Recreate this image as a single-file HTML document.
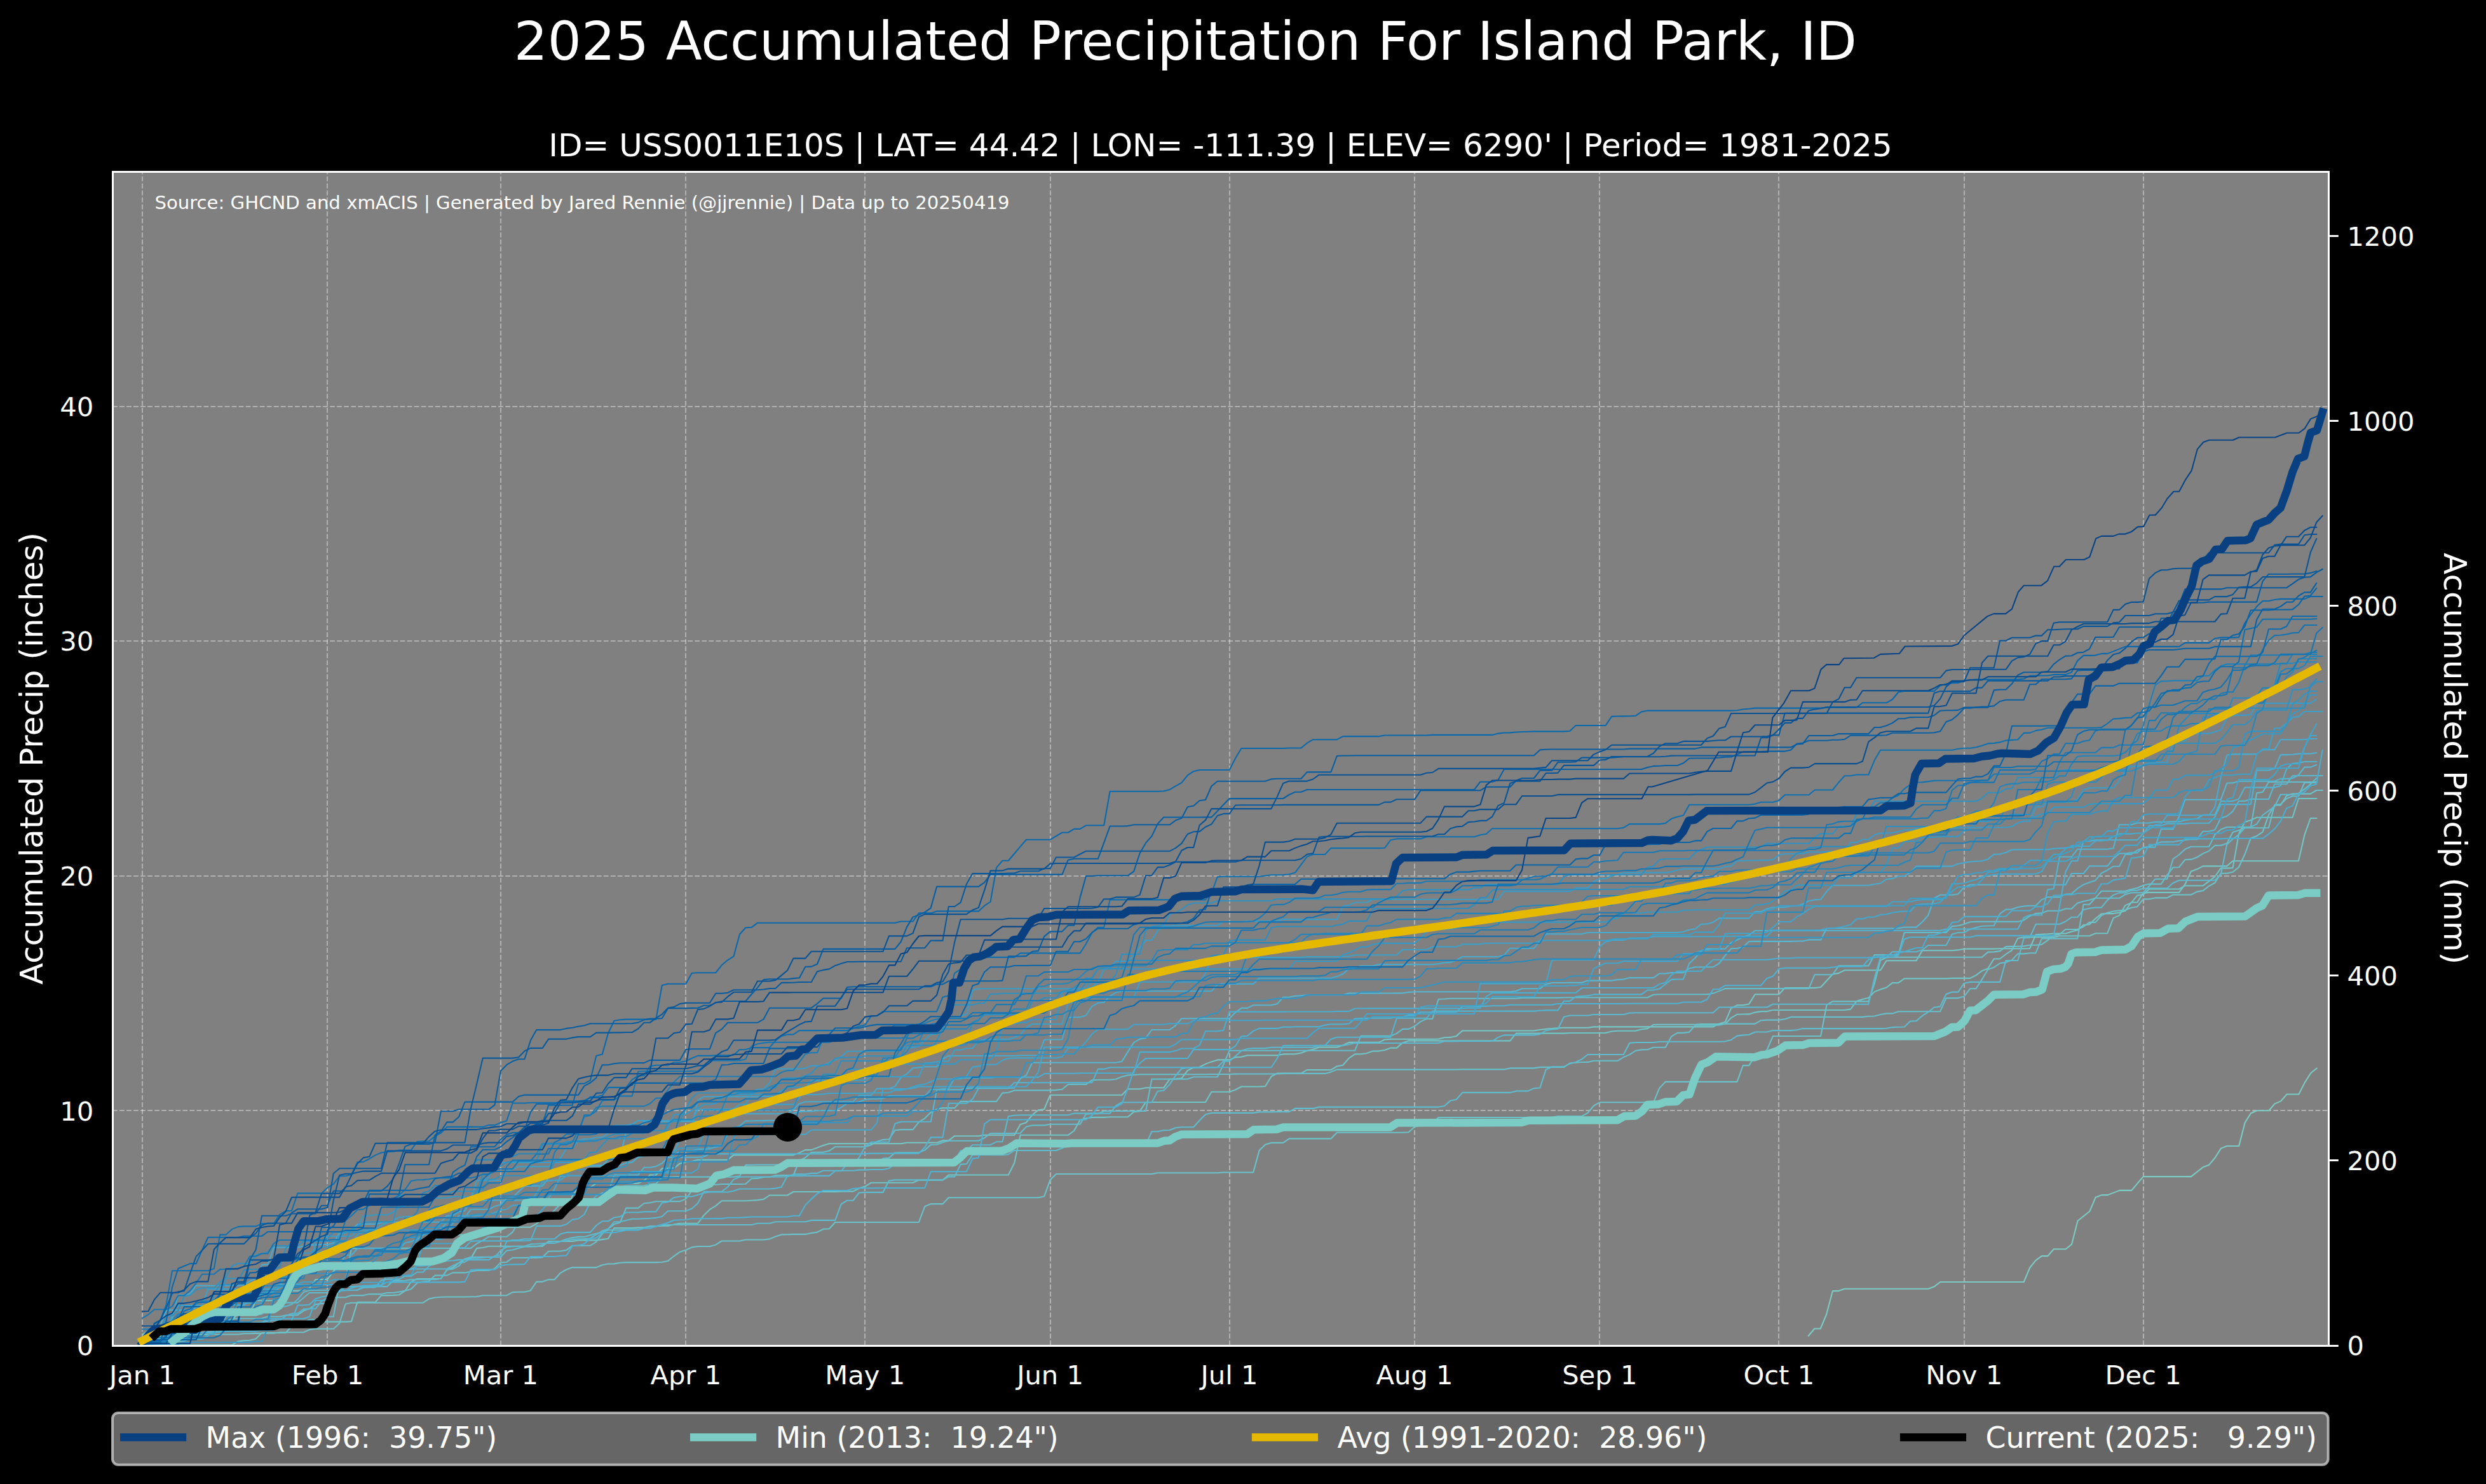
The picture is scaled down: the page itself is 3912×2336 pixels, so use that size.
<!DOCTYPE html>
<html lang="en"><head><meta charset="utf-8"><title>2025 Accumulated Precipitation For Island Park, ID</title>
<style>html,body{margin:0;padding:0;background:#000}body{width:3912px;height:2336px;overflow:hidden}svg{display:block}</style>
</head><body>
<svg width="3912" height="2336" viewBox="0 0 3912 2336" role="img" aria-label="2025 Accumulated Precipitation For Island Park, ID">
<rect x="0" y="0" width="3912" height="2336" fill="#000"/>
<rect x="177.0" y="270.0" width="3487.0" height="1848.0" fill="#808080"/>
<g stroke="#fff" stroke-opacity="0.38" stroke-width="2.08" stroke-dasharray="7.71 3.33" fill="none">
<path d="M224 2118.0V270.0"/>
<path d="M515 2118.0V270.0"/>
<path d="M788 2118.0V270.0"/>
<path d="M1079 2118.0V270.0"/>
<path d="M1361 2118.0V270.0"/>
<path d="M1653 2118.0V270.0"/>
<path d="M1935 2118.0V270.0"/>
<path d="M2226 2118.0V270.0"/>
<path d="M2517 2118.0V270.0"/>
<path d="M2799 2118.0V270.0"/>
<path d="M3091 2118.0V270.0"/>
<path d="M3373 2118.0V270.0"/>
<path d="M177.0 1748H3664.0"/>
<path d="M177.0 1379H3664.0"/>
<path d="M177.0 1009H3664.0"/>
<path d="M177.0 640H3664.0"/>
</g>
<clipPath id="ax"><rect x="177.0" y="270.0" width="3487.0" height="1848.0"/></clipPath>
<g clip-path="url(#ax)" fill="none" stroke-linejoin="round" stroke-linecap="square">
<g stroke-width="2.08">
<path stroke="#73c7c7" d="M224.0 2101.2L233.4 2094.6L242.8 2094.6L252.2 2094.6L261.6 2090.8L271.0 2090.4L280.4 2090.4L289.8 2090.4L299.2 2090.4L308.6 2090.4L318.0 2090.3L327.4 2090.3L336.8 2085.4L346.2 2085.4L355.6 2081.7L365.0 2077.1L374.4 2068.7L383.8 2068.7L393.2 2068.7L402.6 2047.3L412.0 2047.3L421.4 2047.3L430.8 2047.0L440.2 2044.4L449.6 2032.8L459.0 2031.9L468.4 2031.9L477.8 2030.4L487.2 2027.6L496.6 2014.0L506.0 2014.0L515.4 2013.9L524.8 2000.9L534.2 1992.5L543.6 1992.4L553.0 1992.2L562.4 1989.6L571.8 1988.0L581.2 1987.4L590.6 1986.7L600.0 1986.7L609.4 1986.7L618.7 1986.7L628.1 1986.7L637.5 1982.2L646.9 1976.5L656.3 1976.5L665.7 1961.0L675.1 1948.0L684.5 1948.0L693.9 1946.0L703.3 1944.7L712.7 1944.7L722.1 1943.9L731.5 1943.9L740.9 1943.9L750.3 1943.9L759.7 1943.9L769.1 1936.6L778.5 1936.6L787.9 1935.0L797.3 1931.7L806.7 1931.7L816.1 1931.7L825.5 1931.7L834.9 1931.7L844.3 1926.3L853.7 1919.0L863.1 1910.6L872.5 1910.6L881.9 1910.6L891.3 1910.6L900.7 1882.5L910.1 1870.2L919.5 1869.1L928.9 1869.1L938.3 1862.7L947.7 1862.7L957.1 1862.7L966.5 1862.7L975.9 1862.7L985.3 1862.7L994.7 1862.7L1004.1 1862.7L1013.5 1858.4L1022.9 1849.5L1032.3 1849.5L1041.7 1839.4L1051.1 1839.0L1060.5 1839.0L1069.9 1831.6L1079.3 1829.2L1088.7 1828.0L1098.1 1825.7L1107.5 1825.7L1116.9 1825.7L1126.3 1825.7L1135.7 1825.7L1145.1 1825.6L1154.5 1818.1L1163.9 1818.1L1173.3 1818.1L1182.7 1818.1L1192.1 1818.1L1201.5 1818.1L1210.9 1818.1L1220.3 1818.1L1229.7 1818.1L1239.1 1818.1L1248.5 1818.1L1257.9 1814.6L1267.3 1810.1L1276.7 1810.1L1286.1 1806.6L1295.5 1803.0L1304.9 1800.3L1314.3 1800.3L1323.7 1800.3L1333.1 1800.3L1342.5 1800.3L1351.9 1800.3L1361.3 1800.3L1370.7 1800.3L1380.1 1800.3L1389.5 1800.3L1398.9 1800.3L1408.3 1800.3L1417.7 1800.3L1427.1 1798.7L1436.5 1798.7L1445.9 1798.7L1455.3 1798.7L1464.7 1798.7L1474.1 1798.7L1483.5 1795.4L1492.8 1795.4L1502.2 1788.2L1511.6 1788.2L1521.0 1788.2L1530.4 1788.2L1539.8 1788.2L1549.2 1786.8L1558.6 1786.7L1568.0 1786.7L1577.4 1786.7L1586.8 1786.7L1596.2 1786.7L1605.6 1769.9L1615.0 1766.9L1624.4 1755.0L1633.8 1747.4L1643.2 1746.0L1652.6 1723.7L1662.0 1723.7L1671.4 1723.7L1680.8 1723.7L1690.2 1723.7L1699.6 1723.7L1709.0 1723.7L1718.4 1723.7L1727.8 1723.7L1737.2 1723.7L1746.6 1723.7L1756.0 1723.7L1765.4 1723.7L1774.8 1714.2L1784.2 1714.2L1793.6 1714.2L1803.0 1712.3L1812.4 1712.3L1821.8 1712.3L1831.2 1712.3L1840.6 1698.8L1850.0 1698.4L1859.4 1697.4L1868.8 1685.1L1878.2 1680.4L1887.6 1679.7L1897.0 1674.9L1906.4 1671.4L1915.8 1668.4L1925.2 1668.4L1934.6 1668.4L1944.0 1664.2L1953.4 1663.8L1962.8 1661.2L1972.2 1661.2L1981.6 1661.2L1991.0 1661.2L2000.4 1661.2L2009.8 1661.2L2019.2 1659.4L2028.6 1659.3L2038.0 1659.3L2047.4 1657.6L2056.8 1654.0L2066.2 1652.0L2075.6 1648.5L2085.0 1648.5L2094.4 1648.5L2103.8 1648.5L2113.2 1645.5L2122.6 1640.9L2132.0 1640.9L2141.4 1640.9L2150.8 1640.9L2160.2 1640.9L2169.6 1640.9L2179.0 1636.5L2188.4 1635.7L2197.8 1635.7L2207.2 1635.7L2216.6 1635.7L2226.0 1635.7L2235.4 1635.7L2244.8 1635.7L2254.2 1635.7L2263.6 1635.5L2273.0 1633.2L2282.4 1632.9L2291.8 1630.9L2301.2 1622.5L2310.6 1622.5L2320.0 1622.5L2329.4 1622.5L2338.8 1622.5L2348.2 1622.5L2357.5 1622.5L2366.9 1622.5L2376.3 1622.5L2385.7 1622.5L2395.1 1622.5L2404.5 1622.5L2413.9 1622.5L2423.3 1621.0L2432.7 1619.7L2442.1 1619.1L2451.5 1618.2L2460.9 1617.8L2470.3 1617.7L2479.7 1617.7L2489.1 1617.7L2498.5 1617.7L2507.9 1616.4L2517.3 1616.4L2526.7 1616.4L2536.1 1616.4L2545.5 1616.4L2554.9 1616.4L2564.3 1616.4L2573.7 1616.4L2583.1 1616.4L2592.5 1616.4L2601.9 1616.4L2611.3 1616.4L2620.7 1616.4L2630.1 1616.4L2639.5 1616.4L2648.9 1616.4L2658.3 1616.4L2667.7 1616.4L2677.1 1616.4L2686.5 1616.4L2695.9 1616.4L2705.3 1611.4L2714.7 1608.8L2724.1 1587.2L2733.5 1582.3L2742.9 1582.3L2752.3 1580.4L2761.7 1565.3L2771.1 1565.3L2780.5 1565.3L2789.9 1565.3L2799.3 1565.3L2808.7 1555.1L2818.1 1555.1L2827.5 1555.1L2836.9 1555.1L2846.3 1555.1L2855.7 1555.1L2865.1 1554.0L2874.5 1543.8L2883.9 1533.5L2893.3 1531.9L2902.7 1527.3L2912.1 1527.3L2921.5 1527.3L2930.9 1527.3L2940.3 1527.3L2949.7 1527.3L2959.1 1527.3L2968.5 1512.2L2977.9 1512.2L2987.3 1512.2L2996.7 1512.2L3006.1 1512.2L3015.5 1512.2L3024.9 1496.2L3034.3 1496.2L3043.7 1496.2L3053.1 1496.2L3062.5 1496.2L3071.9 1496.2L3081.3 1495.4L3090.7 1493.7L3100.1 1493.6L3109.5 1493.6L3118.9 1493.6L3128.3 1493.6L3137.7 1493.6L3147.1 1493.3L3156.5 1493.3L3165.9 1493.3L3175.3 1493.3L3184.7 1493.3L3194.1 1493.0L3203.5 1471.3L3212.9 1470.8L3222.3 1470.3L3231.6 1469.5L3241.0 1469.5L3250.4 1469.5L3259.8 1466.5L3269.2 1464.2L3278.6 1456.0L3288.0 1455.3L3297.4 1446.0L3306.8 1438.5L3316.2 1438.1L3325.6 1438.1L3335.0 1436.4L3344.4 1433.8L3353.8 1420.5L3363.2 1420.5L3372.6 1405.8L3382.0 1404.9L3391.4 1404.9L3400.8 1404.9L3410.2 1404.9L3419.6 1404.9L3429.0 1404.9L3438.4 1392.2L3447.8 1371.8L3457.2 1368.3L3466.6 1363.4L3476.0 1363.4L3485.4 1363.4L3494.8 1363.4L3504.2 1363.4L3513.6 1355.2L3523.0 1355.2L3532.4 1355.2L3541.8 1355.2L3551.2 1355.2L3560.6 1355.2L3570.0 1355.2L3579.4 1355.2L3588.8 1355.2L3598.2 1355.2L3607.6 1355.2L3617.0 1355.2L3626.4 1314.4L3635.8 1288.0L3645.2 1288.0"/>
<path stroke="#6ec5c8" d="M224.0 2117.4L233.4 2117.4L242.8 2117.4L252.2 2117.4L261.6 2117.4L271.0 2117.4L280.4 2117.4L289.8 2117.4L299.2 2117.4L308.6 2117.4L318.0 2117.4L327.4 2117.4L336.8 2117.4L346.2 2117.4L355.6 2117.4L365.0 2117.2L374.4 2111.6L383.8 2110.2L393.2 2109.8L402.6 2107.4L412.0 2098.0L421.4 2098.0L430.8 2098.0L440.2 2098.0L449.6 2098.0L459.0 2087.7L468.4 2085.2L477.8 2084.4L487.2 2081.7L496.6 2081.1L506.0 2080.6L515.4 2080.6L524.8 2080.6L534.2 2080.6L543.6 2080.6L553.0 2080.1L562.4 2049.9L571.8 2049.9L581.2 2049.9L590.6 2049.9L600.0 2039.3L609.4 2039.1L618.7 2038.9L628.1 2038.2L637.5 2032.0L646.9 2017.8L656.3 2013.0L665.7 2013.0L675.1 2013.0L684.5 2013.0L693.9 2013.0L703.3 1999.1L712.7 1995.4L722.1 1987.9L731.5 1981.9L740.9 1980.9L750.3 1964.9L759.7 1964.0L769.1 1961.8L778.5 1961.8L787.9 1961.8L797.3 1961.8L806.7 1961.8L816.1 1961.8L825.5 1961.8L834.9 1961.8L844.3 1961.8L853.7 1961.8L863.1 1954.0L872.5 1954.0L881.9 1954.0L891.3 1954.0L900.7 1953.9L910.1 1952.5L919.5 1952.4L928.9 1952.4L938.3 1952.4L947.7 1951.1L957.1 1949.7L966.5 1933.1L975.9 1933.1L985.3 1933.1L994.7 1933.1L1004.1 1932.4L1013.5 1932.4L1022.9 1930.2L1032.3 1930.1L1041.7 1929.8L1051.1 1929.8L1060.5 1927.4L1069.9 1925.8L1079.3 1925.8L1088.7 1925.8L1098.1 1925.8L1107.5 1913.2L1116.9 1903.9L1126.3 1898.1L1135.7 1890.2L1145.1 1890.2L1154.5 1890.2L1163.9 1890.2L1173.3 1890.2L1182.7 1889.7L1192.1 1889.1L1201.5 1887.8L1210.9 1881.5L1220.3 1881.5L1229.7 1881.5L1239.1 1881.5L1248.5 1876.0L1257.9 1876.0L1267.3 1876.0L1276.7 1876.0L1286.1 1876.0L1295.5 1876.0L1304.9 1876.0L1314.3 1876.0L1323.7 1875.4L1333.1 1875.4L1342.5 1875.4L1351.9 1870.5L1361.3 1867.6L1370.7 1861.8L1380.1 1861.8L1389.5 1861.8L1398.9 1861.8L1408.3 1861.8L1417.7 1861.8L1427.1 1861.8L1436.5 1861.8L1445.9 1857.6L1455.3 1857.6L1464.7 1857.6L1474.1 1857.6L1483.5 1857.6L1492.8 1849.5L1502.2 1849.5L1511.6 1849.5L1521.0 1849.5L1530.4 1849.5L1539.8 1849.5L1549.2 1849.5L1558.6 1849.5L1568.0 1849.5L1577.4 1849.5L1586.8 1849.5L1596.2 1830.7L1605.6 1786.8L1615.0 1786.8L1624.4 1786.8L1633.8 1786.8L1643.2 1786.8L1652.6 1786.8L1662.0 1786.8L1671.4 1786.8L1680.8 1786.8L1690.2 1780.0L1699.6 1763.0L1709.0 1760.4L1718.4 1758.9L1727.8 1758.9L1737.2 1758.9L1746.6 1758.2L1756.0 1758.2L1765.4 1758.2L1774.8 1758.1L1784.2 1750.3L1793.6 1749.1L1803.0 1735.0L1812.4 1735.0L1821.8 1735.0L1831.2 1735.0L1840.6 1735.0L1850.0 1735.0L1859.4 1735.0L1868.8 1735.0L1878.2 1735.0L1887.6 1735.0L1897.0 1735.0L1906.4 1718.8L1915.8 1718.8L1925.2 1718.8L1934.6 1718.8L1944.0 1715.5L1953.4 1710.5L1962.8 1710.5L1972.2 1710.5L1981.6 1710.5L1991.0 1710.0L2000.4 1694.7L2009.8 1689.6L2019.2 1689.6L2028.6 1689.6L2038.0 1689.6L2047.4 1689.6L2056.8 1684.1L2066.2 1684.1L2075.6 1684.1L2085.0 1684.1L2094.4 1684.1L2103.8 1678.5L2113.2 1676.8L2122.6 1665.9L2132.0 1659.4L2141.4 1659.2L2150.8 1658.0L2160.2 1654.6L2169.6 1654.6L2179.0 1652.9L2188.4 1649.6L2197.8 1649.6L2207.2 1641.4L2216.6 1638.4L2226.0 1638.4L2235.4 1638.4L2244.8 1638.4L2254.2 1638.4L2263.6 1638.4L2273.0 1638.4L2282.4 1638.4L2291.8 1638.4L2301.2 1638.4L2310.6 1638.4L2320.0 1638.4L2329.4 1638.4L2338.8 1638.4L2348.2 1638.4L2357.5 1638.4L2366.9 1638.4L2376.3 1638.4L2385.7 1626.6L2395.1 1626.6L2404.5 1626.6L2413.9 1626.6L2423.3 1626.6L2432.7 1626.6L2442.1 1626.6L2451.5 1626.6L2460.9 1626.6L2470.3 1626.0L2479.7 1626.0L2489.1 1626.0L2498.5 1626.0L2507.9 1626.0L2517.3 1626.0L2526.7 1626.0L2536.1 1623.5L2545.5 1622.8L2554.9 1622.8L2564.3 1622.8L2573.7 1622.8L2583.1 1620.2L2592.5 1619.1L2601.9 1613.0L2611.3 1612.7L2620.7 1612.7L2630.1 1612.7L2639.5 1612.7L2648.9 1612.7L2658.3 1612.7L2667.7 1612.7L2677.1 1612.0L2686.5 1612.0L2695.9 1612.0L2705.3 1612.0L2714.7 1611.9L2724.1 1602.3L2733.5 1596.8L2742.9 1596.5L2752.3 1596.4L2761.7 1593.6L2771.1 1592.1L2780.5 1592.1L2789.9 1590.0L2799.3 1590.0L2808.7 1590.0L2818.1 1590.0L2827.5 1590.0L2836.9 1590.0L2846.3 1590.0L2855.7 1590.0L2865.1 1590.0L2874.5 1590.0L2883.9 1590.0L2893.3 1590.0L2902.7 1590.0L2912.1 1588.6L2921.5 1576.1L2930.9 1573.0L2940.3 1570.8L2949.7 1561.1L2959.1 1557.5L2968.5 1554.5L2977.9 1547.1L2987.3 1547.1L2996.7 1540.4L3006.1 1540.4L3015.5 1540.4L3024.9 1540.4L3034.3 1540.4L3043.7 1540.4L3053.1 1540.4L3062.5 1540.4L3071.9 1539.9L3081.3 1539.9L3090.7 1539.9L3100.1 1539.9L3109.5 1535.2L3118.9 1528.2L3128.3 1524.5L3137.7 1509.4L3147.1 1509.3L3156.5 1502.0L3165.9 1495.8L3175.3 1476.9L3184.7 1475.2L3194.1 1475.2L3203.5 1475.2L3212.9 1475.2L3222.3 1475.2L3231.6 1475.2L3241.0 1473.3L3250.4 1473.3L3259.8 1473.3L3269.2 1473.3L3278.6 1473.3L3288.0 1473.2L3297.4 1469.2L3306.8 1469.2L3316.2 1469.2L3325.6 1445.1L3335.0 1440.9L3344.4 1425.1L3353.8 1421.2L3363.2 1409.6L3372.6 1408.3L3382.0 1399.5L3391.4 1399.5L3400.8 1399.5L3410.2 1399.5L3419.6 1399.5L3429.0 1399.5L3438.4 1394.2L3447.8 1394.2L3457.2 1394.2L3466.6 1394.2L3476.0 1387.4L3485.4 1379.9L3494.8 1366.6L3504.2 1366.6L3513.6 1366.1L3523.0 1312.5L3532.4 1294.0L3541.8 1291.1L3551.2 1286.8L3560.6 1286.8L3570.0 1286.8L3579.4 1286.8L3588.8 1286.8L3598.2 1286.8L3607.6 1286.8L3617.0 1257.0L3626.4 1257.0L3635.8 1257.0L3645.2 1257.0"/>
<path stroke="#6ac3ca" d="M224.0 2116.8L233.4 2116.8L242.8 2116.8L252.2 2116.8L261.6 2116.8L271.0 2116.8L280.4 2108.4L289.8 2108.4L299.2 2101.2L308.6 2101.2L318.0 2101.2L327.4 2100.5L336.8 2100.5L346.2 2100.5L355.6 2100.5L365.0 2100.5L374.4 2100.5L383.8 2099.2L393.2 2099.2L402.6 2098.9L412.0 2098.8L421.4 2098.8L430.8 2098.8L440.2 2097.3L449.6 2097.3L459.0 2097.3L468.4 2097.3L477.8 2097.3L487.2 2093.0L496.6 2091.8L506.0 2091.7L515.4 2091.7L524.8 2091.7L534.2 2083.1L543.6 2052.8L553.0 2050.7L562.4 2050.7L571.8 2050.7L581.2 2050.7L590.6 2050.7L600.0 2050.7L609.4 2050.7L618.7 2050.7L628.1 2050.7L637.5 2050.7L646.9 2050.7L656.3 2050.7L665.7 2050.7L675.1 2044.6L684.5 2042.5L693.9 2041.7L703.3 2041.5L712.7 2041.5L722.1 2041.5L731.5 2041.5L740.9 2041.3L750.3 2041.1L759.7 2039.2L769.1 2039.2L778.5 2039.2L787.9 2039.2L797.3 2039.2L806.7 2034.1L816.1 2033.7L825.5 2033.7L834.9 2031.4L844.3 2017.6L853.7 2017.6L863.1 2014.2L872.5 2014.2L881.9 2003.8L891.3 1998.5L900.7 1995.1L910.1 1995.1L919.5 1995.1L928.9 1995.1L938.3 1995.1L947.7 1991.2L957.1 1989.5L966.5 1989.4L975.9 1987.8L985.3 1987.1L994.7 1987.1L1004.1 1987.1L1013.5 1987.1L1022.9 1987.1L1032.3 1987.1L1041.7 1986.8L1051.1 1984.9L1060.5 1977.3L1069.9 1970.7L1079.3 1967.8L1088.7 1963.4L1098.1 1962.0L1107.5 1962.0L1116.9 1962.0L1126.3 1959.4L1135.7 1953.5L1145.1 1953.5L1154.5 1953.5L1163.9 1953.5L1173.3 1951.5L1182.7 1951.5L1192.1 1951.5L1201.5 1951.5L1210.9 1950.4L1220.3 1946.5L1229.7 1943.4L1239.1 1943.3L1248.5 1942.9L1257.9 1942.9L1267.3 1942.9L1276.7 1941.0L1286.1 1939.6L1295.5 1934.8L1304.9 1934.3L1314.3 1924.0L1323.7 1924.0L1333.1 1924.0L1342.5 1924.0L1351.9 1924.0L1361.3 1924.0L1370.7 1924.0L1380.1 1924.0L1389.5 1924.0L1398.9 1924.0L1408.3 1924.0L1417.7 1924.0L1427.1 1924.0L1436.5 1924.0L1445.9 1924.0L1455.3 1899.0L1464.7 1895.1L1474.1 1895.1L1483.5 1895.1L1492.8 1885.2L1502.2 1885.2L1511.6 1885.2L1521.0 1885.2L1530.4 1885.2L1539.8 1885.2L1549.2 1885.2L1558.6 1885.2L1568.0 1885.2L1577.4 1885.2L1586.8 1885.2L1596.2 1885.2L1605.6 1885.2L1615.0 1885.2L1624.4 1885.2L1633.8 1885.2L1643.2 1883.3L1652.6 1857.2L1662.0 1848.0L1671.4 1848.0L1680.8 1848.0L1690.2 1848.0L1699.6 1848.0L1709.0 1848.0L1718.4 1848.0L1727.8 1848.0L1737.2 1848.0L1746.6 1848.0L1756.0 1848.0L1765.4 1848.0L1774.8 1848.0L1784.2 1848.0L1793.6 1848.0L1803.0 1848.0L1812.4 1848.0L1821.8 1846.2L1831.2 1846.2L1840.6 1846.2L1850.0 1846.2L1859.4 1846.2L1868.8 1846.2L1878.2 1846.2L1887.6 1846.2L1897.0 1846.2L1906.4 1846.2L1915.8 1846.2L1925.2 1845.5L1934.6 1845.5L1944.0 1845.5L1953.4 1845.5L1962.8 1845.5L1972.2 1845.5L1981.6 1811.0L1991.0 1801.8L2000.4 1798.9L2009.8 1798.9L2019.2 1798.9L2028.6 1792.4L2038.0 1792.4L2047.4 1792.4L2056.8 1792.4L2066.2 1792.4L2075.6 1792.4L2085.0 1792.4L2094.4 1792.4L2103.8 1782.8L2113.2 1782.8L2122.6 1782.8L2132.0 1782.8L2141.4 1782.8L2150.8 1782.8L2160.2 1782.8L2169.6 1782.8L2179.0 1782.8L2188.4 1782.8L2197.8 1782.8L2207.2 1782.8L2216.6 1782.3L2226.0 1773.7L2235.4 1771.6L2244.8 1767.4L2254.2 1767.4L2263.6 1759.1L2273.0 1759.0L2282.4 1759.0L2291.8 1759.0L2301.2 1759.0L2310.6 1759.0L2320.0 1759.0L2329.4 1759.0L2338.8 1759.0L2348.2 1759.0L2357.5 1759.0L2366.9 1759.0L2376.3 1759.0L2385.7 1759.0L2395.1 1759.0L2404.5 1759.0L2413.9 1759.0L2423.3 1759.0L2432.7 1759.0L2442.1 1759.0L2451.5 1757.1L2460.9 1757.1L2470.3 1757.1L2479.7 1757.1L2489.1 1757.1L2498.5 1751.9L2507.9 1740.6L2517.3 1735.3L2526.7 1735.3L2536.1 1735.3L2545.5 1735.3L2554.9 1735.3L2564.3 1735.3L2573.7 1735.3L2583.1 1735.3L2592.5 1735.3L2601.9 1735.3L2611.3 1712.9L2620.7 1702.9L2630.1 1702.9L2639.5 1702.9L2648.9 1702.9L2658.3 1702.9L2667.7 1702.9L2677.1 1702.9L2686.5 1702.9L2695.9 1702.9L2705.3 1702.9L2714.7 1702.9L2724.1 1702.9L2733.5 1702.9L2742.9 1677.1L2752.3 1677.1L2761.7 1662.1L2771.1 1659.5L2780.5 1652.9L2789.9 1631.0L2799.3 1631.0L2808.7 1631.0L2818.1 1631.0L2827.5 1631.0L2836.9 1631.0L2846.3 1631.0L2855.7 1631.0L2865.1 1631.0L2874.5 1581.9L2883.9 1576.4L2893.3 1576.4L2902.7 1576.4L2912.1 1576.4L2921.5 1576.4L2930.9 1576.4L2940.3 1576.4L2949.7 1548.2L2959.1 1511.5L2968.5 1507.2L2977.9 1506.7L2987.3 1506.7L2996.7 1506.7L3006.1 1506.7L3015.5 1506.7L3024.9 1506.7L3034.3 1506.7L3043.7 1506.7L3053.1 1506.7L3062.5 1506.7L3071.9 1506.7L3081.3 1506.7L3090.7 1506.7L3100.1 1506.7L3109.5 1506.7L3118.9 1506.7L3128.3 1498.6L3137.7 1498.4L3147.1 1497.1L3156.5 1490.1L3165.9 1489.9L3175.3 1489.8L3184.7 1489.3L3194.1 1487.7L3203.5 1487.7L3212.9 1486.7L3222.3 1480.2L3231.6 1472.2L3241.0 1470.6L3250.4 1463.0L3259.8 1463.0L3269.2 1463.0L3278.6 1458.7L3288.0 1451.9L3297.4 1451.9L3306.8 1441.1L3316.2 1436.8L3325.6 1434.5L3335.0 1433.3L3344.4 1432.5L3353.8 1428.8L3363.2 1427.2L3372.6 1415.4L3382.0 1415.3L3391.4 1413.4L3400.8 1413.4L3410.2 1413.4L3419.6 1408.5L3429.0 1408.5L3438.4 1408.5L3447.8 1408.5L3457.2 1403.6L3466.6 1402.1L3476.0 1394.8L3485.4 1389.5L3494.8 1374.8L3504.2 1374.8L3513.6 1372.7L3523.0 1365.0L3532.4 1344.9L3541.8 1319.5L3551.2 1316.0L3560.6 1309.6L3570.0 1283.0L3579.4 1267.5L3588.8 1267.5L3598.2 1252.7L3607.6 1249.6L3617.0 1249.6L3626.4 1249.6L3635.8 1249.6L3645.2 1244.0L3654.6 1244.0"/>
<path stroke="#66c0cb" d="M224.0 2116.8L233.4 2116.8L242.8 2116.8L252.2 2116.8L261.6 2110.2L271.0 2107.1L280.4 2107.1L289.8 2099.2L299.2 2086.8L308.6 2086.4L318.0 2085.3L327.4 2083.5L336.8 2083.5L346.2 2081.0L355.6 2080.0L365.0 2076.4L374.4 2075.5L383.8 2075.5L393.2 2075.5L402.6 2075.5L412.0 2075.2L421.4 2072.5L430.8 2072.5L440.2 2072.5L449.6 2070.4L459.0 2070.4L468.4 2070.0L477.8 2063.3L487.2 2059.8L496.6 2053.3L506.0 2052.0L515.4 2052.0L524.8 2042.3L534.2 2042.3L543.6 2042.3L553.0 2039.1L562.4 2039.1L571.8 2039.1L581.2 2037.1L590.6 2037.1L600.0 2037.1L609.4 2035.0L618.7 2035.0L628.1 2033.6L637.5 2031.7L646.9 2029.3L656.3 2019.6L665.7 2017.5L675.1 2016.7L684.5 2007.6L693.9 2007.6L703.3 2007.6L712.7 2003.4L722.1 2003.4L731.5 2003.4L740.9 2001.5L750.3 2000.0L759.7 2000.0L769.1 1999.8L778.5 1997.0L787.9 1987.1L797.3 1986.7L806.7 1979.9L816.1 1979.9L825.5 1979.9L834.9 1979.9L844.3 1979.9L853.7 1979.1L863.1 1969.8L872.5 1969.5L881.9 1969.5L891.3 1967.9L900.7 1960.8L910.1 1960.7L919.5 1960.7L928.9 1960.7L938.3 1954.9L947.7 1942.1L957.1 1934.2L966.5 1927.1L975.9 1924.2L985.3 1901.6L994.7 1901.6L1004.1 1901.6L1013.5 1894.3L1022.9 1893.3L1032.3 1891.3L1041.7 1891.2L1051.1 1891.1L1060.5 1891.1L1069.9 1891.1L1079.3 1887.2L1088.7 1874.3L1098.1 1864.7L1107.5 1864.7L1116.9 1864.7L1126.3 1864.7L1135.7 1864.0L1145.1 1864.0L1154.5 1864.0L1163.9 1864.0L1173.3 1863.8L1182.7 1855.3L1192.1 1854.9L1201.5 1852.9L1210.9 1852.7L1220.3 1850.4L1229.7 1850.0L1239.1 1850.0L1248.5 1850.0L1257.9 1826.8L1267.3 1822.3L1276.7 1814.0L1286.1 1813.8L1295.5 1813.8L1304.9 1811.6L1314.3 1805.2L1323.7 1805.2L1333.1 1805.2L1342.5 1805.2L1351.9 1805.2L1361.3 1805.2L1370.7 1802.3L1380.1 1797.0L1389.5 1794.1L1398.9 1793.5L1408.3 1779.3L1417.7 1778.1L1427.1 1778.1L1436.5 1778.1L1445.9 1766.4L1455.3 1760.3L1464.7 1750.9L1474.1 1746.1L1483.5 1744.1L1492.8 1744.1L1502.2 1744.1L1511.6 1733.9L1521.0 1733.9L1530.4 1733.9L1539.8 1733.9L1549.2 1733.9L1558.6 1733.9L1568.0 1733.9L1577.4 1720.6L1586.8 1719.7L1596.2 1716.4L1605.6 1716.4L1615.0 1716.4L1624.4 1716.4L1633.8 1716.4L1643.2 1716.4L1652.6 1716.4L1662.0 1715.9L1671.4 1714.7L1680.8 1707.0L1690.2 1706.9L1699.6 1706.9L1709.0 1706.9L1718.4 1700.4L1727.8 1699.7L1737.2 1699.7L1746.6 1699.7L1756.0 1698.8L1765.4 1694.9L1774.8 1692.5L1784.2 1692.0L1793.6 1691.2L1803.0 1691.2L1812.4 1691.2L1821.8 1691.2L1831.2 1691.2L1840.6 1691.2L1850.0 1691.2L1859.4 1691.2L1868.8 1691.2L1878.2 1691.2L1887.6 1691.2L1897.0 1691.2L1906.4 1691.0L1915.8 1691.0L1925.2 1691.0L1934.6 1691.0L1944.0 1690.6L1953.4 1690.5L1962.8 1690.5L1972.2 1690.5L1981.6 1690.5L1991.0 1690.5L2000.4 1690.5L2009.8 1690.5L2019.2 1689.9L2028.6 1689.9L2038.0 1689.9L2047.4 1689.9L2056.8 1689.9L2066.2 1689.9L2075.6 1689.9L2085.0 1689.9L2094.4 1687.4L2103.8 1683.6L2113.2 1683.6L2122.6 1683.6L2132.0 1683.6L2141.4 1683.6L2150.8 1683.6L2160.2 1683.6L2169.6 1683.6L2179.0 1683.6L2188.4 1683.6L2197.8 1683.6L2207.2 1683.6L2216.6 1683.6L2226.0 1683.6L2235.4 1683.6L2244.8 1683.6L2254.2 1683.6L2263.6 1683.6L2273.0 1683.6L2282.4 1683.6L2291.8 1683.6L2301.2 1683.4L2310.6 1683.4L2320.0 1683.4L2329.4 1683.4L2338.8 1683.4L2348.2 1683.4L2357.5 1683.4L2366.9 1683.4L2376.3 1681.4L2385.7 1681.4L2395.1 1681.4L2404.5 1681.4L2413.9 1681.4L2423.3 1679.9L2432.7 1679.9L2442.1 1679.9L2451.5 1679.9L2460.9 1679.9L2470.3 1673.5L2479.7 1672.8L2489.1 1672.0L2498.5 1671.9L2507.9 1669.8L2517.3 1669.8L2526.7 1669.8L2536.1 1669.8L2545.5 1669.8L2554.9 1664.1L2564.3 1660.1L2573.7 1654.0L2583.1 1652.4L2592.5 1652.2L2601.9 1648.8L2611.3 1648.8L2620.7 1648.8L2630.1 1631.7L2639.5 1625.9L2648.9 1625.9L2658.3 1624.6L2667.7 1613.8L2677.1 1613.8L2686.5 1613.8L2695.9 1613.8L2705.3 1613.8L2714.7 1611.6L2724.1 1611.6L2733.5 1611.6L2742.9 1611.6L2752.3 1611.6L2761.7 1611.6L2771.1 1606.2L2780.5 1605.6L2789.9 1605.6L2799.3 1605.6L2808.7 1604.2L2818.1 1600.9L2827.5 1600.9L2836.9 1600.9L2846.3 1600.9L2855.7 1600.9L2865.1 1600.9L2874.5 1600.9L2883.9 1600.9L2893.3 1600.9L2902.7 1600.9L2912.1 1600.9L2921.5 1600.9L2930.9 1600.9L2940.3 1599.7L2949.7 1599.5L2959.1 1597.0L2968.5 1595.4L2977.9 1595.4L2987.3 1592.2L2996.7 1592.2L3006.1 1592.2L3015.5 1592.2L3024.9 1592.2L3034.3 1592.2L3043.7 1592.2L3053.1 1592.2L3062.5 1571.1L3071.9 1571.1L3081.3 1571.1L3090.7 1568.6L3100.1 1556.3L3109.5 1556.3L3118.9 1541.6L3128.3 1526.0L3137.7 1522.7L3147.1 1516.3L3156.5 1514.9L3165.9 1511.4L3175.3 1501.4L3184.7 1501.4L3194.1 1500.2L3203.5 1500.2L3212.9 1477.4L3222.3 1477.4L3231.6 1477.4L3241.0 1477.4L3250.4 1477.4L3259.8 1477.4L3269.2 1477.4L3278.6 1423.8L3288.0 1423.8L3297.4 1413.4L3306.8 1402.8L3316.2 1402.8L3325.6 1402.8L3335.0 1402.8L3344.4 1402.8L3353.8 1400.1L3363.2 1397.8L3372.6 1393.8L3382.0 1391.6L3391.4 1391.6L3400.8 1391.6L3410.2 1377.3L3419.6 1365.5L3429.0 1365.2L3438.4 1353.3L3447.8 1352.9L3457.2 1349.5L3466.6 1343.6L3476.0 1339.6L3485.4 1330.9L3494.8 1330.8L3504.2 1327.8L3513.6 1309.9L3523.0 1307.0L3532.4 1303.2L3541.8 1303.2L3551.2 1303.2L3560.6 1303.2L3570.0 1303.0L3579.4 1266.7L3588.8 1266.1L3598.2 1257.1L3607.6 1253.2L3617.0 1253.2L3626.4 1232.0L3635.8 1232.0L3645.2 1232.0"/>
<path stroke="#62becc" d="M224.0 2111.7L233.4 2111.7L242.8 2111.7L252.2 2106.1L261.6 2105.4L271.0 2104.1L280.4 2104.0L289.8 2099.9L299.2 2099.5L308.6 2099.1L318.0 2097.8L327.4 2096.5L336.8 2095.3L346.2 2095.3L355.6 2095.3L365.0 2095.3L374.4 2095.3L383.8 2095.1L393.2 2092.9L402.6 2092.4L412.0 2086.2L421.4 2086.2L430.8 2086.2L440.2 2086.2L449.6 2086.2L459.0 2086.2L468.4 2083.3L477.8 2081.9L487.2 2077.2L496.6 2077.2L506.0 2073.3L515.4 2072.5L524.8 2072.5L534.2 2019.4L543.6 2018.5L553.0 1964.9L562.4 1964.9L571.8 1964.9L581.2 1964.9L590.6 1964.9L600.0 1964.9L609.4 1964.9L618.7 1964.9L628.1 1964.9L637.5 1964.9L646.9 1964.9L656.3 1964.9L665.7 1964.9L675.1 1964.9L684.5 1964.9L693.9 1964.9L703.3 1964.9L712.7 1964.9L722.1 1964.9L731.5 1964.9L740.9 1964.9L750.3 1957.7L759.7 1952.7L769.1 1946.7L778.5 1946.7L787.9 1946.7L797.3 1946.7L806.7 1939.4L816.1 1922.9L825.5 1921.5L834.9 1920.7L844.3 1918.3L853.7 1917.9L863.1 1913.5L872.5 1905.3L881.9 1895.0L891.3 1892.3L900.7 1892.3L910.1 1892.3L919.5 1888.5L928.9 1888.5L938.3 1888.5L947.7 1888.5L957.1 1886.6L966.5 1876.4L975.9 1868.1L985.3 1866.5L994.7 1866.5L1004.1 1866.5L1013.5 1866.5L1022.9 1864.0L1032.3 1863.2L1041.7 1853.2L1051.1 1853.2L1060.5 1852.6L1069.9 1852.6L1079.3 1852.6L1088.7 1852.6L1098.1 1852.6L1107.5 1852.6L1116.9 1852.6L1126.3 1852.6L1135.7 1852.6L1145.1 1852.6L1154.5 1852.6L1163.9 1851.4L1173.3 1833.9L1182.7 1833.8L1192.1 1833.5L1201.5 1833.5L1210.9 1833.5L1220.3 1833.5L1229.7 1833.5L1239.1 1833.5L1248.5 1833.5L1257.9 1833.5L1267.3 1833.5L1276.7 1833.5L1286.1 1831.8L1295.5 1831.8L1304.9 1831.8L1314.3 1831.8L1323.7 1830.8L1333.1 1830.8L1342.5 1830.8L1351.9 1830.8L1361.3 1830.4L1370.7 1829.1L1380.1 1829.1L1389.5 1823.6L1398.9 1822.9L1408.3 1814.6L1417.7 1814.2L1427.1 1814.2L1436.5 1814.2L1445.9 1814.2L1455.3 1810.4L1464.7 1802.0L1474.1 1801.8L1483.5 1798.2L1492.8 1795.7L1502.2 1795.7L1511.6 1795.7L1521.0 1795.7L1530.4 1795.7L1539.8 1795.7L1549.2 1791.2L1558.6 1784.0L1568.0 1784.0L1577.4 1784.0L1586.8 1784.0L1596.2 1784.0L1605.6 1783.7L1615.0 1773.6L1624.4 1771.4L1633.8 1771.4L1643.2 1771.4L1652.6 1769.8L1662.0 1769.8L1671.4 1769.8L1680.8 1769.8L1690.2 1769.8L1699.6 1769.8L1709.0 1753.7L1718.4 1753.1L1727.8 1753.1L1737.2 1749.0L1746.6 1749.0L1756.0 1749.0L1765.4 1749.0L1774.8 1749.0L1784.2 1749.0L1793.6 1749.0L1803.0 1749.0L1812.4 1698.6L1821.8 1698.6L1831.2 1698.6L1840.6 1698.6L1850.0 1698.6L1859.4 1698.6L1868.8 1698.6L1878.2 1695.2L1887.6 1695.2L1897.0 1695.2L1906.4 1695.2L1915.8 1695.2L1925.2 1675.8L1934.6 1653.8L1944.0 1653.8L1953.4 1653.8L1962.8 1653.8L1972.2 1653.8L1981.6 1653.8L1991.0 1653.8L2000.4 1653.8L2009.8 1653.8L2019.2 1653.8L2028.6 1653.8L2038.0 1653.8L2047.4 1653.8L2056.8 1653.8L2066.2 1653.8L2075.6 1653.8L2085.0 1653.8L2094.4 1653.8L2103.8 1653.8L2113.2 1653.8L2122.6 1653.8L2132.0 1653.8L2141.4 1630.8L2150.8 1630.8L2160.2 1630.8L2169.6 1630.8L2179.0 1630.8L2188.4 1630.8L2197.8 1626.9L2207.2 1619.9L2216.6 1619.9L2226.0 1615.5L2235.4 1608.1L2244.8 1603.8L2254.2 1603.8L2263.6 1572.7L2273.0 1572.5L2282.4 1571.7L2291.8 1571.7L2301.2 1571.7L2310.6 1571.7L2320.0 1571.7L2329.4 1571.7L2338.8 1571.7L2348.2 1571.7L2357.5 1571.7L2366.9 1571.7L2376.3 1571.7L2385.7 1571.7L2395.1 1570.6L2404.5 1570.6L2413.9 1570.6L2423.3 1570.6L2432.7 1570.6L2442.1 1570.6L2451.5 1570.6L2460.9 1570.3L2470.3 1570.3L2479.7 1570.3L2489.1 1570.3L2498.5 1570.3L2507.9 1570.3L2517.3 1570.3L2526.7 1570.3L2536.1 1570.3L2545.5 1570.3L2554.9 1570.3L2564.3 1570.3L2573.7 1570.3L2583.1 1570.3L2592.5 1570.3L2601.9 1565.7L2611.3 1565.3L2620.7 1565.3L2630.1 1565.3L2639.5 1565.3L2648.9 1565.3L2658.3 1565.3L2667.7 1565.3L2677.1 1565.3L2686.5 1565.3L2695.9 1563.6L2705.3 1560.1L2714.7 1556.1L2724.1 1556.1L2733.5 1556.1L2742.9 1556.1L2752.3 1556.1L2761.7 1556.1L2771.1 1556.1L2780.5 1556.1L2789.9 1556.1L2799.3 1556.1L2808.7 1556.1L2818.1 1556.1L2827.5 1556.1L2836.9 1556.1L2846.3 1556.1L2855.7 1534.2L2865.1 1534.2L2874.5 1534.2L2883.9 1534.2L2893.3 1520.4L2902.7 1520.4L2912.1 1520.4L2921.5 1520.4L2930.9 1520.4L2940.3 1520.4L2949.7 1503.1L2959.1 1503.1L2968.5 1503.1L2977.9 1503.1L2987.3 1503.1L2996.7 1468.0L3006.1 1468.0L3015.5 1468.0L3024.9 1468.0L3034.3 1468.0L3043.7 1468.0L3053.1 1468.0L3062.5 1468.0L3071.9 1458.1L3081.3 1457.2L3090.7 1454.7L3100.1 1451.2L3109.5 1450.9L3118.9 1450.9L3128.3 1450.9L3137.7 1450.9L3147.1 1450.9L3156.5 1450.9L3165.9 1450.9L3175.3 1450.9L3184.7 1448.5L3194.1 1442.1L3203.5 1438.0L3212.9 1437.4L3222.3 1433.8L3231.6 1433.8L3241.0 1433.8L3250.4 1430.5L3259.8 1430.5L3269.2 1421.5L3278.6 1418.7L3288.0 1416.8L3297.4 1413.8L3306.8 1413.8L3316.2 1413.8L3325.6 1413.8L3335.0 1413.8L3344.4 1408.0L3353.8 1405.3L3363.2 1405.3L3372.6 1405.3L3382.0 1394.8L3391.4 1383.7L3400.8 1383.7L3410.2 1383.7L3419.6 1352.0L3429.0 1345.5L3438.4 1336.8L3447.8 1332.7L3457.2 1332.7L3466.6 1332.7L3476.0 1332.7L3485.4 1313.9L3494.8 1305.7L3504.2 1302.0L3513.6 1302.0L3523.0 1302.0L3532.4 1302.0L3541.8 1302.0L3551.2 1248.4L3560.6 1246.8L3570.0 1231.0L3579.4 1231.0L3588.8 1231.0L3598.2 1231.0L3607.6 1231.0L3617.0 1231.0L3626.4 1231.0L3635.8 1231.0L3645.2 1231.0"/>
<path stroke="#5ebcce" d="M224.0 2117.0L233.4 2116.8L242.8 2116.4L252.2 2114.5L261.6 2114.4L271.0 2114.4L280.4 2112.4L289.8 2110.8L299.2 2108.3L308.6 2108.3L318.0 2107.9L327.4 2102.4L336.8 2097.2L346.2 2096.6L355.6 2071.5L365.0 2071.5L374.4 2069.7L383.8 2069.7L393.2 2069.7L402.6 2069.7L412.0 2063.5L421.4 2062.2L430.8 2054.8L440.2 2051.2L449.6 2050.6L459.0 2050.6L468.4 2050.6L477.8 2042.7L487.2 2035.0L496.6 2035.0L506.0 2035.0L515.4 2035.0L524.8 2034.9L534.2 2031.0L543.6 2031.0L553.0 2031.0L562.4 2031.0L571.8 2025.1L581.2 2025.1L590.6 2025.1L600.0 2025.1L609.4 2025.1L618.7 2016.1L628.1 2016.1L637.5 2015.8L646.9 2014.2L656.3 2014.2L665.7 2014.2L675.1 2014.2L684.5 2014.2L693.9 2012.7L703.3 1998.4L712.7 1997.7L722.1 1992.7L731.5 1981.7L740.9 1978.7L750.3 1978.7L759.7 1978.7L769.1 1978.7L778.5 1978.7L787.9 1978.7L797.3 1968.6L806.7 1967.5L816.1 1964.8L825.5 1962.5L834.9 1962.5L844.3 1962.2L853.7 1959.8L863.1 1955.0L872.5 1954.0L881.9 1954.0L891.3 1950.6L900.7 1948.3L910.1 1946.9L919.5 1946.9L928.9 1944.3L938.3 1941.7L947.7 1939.7L957.1 1936.3L966.5 1936.3L975.9 1936.3L985.3 1935.6L994.7 1935.6L1004.1 1935.6L1013.5 1932.9L1022.9 1930.5L1032.3 1930.5L1041.7 1928.0L1051.1 1928.0L1060.5 1928.0L1069.9 1928.0L1079.3 1928.0L1088.7 1928.0L1098.1 1928.0L1107.5 1928.0L1116.9 1928.0L1126.3 1928.0L1135.7 1928.0L1145.1 1928.0L1154.5 1928.0L1163.9 1928.0L1173.3 1928.0L1182.7 1928.0L1192.1 1925.8L1201.5 1925.8L1210.9 1925.8L1220.3 1923.3L1229.7 1923.3L1239.1 1923.3L1248.5 1923.3L1257.9 1923.3L1267.3 1923.3L1276.7 1920.9L1286.1 1920.9L1295.5 1920.9L1304.9 1920.9L1314.3 1920.9L1323.7 1895.5L1333.1 1889.7L1342.5 1889.7L1351.9 1877.5L1361.3 1876.9L1370.7 1876.9L1380.1 1876.9L1389.5 1876.9L1398.9 1858.6L1408.3 1857.4L1417.7 1857.4L1427.1 1857.4L1436.5 1857.4L1445.9 1857.4L1455.3 1857.4L1464.7 1857.4L1474.1 1857.4L1483.5 1857.4L1492.8 1852.4L1502.2 1852.4L1511.6 1832.9L1521.0 1832.1L1530.4 1818.0L1539.8 1818.0L1549.2 1818.0L1558.6 1818.0L1568.0 1818.0L1577.4 1818.0L1586.8 1817.1L1596.2 1811.0L1605.6 1811.0L1615.0 1811.0L1624.4 1811.0L1633.8 1811.0L1643.2 1811.0L1652.6 1811.0L1662.0 1811.0L1671.4 1807.2L1680.8 1803.2L1690.2 1803.2L1699.6 1803.2L1709.0 1803.2L1718.4 1803.2L1727.8 1803.2L1737.2 1803.2L1746.6 1803.2L1756.0 1803.2L1765.4 1803.2L1774.8 1803.2L1784.2 1803.2L1793.6 1803.2L1803.0 1802.1L1812.4 1781.2L1821.8 1781.2L1831.2 1779.2L1840.6 1779.0L1850.0 1775.2L1859.4 1774.2L1868.8 1774.2L1878.2 1774.2L1887.6 1763.7L1897.0 1754.2L1906.4 1751.9L1915.8 1751.9L1925.2 1751.9L1934.6 1751.9L1944.0 1751.9L1953.4 1751.9L1962.8 1751.9L1972.2 1751.9L1981.6 1750.4L1991.0 1750.4L2000.4 1750.4L2009.8 1750.1L2019.2 1750.1L2028.6 1750.1L2038.0 1744.9L2047.4 1744.9L2056.8 1744.9L2066.2 1744.9L2075.6 1742.6L2085.0 1742.6L2094.4 1742.6L2103.8 1742.6L2113.2 1742.6L2122.6 1742.6L2132.0 1742.6L2141.4 1742.6L2150.8 1742.6L2160.2 1742.6L2169.6 1742.6L2179.0 1742.6L2188.4 1742.6L2197.8 1742.6L2207.2 1742.6L2216.6 1742.6L2226.0 1742.6L2235.4 1742.6L2244.8 1742.6L2254.2 1742.6L2263.6 1742.6L2273.0 1740.9L2282.4 1732.6L2291.8 1730.8L2301.2 1719.9L2310.6 1719.9L2320.0 1719.9L2329.4 1719.9L2338.8 1719.9L2348.2 1719.9L2357.5 1719.9L2366.9 1719.9L2376.3 1719.9L2385.7 1717.4L2395.1 1717.4L2404.5 1717.4L2413.9 1713.1L2423.3 1712.5L2432.7 1683.6L2442.1 1679.2L2451.5 1679.2L2460.9 1679.2L2470.3 1674.3L2479.7 1671.9L2489.1 1667.4L2498.5 1660.0L2507.9 1660.0L2517.3 1660.0L2526.7 1660.0L2536.1 1660.0L2545.5 1660.0L2554.9 1660.0L2564.3 1641.9L2573.7 1641.0L2583.1 1641.0L2592.5 1641.0L2601.9 1641.0L2611.3 1639.7L2620.7 1639.7L2630.1 1639.7L2639.5 1639.7L2648.9 1639.7L2658.3 1639.7L2667.7 1639.7L2677.1 1639.7L2686.5 1639.7L2695.9 1639.7L2705.3 1639.7L2714.7 1639.3L2724.1 1636.9L2733.5 1630.6L2742.9 1629.4L2752.3 1628.8L2761.7 1624.5L2771.1 1624.5L2780.5 1624.5L2789.9 1622.1L2799.3 1622.1L2808.7 1622.1L2818.1 1622.1L2827.5 1621.3L2836.9 1619.1L2846.3 1619.1L2855.7 1619.1L2865.1 1619.1L2874.5 1619.1L2883.9 1619.1L2893.3 1619.1L2902.7 1619.1L2912.1 1619.1L2921.5 1619.1L2930.9 1619.1L2940.3 1619.1L2949.7 1619.1L2959.1 1619.1L2968.5 1618.8L2977.9 1617.1L2987.3 1616.7L2996.7 1616.5L3006.1 1607.5L3015.5 1607.1L3024.9 1599.0L3034.3 1593.1L3043.7 1585.8L3053.1 1584.4L3062.5 1565.0L3071.9 1561.6L3081.3 1561.6L3090.7 1547.7L3100.1 1545.9L3109.5 1545.9L3118.9 1545.9L3128.3 1545.9L3137.7 1545.9L3147.1 1545.9L3156.5 1512.0L3165.9 1512.0L3175.3 1512.0L3184.7 1476.4L3194.1 1475.9L3203.5 1454.8L3212.9 1454.8L3222.3 1454.8L3231.6 1454.8L3241.0 1454.8L3250.4 1450.5L3259.8 1443.8L3269.2 1443.8L3278.6 1432.0L3288.0 1429.7L3297.4 1428.6L3306.8 1428.6L3316.2 1417.1L3325.6 1408.9L3335.0 1405.4L3344.4 1405.4L3353.8 1401.6L3363.2 1401.6L3372.6 1398.3L3382.0 1398.3L3391.4 1398.3L3400.8 1398.3L3410.2 1398.3L3419.6 1390.0L3429.0 1385.7L3438.4 1385.7L3447.8 1385.7L3457.2 1385.7L3466.6 1385.7L3476.0 1385.7L3485.4 1385.5L3494.8 1376.4L3504.2 1329.5L3513.6 1320.5L3523.0 1313.8L3532.4 1303.0L3541.8 1301.9L3551.2 1297.2L3560.6 1283.0L3570.0 1276.3L3579.4 1269.6L3588.8 1250.8L3598.2 1250.8L3607.6 1250.8L3617.0 1248.9L3626.4 1242.2L3635.8 1234.4L3645.2 1225.0"/>
<path stroke="#5ab9cf" d="M224.0 2116.8L233.4 2116.8L242.8 2115.8L252.2 2115.8L261.6 2103.0L271.0 2102.5L280.4 2097.7L289.8 2093.0L299.2 2093.0L308.6 2089.2L318.0 2080.5L327.4 2080.3L336.8 2080.2L346.2 2080.2L355.6 2069.7L365.0 2069.7L374.4 2069.7L383.8 2069.7L393.2 2069.7L402.6 2069.7L412.0 2068.7L421.4 2061.7L430.8 2057.6L440.2 2057.6L449.6 2056.4L459.0 2053.3L468.4 2045.5L477.8 2034.0L487.2 2031.0L496.6 2031.0L506.0 2031.0L515.4 2031.0L524.8 2031.0L534.2 2031.0L543.6 2019.1L553.0 2019.1L562.4 2017.7L571.8 2011.3L581.2 2009.9L590.6 2009.9L600.0 2009.9L609.4 2009.9L618.7 2009.2L628.1 2005.5L637.5 1997.7L646.9 1997.5L656.3 1997.5L665.7 1997.5L675.1 1997.5L684.5 1997.5L693.9 1997.5L703.3 1997.5L712.7 1992.1L722.1 1987.8L731.5 1986.7L740.9 1980.4L750.3 1980.4L759.7 1979.7L769.1 1978.8L778.5 1978.6L787.9 1968.6L797.3 1963.0L806.7 1962.1L816.1 1961.7L825.5 1961.7L834.9 1958.4L844.3 1958.0L853.7 1957.3L863.1 1956.9L872.5 1956.9L881.9 1954.3L891.3 1952.7L900.7 1950.9L910.1 1950.4L919.5 1950.4L928.9 1949.2L938.3 1943.3L947.7 1937.6L957.1 1934.4L966.5 1923.3L975.9 1923.3L985.3 1920.9L994.7 1918.7L1004.1 1918.7L1013.5 1918.3L1022.9 1917.8L1032.3 1916.9L1041.7 1915.0L1051.1 1906.3L1060.5 1906.3L1069.9 1906.3L1079.3 1906.3L1088.7 1902.5L1098.1 1894.1L1107.5 1875.9L1116.9 1875.9L1126.3 1875.9L1135.7 1875.9L1145.1 1868.5L1154.5 1856.6L1163.9 1852.7L1173.3 1852.5L1182.7 1852.5L1192.1 1852.5L1201.5 1852.5L1210.9 1852.5L1220.3 1852.5L1229.7 1852.5L1239.1 1852.3L1248.5 1848.4L1257.9 1848.4L1267.3 1848.4L1276.7 1846.9L1286.1 1846.9L1295.5 1842.8L1304.9 1842.8L1314.3 1842.8L1323.7 1842.8L1333.1 1842.8L1342.5 1842.8L1351.9 1841.6L1361.3 1841.6L1370.7 1841.0L1380.1 1841.0L1389.5 1841.0L1398.9 1839.3L1408.3 1831.6L1417.7 1831.6L1427.1 1831.6L1436.5 1831.6L1445.9 1831.6L1455.3 1831.6L1464.7 1827.3L1474.1 1827.3L1483.5 1827.3L1492.8 1827.3L1502.2 1827.3L1511.6 1811.4L1521.0 1811.3L1530.4 1802.2L1539.8 1802.2L1549.2 1802.2L1558.6 1802.2L1568.0 1797.3L1577.4 1797.3L1586.8 1757.3L1596.2 1755.7L1605.6 1755.2L1615.0 1755.2L1624.4 1755.2L1633.8 1755.2L1643.2 1755.2L1652.6 1755.2L1662.0 1755.2L1671.4 1755.2L1680.8 1755.2L1690.2 1752.6L1699.6 1752.6L1709.0 1752.6L1718.4 1752.6L1727.8 1752.6L1737.2 1752.6L1746.6 1752.6L1756.0 1740.5L1765.4 1735.2L1774.8 1735.2L1784.2 1735.2L1793.6 1735.2L1803.0 1735.2L1812.4 1735.2L1821.8 1717.8L1831.2 1716.4L1840.6 1706.9L1850.0 1693.2L1859.4 1682.3L1868.8 1680.7L1878.2 1680.7L1887.6 1680.7L1897.0 1680.7L1906.4 1680.1L1915.8 1680.1L1925.2 1670.6L1934.6 1670.5L1944.0 1662.5L1953.4 1654.1L1962.8 1651.0L1972.2 1650.1L1981.6 1650.1L1991.0 1650.1L2000.4 1648.8L2009.8 1648.8L2019.2 1648.8L2028.6 1648.8L2038.0 1648.8L2047.4 1648.8L2056.8 1648.8L2066.2 1648.7L2075.6 1645.8L2085.0 1645.8L2094.4 1645.8L2103.8 1645.8L2113.2 1645.8L2122.6 1644.0L2132.0 1642.0L2141.4 1642.0L2150.8 1642.0L2160.2 1642.0L2169.6 1642.0L2179.0 1642.0L2188.4 1642.0L2197.8 1642.0L2207.2 1642.0L2216.6 1642.0L2226.0 1642.0L2235.4 1642.0L2244.8 1642.0L2254.2 1642.0L2263.6 1642.0L2273.0 1639.1L2282.4 1639.1L2291.8 1639.1L2301.2 1639.0L2310.6 1639.0L2320.0 1639.0L2329.4 1639.0L2338.8 1639.0L2348.2 1638.8L2357.5 1632.9L2366.9 1629.4L2376.3 1629.4L2385.7 1629.4L2395.1 1629.4L2404.5 1629.4L2413.9 1629.4L2423.3 1627.9L2432.7 1622.2L2442.1 1620.5L2451.5 1619.8L2460.9 1600.7L2470.3 1598.5L2479.7 1598.5L2489.1 1598.5L2498.5 1598.5L2507.9 1597.0L2517.3 1597.0L2526.7 1597.0L2536.1 1597.0L2545.5 1597.0L2554.9 1597.0L2564.3 1594.6L2573.7 1594.3L2583.1 1594.3L2592.5 1594.3L2601.9 1594.3L2611.3 1594.3L2620.7 1594.3L2630.1 1594.3L2639.5 1594.3L2648.9 1594.3L2658.3 1594.3L2667.7 1594.3L2677.1 1594.3L2686.5 1594.3L2695.9 1594.1L2705.3 1585.5L2714.7 1585.5L2724.1 1585.5L2733.5 1585.5L2742.9 1585.5L2752.3 1585.5L2761.7 1585.5L2771.1 1585.5L2780.5 1585.5L2789.9 1580.7L2799.3 1580.7L2808.7 1580.7L2818.1 1580.7L2827.5 1580.7L2836.9 1580.7L2846.3 1580.7L2855.7 1580.7L2865.1 1580.7L2874.5 1580.7L2883.9 1580.7L2893.3 1580.7L2902.7 1580.7L2912.1 1580.7L2921.5 1580.7L2930.9 1580.7L2940.3 1580.7L2949.7 1539.6L2959.1 1507.3L2968.5 1507.3L2977.9 1498.3L2987.3 1498.3L2996.7 1498.3L3006.1 1498.3L3015.5 1498.3L3024.9 1495.3L3034.3 1488.0L3043.7 1488.0L3053.1 1488.0L3062.5 1488.0L3071.9 1470.6L3081.3 1468.0L3090.7 1468.0L3100.1 1462.7L3109.5 1459.9L3118.9 1457.8L3128.3 1457.5L3137.7 1457.0L3147.1 1438.4L3156.5 1431.6L3165.9 1431.3L3175.3 1428.1L3184.7 1426.4L3194.1 1425.7L3203.5 1425.7L3212.9 1416.1L3222.3 1412.1L3231.6 1412.1L3241.0 1412.1L3250.4 1407.6L3259.8 1407.0L3269.2 1398.6L3278.6 1392.4L3288.0 1389.0L3297.4 1385.9L3306.8 1374.5L3316.2 1369.7L3325.6 1363.8L3335.0 1363.8L3344.4 1344.9L3353.8 1344.9L3363.2 1338.3L3372.6 1335.1L3382.0 1332.6L3391.4 1328.9L3400.8 1325.4L3410.2 1325.4L3419.6 1325.2L3429.0 1323.5L3438.4 1322.3L3447.8 1321.3L3457.2 1321.3L3466.6 1308.7L3476.0 1308.7L3485.4 1306.2L3494.8 1287.7L3504.2 1284.8L3513.6 1277.1L3523.0 1261.0L3532.4 1260.9L3541.8 1258.0L3551.2 1258.0L3560.6 1258.0L3570.0 1258.0L3579.4 1234.3L3588.8 1234.3L3598.2 1234.3L3607.6 1221.2L3617.0 1221.0L3626.4 1221.0L3635.8 1221.0L3645.2 1221.0L3654.6 1221.0"/>
<path stroke="#55b7d1" d="M224.0 2115.4L233.4 2110.8L242.8 2110.3L252.2 2109.6L261.6 2109.6L271.0 2109.6L280.4 2104.8L289.8 2100.1L299.2 2098.9L308.6 2095.4L318.0 2092.7L327.4 2092.7L336.8 2092.7L346.2 2092.7L355.6 2083.2L365.0 2083.2L374.4 2083.2L383.8 2083.2L393.2 2083.1L402.6 2081.8L412.0 2081.8L421.4 2079.6L430.8 2078.3L440.2 2078.3L449.6 2071.4L459.0 2067.6L468.4 2067.5L477.8 2060.6L487.2 2060.2L496.6 2060.2L506.0 2048.0L515.4 2043.0L524.8 2032.3L534.2 2031.2L543.6 2031.2L553.0 2031.0L562.4 2030.5L571.8 2027.0L581.2 2026.5L590.6 2026.5L600.0 2015.2L609.4 2013.6L618.7 2013.6L628.1 2013.6L637.5 2008.9L646.9 2008.8L656.3 2002.5L665.7 2002.5L675.1 1993.1L684.5 1988.0L693.9 1987.1L703.3 1984.8L712.7 1984.3L722.1 1983.1L731.5 1983.1L740.9 1983.1L750.3 1983.1L759.7 1983.1L769.1 1983.1L778.5 1977.0L787.9 1975.3L797.3 1954.1L806.7 1952.1L816.1 1952.1L825.5 1950.2L834.9 1950.2L844.3 1950.2L853.7 1950.2L863.1 1950.2L872.5 1950.2L881.9 1942.6L891.3 1939.9L900.7 1939.9L910.1 1939.9L919.5 1939.9L928.9 1939.9L938.3 1929.0L947.7 1922.3L957.1 1922.3L966.5 1916.5L975.9 1915.3L985.3 1908.5L994.7 1908.5L1004.1 1908.5L1013.5 1907.4L1022.9 1907.4L1032.3 1907.4L1041.7 1893.6L1051.1 1891.9L1060.5 1885.2L1069.9 1883.5L1079.3 1883.5L1088.7 1883.5L1098.1 1880.9L1107.5 1877.6L1116.9 1876.5L1126.3 1876.5L1135.7 1876.5L1145.1 1876.5L1154.5 1874.7L1163.9 1871.5L1173.3 1871.5L1182.7 1871.5L1192.1 1871.5L1201.5 1871.5L1210.9 1871.5L1220.3 1870.6L1229.7 1868.4L1239.1 1850.9L1248.5 1850.9L1257.9 1850.9L1267.3 1850.9L1276.7 1850.9L1286.1 1850.9L1295.5 1850.9L1304.9 1850.9L1314.3 1843.3L1323.7 1843.3L1333.1 1832.1L1342.5 1832.1L1351.9 1822.3L1361.3 1804.7L1370.7 1797.8L1380.1 1797.8L1389.5 1797.8L1398.9 1797.8L1408.3 1769.1L1417.7 1765.8L1427.1 1765.8L1436.5 1765.8L1445.9 1765.8L1455.3 1765.8L1464.7 1765.8L1474.1 1715.3L1483.5 1715.3L1492.8 1715.3L1502.2 1715.3L1511.6 1715.3L1521.0 1713.0L1530.4 1712.8L1539.8 1712.8L1549.2 1712.8L1558.6 1712.8L1568.0 1712.8L1577.4 1712.8L1586.8 1712.8L1596.2 1712.8L1605.6 1697.9L1615.0 1692.4L1624.4 1672.7L1633.8 1672.7L1643.2 1672.7L1652.6 1672.7L1662.0 1672.7L1671.4 1672.7L1680.8 1672.7L1690.2 1672.7L1699.6 1672.7L1709.0 1672.7L1718.4 1672.7L1727.8 1672.7L1737.2 1672.7L1746.6 1672.7L1756.0 1672.7L1765.4 1670.9L1774.8 1655.6L1784.2 1641.1L1793.6 1635.6L1803.0 1633.9L1812.4 1621.0L1821.8 1621.0L1831.2 1621.0L1840.6 1621.0L1850.0 1614.1L1859.4 1603.2L1868.8 1603.2L1878.2 1603.2L1887.6 1603.2L1897.0 1603.2L1906.4 1603.2L1915.8 1603.2L1925.2 1603.2L1934.6 1603.2L1944.0 1593.8L1953.4 1586.9L1962.8 1586.9L1972.2 1582.2L1981.6 1582.2L1991.0 1582.2L2000.4 1582.2L2009.8 1580.2L2019.2 1569.7L2028.6 1569.7L2038.0 1567.7L2047.4 1567.3L2056.8 1566.3L2066.2 1566.3L2075.6 1566.3L2085.0 1566.3L2094.4 1566.3L2103.8 1566.3L2113.2 1566.3L2122.6 1563.5L2132.0 1563.5L2141.4 1563.5L2150.8 1563.5L2160.2 1563.5L2169.6 1563.5L2179.0 1563.5L2188.4 1563.5L2197.8 1563.4L2207.2 1563.2L2216.6 1561.9L2226.0 1561.3L2235.4 1561.3L2244.8 1561.3L2254.2 1561.3L2263.6 1561.3L2273.0 1561.3L2282.4 1561.3L2291.8 1561.3L2301.2 1561.3L2310.6 1561.3L2320.0 1561.3L2329.4 1561.3L2338.8 1561.3L2348.2 1561.3L2357.5 1561.3L2366.9 1561.3L2376.3 1561.3L2385.7 1560.0L2395.1 1556.2L2404.5 1556.2L2413.9 1556.2L2423.3 1556.2L2432.7 1549.4L2442.1 1547.0L2451.5 1547.0L2460.9 1547.0L2470.3 1546.9L2479.7 1546.9L2489.1 1546.9L2498.5 1543.6L2507.9 1543.6L2517.3 1543.6L2526.7 1543.6L2536.1 1543.6L2545.5 1542.1L2554.9 1541.6L2564.3 1539.1L2573.7 1539.1L2583.1 1539.1L2592.5 1539.1L2601.9 1539.1L2611.3 1532.5L2620.7 1532.5L2630.1 1531.1L2639.5 1531.1L2648.9 1531.1L2658.3 1524.5L2667.7 1522.2L2677.1 1522.2L2686.5 1522.2L2695.9 1522.2L2705.3 1516.5L2714.7 1504.1L2724.1 1493.3L2733.5 1492.8L2742.9 1490.9L2752.3 1482.0L2761.7 1481.9L2771.1 1481.9L2780.5 1481.9L2789.9 1481.9L2799.3 1481.9L2808.7 1481.9L2818.1 1481.9L2827.5 1481.5L2836.9 1481.5L2846.3 1479.4L2855.7 1479.4L2865.1 1479.4L2874.5 1461.2L2883.9 1461.2L2893.3 1461.2L2902.7 1461.2L2912.1 1461.2L2921.5 1461.2L2930.9 1461.2L2940.3 1461.2L2949.7 1461.2L2959.1 1461.2L2968.5 1461.2L2977.9 1461.2L2987.3 1461.2L2996.7 1459.6L3006.1 1459.6L3015.5 1459.6L3024.9 1451.2L3034.3 1440.7L3043.7 1413.9L3053.1 1408.8L3062.5 1408.8L3071.9 1408.8L3081.3 1407.3L3090.7 1396.9L3100.1 1392.7L3109.5 1392.7L3118.9 1392.7L3128.3 1392.7L3137.7 1392.7L3147.1 1392.7L3156.5 1392.7L3165.9 1392.7L3175.3 1392.7L3184.7 1392.7L3194.1 1392.7L3203.5 1392.7L3212.9 1392.7L3222.3 1392.7L3231.6 1392.7L3241.0 1392.7L3250.4 1392.7L3259.8 1375.0L3269.2 1375.0L3278.6 1375.0L3288.0 1363.3L3297.4 1363.3L3306.8 1363.3L3316.2 1363.3L3325.6 1351.4L3335.0 1343.5L3344.4 1343.5L3353.8 1342.4L3363.2 1342.4L3372.6 1333.6L3382.0 1333.6L3391.4 1333.6L3400.8 1305.3L3410.2 1305.3L3419.6 1305.3L3429.0 1285.5L3438.4 1258.7L3447.8 1258.7L3457.2 1258.7L3466.6 1258.7L3476.0 1258.7L3485.4 1258.7L3494.8 1258.7L3504.2 1232.8L3513.6 1232.4L3523.0 1229.8L3532.4 1229.8L3541.8 1229.8L3551.2 1229.8L3560.6 1229.8L3570.0 1229.8L3579.4 1229.8L3588.8 1225.9L3598.2 1225.9L3607.6 1225.0L3617.0 1220.0L3626.4 1207.6L3635.8 1207.6L3645.2 1204.0"/>
<path stroke="#51b5d2" d="M224.0 2117.0L233.4 2117.0L242.8 2116.1L252.2 2101.9L261.6 2101.9L271.0 2101.9L280.4 2101.9L289.8 2101.9L299.2 2101.5L308.6 2098.7L318.0 2098.2L327.4 2098.2L336.8 2097.3L346.2 2096.5L355.6 2095.9L365.0 2095.6L374.4 2095.6L383.8 2095.6L393.2 2095.6L402.6 2095.6L412.0 2093.9L421.4 2093.9L430.8 2093.9L440.2 2086.0L449.6 2086.0L459.0 2078.4L468.4 2054.5L477.8 2054.5L487.2 2053.6L496.6 2044.2L506.0 2041.4L515.4 2040.0L524.8 2033.8L534.2 2033.8L543.6 2025.3L553.0 2025.3L562.4 2024.9L571.8 2024.9L581.2 2024.9L590.6 2024.9L600.0 2024.9L609.4 2004.8L618.7 2004.8L628.1 2002.4L637.5 1997.9L646.9 1997.9L656.3 1992.8L665.7 1992.8L675.1 1991.2L684.5 1982.4L693.9 1980.1L703.3 1969.7L712.7 1965.3L722.1 1964.6L731.5 1963.7L740.9 1953.9L750.3 1953.4L759.7 1953.4L769.1 1953.4L778.5 1953.4L787.9 1953.4L797.3 1953.4L806.7 1953.3L816.1 1953.3L825.5 1953.3L834.9 1952.8L844.3 1929.9L853.7 1929.9L863.1 1929.9L872.5 1929.9L881.9 1929.9L891.3 1927.2L900.7 1919.8L910.1 1918.5L919.5 1911.5L928.9 1892.8L938.3 1882.4L947.7 1877.9L957.1 1877.7L966.5 1849.5L975.9 1849.5L985.3 1849.5L994.7 1849.5L1004.1 1849.5L1013.5 1837.8L1022.9 1837.8L1032.3 1836.1L1041.7 1831.3L1051.1 1821.8L1060.5 1821.8L1069.9 1821.8L1079.3 1821.8L1088.7 1821.8L1098.1 1821.8L1107.5 1820.8L1116.9 1816.4L1126.3 1816.4L1135.7 1816.4L1145.1 1816.4L1154.5 1816.4L1163.9 1816.4L1173.3 1816.4L1182.7 1816.4L1192.1 1816.4L1201.5 1816.4L1210.9 1816.4L1220.3 1816.4L1229.7 1816.4L1239.1 1816.4L1248.5 1816.4L1257.9 1816.4L1267.3 1816.4L1276.7 1816.4L1286.1 1816.4L1295.5 1816.4L1304.9 1816.4L1314.3 1816.4L1323.7 1816.4L1333.1 1816.4L1342.5 1816.4L1351.9 1816.4L1361.3 1816.4L1370.7 1815.6L1380.1 1815.6L1389.5 1815.6L1398.9 1815.6L1408.3 1815.6L1417.7 1815.6L1427.1 1815.6L1436.5 1815.6L1445.9 1815.6L1455.3 1806.1L1464.7 1790.4L1474.1 1790.4L1483.5 1790.4L1492.8 1736.8L1502.2 1736.8L1511.6 1736.8L1521.0 1736.8L1530.4 1730.2L1539.8 1713.3L1549.2 1713.3L1558.6 1713.3L1568.0 1713.3L1577.4 1713.3L1586.8 1713.3L1596.2 1704.3L1605.6 1704.3L1615.0 1704.3L1624.4 1704.3L1633.8 1704.3L1643.2 1704.3L1652.6 1704.3L1662.0 1704.3L1671.4 1704.3L1680.8 1704.3L1690.2 1704.3L1699.6 1704.3L1709.0 1704.3L1718.4 1704.3L1727.8 1682.9L1737.2 1682.9L1746.6 1680.3L1756.0 1680.3L1765.4 1680.3L1774.8 1680.3L1784.2 1680.3L1793.6 1680.3L1803.0 1680.3L1812.4 1680.3L1821.8 1680.3L1831.2 1680.3L1840.6 1680.3L1850.0 1680.3L1859.4 1680.3L1868.8 1680.3L1878.2 1680.3L1887.6 1680.3L1897.0 1680.3L1906.4 1680.3L1915.8 1680.3L1925.2 1680.3L1934.6 1680.3L1944.0 1680.3L1953.4 1680.3L1962.8 1680.3L1972.2 1680.3L1981.6 1680.3L1991.0 1680.3L2000.4 1680.3L2009.8 1666.0L2019.2 1646.0L2028.6 1645.9L2038.0 1645.8L2047.4 1645.8L2056.8 1645.8L2066.2 1645.8L2075.6 1645.8L2085.0 1645.8L2094.4 1635.8L2103.8 1632.7L2113.2 1632.7L2122.6 1632.7L2132.0 1632.7L2141.4 1632.7L2150.8 1632.7L2160.2 1632.7L2169.6 1632.7L2179.0 1632.7L2188.4 1632.6L2197.8 1602.7L2207.2 1602.7L2216.6 1602.7L2226.0 1602.7L2235.4 1602.7L2244.8 1602.7L2254.2 1591.6L2263.6 1591.6L2273.0 1591.6L2282.4 1591.6L2291.8 1591.6L2301.2 1591.6L2310.6 1591.6L2320.0 1591.6L2329.4 1591.6L2338.8 1591.6L2348.2 1591.6L2357.5 1591.6L2366.9 1591.6L2376.3 1591.6L2385.7 1591.6L2395.1 1591.6L2404.5 1591.6L2413.9 1591.6L2423.3 1590.8L2432.7 1590.4L2442.1 1590.4L2451.5 1590.4L2460.9 1575.9L2470.3 1575.9L2479.7 1568.8L2489.1 1568.1L2498.5 1567.4L2507.9 1565.4L2517.3 1565.4L2526.7 1565.4L2536.1 1565.4L2545.5 1565.4L2554.9 1565.4L2564.3 1565.4L2573.7 1565.4L2583.1 1565.4L2592.5 1558.5L2601.9 1558.5L2611.3 1556.6L2620.7 1549.3L2630.1 1541.9L2639.5 1541.5L2648.9 1541.5L2658.3 1516.4L2667.7 1507.7L2677.1 1496.7L2686.5 1493.6L2695.9 1493.6L2705.3 1493.6L2714.7 1493.6L2724.1 1483.9L2733.5 1479.6L2742.9 1475.0L2752.3 1471.8L2761.7 1465.0L2771.1 1465.0L2780.5 1465.0L2789.9 1465.0L2799.3 1465.0L2808.7 1465.0L2818.1 1465.0L2827.5 1465.0L2836.9 1465.0L2846.3 1465.0L2855.7 1465.0L2865.1 1465.0L2874.5 1465.0L2883.9 1465.0L2893.3 1465.0L2902.7 1464.8L2912.1 1464.8L2921.5 1464.8L2930.9 1464.8L2940.3 1464.8L2949.7 1464.8L2959.1 1464.8L2968.5 1464.8L2977.9 1464.8L2987.3 1464.8L2996.7 1464.8L3006.1 1464.8L3015.5 1464.8L3024.9 1464.8L3034.3 1464.8L3043.7 1464.8L3053.1 1464.8L3062.5 1462.5L3071.9 1462.5L3081.3 1462.5L3090.7 1462.5L3100.1 1462.5L3109.5 1462.5L3118.9 1462.5L3128.3 1462.5L3137.7 1462.5L3147.1 1462.5L3156.5 1462.5L3165.9 1462.5L3175.3 1462.5L3184.7 1444.5L3194.1 1440.5L3203.5 1440.5L3212.9 1440.5L3222.3 1400.3L3231.6 1399.1L3241.0 1348.8L3250.4 1348.8L3259.8 1348.8L3269.2 1336.7L3278.6 1336.7L3288.0 1336.7L3297.4 1336.7L3306.8 1336.7L3316.2 1336.7L3325.6 1335.2L3335.0 1298.2L3344.4 1298.2L3353.8 1298.2L3363.2 1295.5L3372.6 1295.5L3382.0 1295.5L3391.4 1293.9L3400.8 1293.9L3410.2 1293.8L3419.6 1293.4L3429.0 1293.4L3438.4 1291.0L3447.8 1289.8L3457.2 1288.6L3466.6 1282.8L3476.0 1282.8L3485.4 1282.8L3494.8 1261.1L3504.2 1261.1L3513.6 1261.1L3523.0 1257.7L3532.4 1239.6L3541.8 1239.6L3551.2 1239.6L3560.6 1239.6L3570.0 1239.6L3579.4 1239.6L3588.8 1236.9L3598.2 1210.4L3607.6 1201.7L3617.0 1201.0L3626.4 1199.0L3635.8 1199.0L3645.2 1199.0"/>
<path stroke="#4db2d3" d="M224.0 2107.2L233.4 2105.1L242.8 2105.1L252.2 2105.1L261.6 2094.1L271.0 2088.8L280.4 2088.8L289.8 2087.2L299.2 2087.2L308.6 2087.2L318.0 2087.2L327.4 2087.2L336.8 2087.2L346.2 2084.6L355.6 2084.6L365.0 2084.6L374.4 2084.6L383.8 2084.6L393.2 2083.8L402.6 2083.7L412.0 2081.9L421.4 2075.8L430.8 2075.8L440.2 2075.8L449.6 2075.8L459.0 2075.8L468.4 2075.8L477.8 2075.8L487.2 2072.4L496.6 2047.0L506.0 2047.0L515.4 2047.0L524.8 2038.4L534.2 2032.0L543.6 2031.3L553.0 2027.6L562.4 2025.2L571.8 2023.8L581.2 2023.8L590.6 2022.9L600.0 2022.9L609.4 2018.4L618.7 2018.4L628.1 2018.4L637.5 2018.4L646.9 2018.4L656.3 2018.4L665.7 2018.4L675.1 2018.4L684.5 2018.4L693.9 2018.4L703.3 2018.4L712.7 2018.4L722.1 2018.4L731.5 2017.6L740.9 1999.0L750.3 1998.4L759.7 1998.4L769.1 1998.4L778.5 1998.4L787.9 1992.1L797.3 1990.8L806.7 1990.4L816.1 1990.4L825.5 1989.9L834.9 1978.0L844.3 1978.0L853.7 1978.0L863.1 1978.0L872.5 1978.0L881.9 1976.8L891.3 1976.4L900.7 1961.3L910.1 1960.2L919.5 1957.9L928.9 1949.9L938.3 1948.7L947.7 1940.2L957.1 1940.2L966.5 1940.2L975.9 1938.5L985.3 1936.4L994.7 1936.4L1004.1 1936.4L1013.5 1933.5L1022.9 1933.5L1032.3 1930.3L1041.7 1927.4L1051.1 1924.8L1060.5 1920.7L1069.9 1920.2L1079.3 1920.0L1088.7 1918.3L1098.1 1918.3L1107.5 1918.3L1116.9 1918.3L1126.3 1918.1L1135.7 1918.1L1145.1 1916.8L1154.5 1916.8L1163.9 1916.7L1173.3 1916.1L1182.7 1915.5L1192.1 1915.5L1201.5 1915.5L1210.9 1915.5L1220.3 1915.5L1229.7 1915.5L1239.1 1915.5L1248.5 1913.7L1257.9 1913.7L1267.3 1897.0L1276.7 1887.4L1286.1 1879.1L1295.5 1874.0L1304.9 1874.0L1314.3 1874.0L1323.7 1874.0L1333.1 1874.0L1342.5 1871.0L1351.9 1870.2L1361.3 1870.2L1370.7 1870.2L1380.1 1870.2L1389.5 1870.0L1398.9 1870.0L1408.3 1870.0L1417.7 1870.0L1427.1 1870.0L1436.5 1870.0L1445.9 1870.0L1455.3 1870.0L1464.7 1844.3L1474.1 1844.3L1483.5 1844.3L1492.8 1844.3L1502.2 1844.3L1511.6 1844.3L1521.0 1844.3L1530.4 1823.6L1539.8 1822.7L1549.2 1769.1L1558.6 1762.5L1568.0 1762.5L1577.4 1762.5L1586.8 1762.5L1596.2 1762.5L1605.6 1762.5L1615.0 1762.5L1624.4 1762.5L1633.8 1762.5L1643.2 1762.5L1652.6 1762.5L1662.0 1762.5L1671.4 1762.5L1680.8 1762.5L1690.2 1762.5L1699.6 1762.5L1709.0 1762.5L1718.4 1755.9L1727.8 1742.7L1737.2 1742.7L1746.6 1742.7L1756.0 1742.7L1765.4 1737.3L1774.8 1712.8L1784.2 1684.9L1793.6 1673.8L1803.0 1666.1L1812.4 1666.0L1821.8 1666.0L1831.2 1666.0L1840.6 1666.0L1850.0 1666.0L1859.4 1666.0L1868.8 1666.0L1878.2 1652.1L1887.6 1652.1L1897.0 1652.1L1906.4 1652.1L1915.8 1652.1L1925.2 1652.1L1934.6 1652.1L1944.0 1646.8L1953.4 1631.2L1962.8 1630.7L1972.2 1622.9L1981.6 1618.9L1991.0 1618.9L2000.4 1618.9L2009.8 1618.9L2019.2 1616.6L2028.6 1616.6L2038.0 1616.3L2047.4 1616.3L2056.8 1616.3L2066.2 1616.3L2075.6 1616.3L2085.0 1613.6L2094.4 1612.3L2103.8 1612.3L2113.2 1612.3L2122.6 1611.5L2132.0 1603.6L2141.4 1603.1L2150.8 1602.9L2160.2 1602.8L2169.6 1602.8L2179.0 1602.8L2188.4 1602.8L2197.8 1600.8L2207.2 1600.8L2216.6 1597.9L2226.0 1597.9L2235.4 1593.2L2244.8 1593.2L2254.2 1593.2L2263.6 1593.2L2273.0 1593.2L2282.4 1593.2L2291.8 1593.2L2301.2 1584.0L2310.6 1583.9L2320.0 1583.9L2329.4 1583.9L2338.8 1583.9L2348.2 1583.2L2357.5 1583.2L2366.9 1583.2L2376.3 1581.7L2385.7 1581.7L2395.1 1581.7L2404.5 1581.7L2413.9 1581.7L2423.3 1581.7L2432.7 1581.7L2442.1 1581.6L2451.5 1580.0L2460.9 1580.0L2470.3 1580.0L2479.7 1580.0L2489.1 1580.0L2498.5 1580.0L2507.9 1580.0L2517.3 1580.0L2526.7 1580.0L2536.1 1580.0L2545.5 1580.0L2554.9 1580.0L2564.3 1579.7L2573.7 1579.7L2583.1 1579.7L2592.5 1579.7L2601.9 1579.7L2611.3 1579.7L2620.7 1579.7L2630.1 1579.7L2639.5 1579.7L2648.9 1577.5L2658.3 1577.5L2667.7 1577.5L2677.1 1577.5L2686.5 1573.0L2695.9 1557.3L2705.3 1557.2L2714.7 1551.2L2724.1 1551.2L2733.5 1551.2L2742.9 1551.2L2752.3 1551.2L2761.7 1551.2L2771.1 1551.2L2780.5 1540.0L2789.9 1536.7L2799.3 1525.2L2808.7 1523.7L2818.1 1523.7L2827.5 1523.7L2836.9 1523.7L2846.3 1523.7L2855.7 1523.7L2865.1 1523.7L2874.5 1523.7L2883.9 1522.5L2893.3 1521.5L2902.7 1521.5L2912.1 1521.5L2921.5 1521.5L2930.9 1521.5L2940.3 1510.5L2949.7 1507.2L2959.1 1506.5L2968.5 1506.5L2977.9 1506.5L2987.3 1504.0L2996.7 1478.2L3006.1 1475.3L3015.5 1475.3L3024.9 1475.3L3034.3 1475.3L3043.7 1475.3L3053.1 1475.3L3062.5 1475.3L3071.9 1475.3L3081.3 1475.3L3090.7 1475.3L3100.1 1475.3L3109.5 1472.9L3118.9 1472.9L3128.3 1472.9L3137.7 1472.9L3147.1 1472.9L3156.5 1472.9L3165.9 1472.9L3175.3 1472.9L3184.7 1472.9L3194.1 1472.9L3203.5 1472.9L3212.9 1472.9L3222.3 1472.9L3231.6 1472.9L3241.0 1426.1L3250.4 1372.5L3259.8 1355.2L3269.2 1355.2L3278.6 1324.3L3288.0 1324.3L3297.4 1322.3L3306.8 1322.3L3316.2 1322.3L3325.6 1322.3L3335.0 1322.3L3344.4 1322.3L3353.8 1322.3L3363.2 1322.3L3372.6 1312.3L3382.0 1299.8L3391.4 1299.8L3400.8 1299.8L3410.2 1296.6L3419.6 1296.6L3429.0 1296.6L3438.4 1296.6L3447.8 1295.7L3457.2 1295.7L3466.6 1295.7L3476.0 1295.7L3485.4 1285.9L3494.8 1266.1L3504.2 1266.1L3513.6 1266.1L3523.0 1266.1L3532.4 1266.1L3541.8 1266.1L3551.2 1212.5L3560.6 1212.5L3570.0 1212.5L3579.4 1209.7L3588.8 1188.1L3598.2 1188.1L3607.6 1187.8L3617.0 1186.5L3626.4 1186.5L3635.8 1186.5L3645.2 1185.0"/>
<path stroke="#4aaed1" d="M224.0 2116.1L233.4 2115.9L242.8 2099.5L252.2 2086.7L261.6 2062.3L271.0 2062.3L280.4 2062.3L289.8 2062.3L299.2 2062.3L308.6 2058.3L318.0 2056.8L327.4 2056.8L336.8 2056.1L346.2 2055.1L355.6 2054.4L365.0 2054.4L374.4 2054.4L383.8 2054.4L393.2 2047.1L402.6 2047.1L412.0 2037.7L421.4 2037.7L430.8 2032.5L440.2 2026.6L449.6 1998.9L459.0 1998.9L468.4 1996.2L477.8 1995.0L487.2 1995.0L496.6 1995.0L506.0 1995.0L515.4 1995.0L524.8 1992.8L534.2 1992.8L543.6 1975.8L553.0 1975.8L562.4 1965.3L571.8 1965.3L581.2 1965.3L590.6 1965.3L600.0 1965.3L609.4 1965.3L618.7 1965.3L628.1 1965.2L637.5 1956.6L646.9 1954.4L656.3 1951.0L665.7 1943.8L675.1 1941.6L684.5 1941.6L693.9 1934.4L703.3 1924.6L712.7 1920.8L722.1 1917.1L731.5 1916.1L740.9 1903.7L750.3 1903.7L759.7 1903.7L769.1 1903.7L778.5 1898.9L787.9 1896.2L797.3 1885.9L806.7 1885.1L816.1 1875.7L825.5 1866.9L834.9 1866.9L844.3 1866.9L853.7 1866.9L863.1 1854.4L872.5 1848.8L881.9 1841.2L891.3 1841.2L900.7 1841.2L910.1 1839.4L919.5 1834.6L928.9 1834.6L938.3 1834.6L947.7 1834.6L957.1 1834.6L966.5 1834.6L975.9 1834.4L985.3 1830.6L994.7 1829.6L1004.1 1821.8L1013.5 1819.3L1022.9 1819.0L1032.3 1818.4L1041.7 1817.2L1051.1 1817.2L1060.5 1817.2L1069.9 1812.7L1079.3 1810.9L1088.7 1810.9L1098.1 1808.9L1107.5 1808.9L1116.9 1808.1L1126.3 1805.6L1135.7 1803.9L1145.1 1781.4L1154.5 1776.2L1163.9 1772.5L1173.3 1764.5L1182.7 1764.5L1192.1 1764.1L1201.5 1764.1L1210.9 1763.7L1220.3 1763.7L1229.7 1763.3L1239.1 1757.4L1248.5 1752.2L1257.9 1749.9L1267.3 1749.4L1276.7 1749.4L1286.1 1748.2L1295.5 1748.2L1304.9 1748.2L1314.3 1748.2L1323.7 1743.2L1333.1 1737.0L1342.5 1736.3L1351.9 1734.5L1361.3 1731.0L1370.7 1729.7L1380.1 1729.7L1389.5 1728.6L1398.9 1725.1L1408.3 1725.1L1417.7 1725.1L1427.1 1725.1L1436.5 1725.1L1445.9 1725.1L1455.3 1725.1L1464.7 1715.1L1474.1 1715.0L1483.5 1714.0L1492.8 1713.6L1502.2 1696.8L1511.6 1696.8L1521.0 1696.8L1530.4 1696.8L1539.8 1696.8L1549.2 1696.8L1558.6 1696.8L1568.0 1695.6L1577.4 1695.6L1586.8 1695.6L1596.2 1695.6L1605.6 1695.6L1615.0 1695.6L1624.4 1695.6L1633.8 1695.6L1643.2 1690.3L1652.6 1689.7L1662.0 1689.7L1671.4 1689.7L1680.8 1689.7L1690.2 1689.7L1699.6 1689.2L1709.0 1689.2L1718.4 1689.2L1727.8 1689.2L1737.2 1689.2L1746.6 1689.2L1756.0 1689.2L1765.4 1689.2L1774.8 1689.2L1784.2 1689.2L1793.6 1656.1L1803.0 1656.1L1812.4 1656.1L1821.8 1656.1L1831.2 1656.1L1840.6 1656.1L1850.0 1654.1L1859.4 1650.5L1868.8 1650.5L1878.2 1650.5L1887.6 1645.3L1897.0 1623.2L1906.4 1623.2L1915.8 1623.2L1925.2 1621.9L1934.6 1592.6L1944.0 1592.6L1953.4 1592.6L1962.8 1592.6L1972.2 1592.6L1981.6 1592.6L1991.0 1592.6L2000.4 1592.6L2009.8 1592.6L2019.2 1592.6L2028.6 1592.5L2038.0 1592.5L2047.4 1592.5L2056.8 1592.5L2066.2 1592.5L2075.6 1592.5L2085.0 1592.5L2094.4 1592.5L2103.8 1592.0L2113.2 1592.0L2122.6 1592.0L2132.0 1587.5L2141.4 1587.5L2150.8 1587.4L2160.2 1587.4L2169.6 1587.4L2179.0 1587.4L2188.4 1587.4L2197.8 1587.4L2207.2 1587.4L2216.6 1587.4L2226.0 1587.4L2235.4 1587.4L2244.8 1587.4L2254.2 1587.4L2263.6 1587.4L2273.0 1587.4L2282.4 1587.4L2291.8 1587.4L2301.2 1587.4L2310.6 1586.6L2320.0 1586.6L2329.4 1586.6L2338.8 1568.6L2348.2 1562.9L2357.5 1562.9L2366.9 1562.9L2376.3 1562.9L2385.7 1562.9L2395.1 1562.9L2404.5 1562.9L2413.9 1562.9L2423.3 1562.9L2432.7 1562.9L2442.1 1562.9L2451.5 1562.9L2460.9 1562.9L2470.3 1562.9L2479.7 1562.9L2489.1 1555.0L2498.5 1555.0L2507.9 1555.0L2517.3 1555.0L2526.7 1555.0L2536.1 1555.0L2545.5 1555.0L2554.9 1555.0L2564.3 1555.0L2573.7 1555.0L2583.1 1555.0L2592.5 1555.0L2601.9 1555.0L2611.3 1549.2L2620.7 1546.6L2630.1 1534.8L2639.5 1528.7L2648.9 1528.7L2658.3 1528.7L2667.7 1528.7L2677.1 1528.7L2686.5 1519.2L2695.9 1510.8L2705.3 1510.8L2714.7 1510.8L2724.1 1510.8L2733.5 1510.8L2742.9 1510.8L2752.3 1510.8L2761.7 1510.8L2771.1 1510.8L2780.5 1510.8L2789.9 1509.6L2799.3 1508.2L2808.7 1508.2L2818.1 1508.2L2827.5 1507.5L2836.9 1507.5L2846.3 1507.5L2855.7 1507.5L2865.1 1507.5L2874.5 1507.5L2883.9 1507.5L2893.3 1507.5L2902.7 1507.5L2912.1 1507.5L2921.5 1507.5L2930.9 1507.5L2940.3 1507.5L2949.7 1506.3L2959.1 1505.9L2968.5 1503.4L2977.9 1503.4L2987.3 1500.2L2996.7 1498.3L3006.1 1495.1L3015.5 1492.0L3024.9 1492.0L3034.3 1472.0L3043.7 1472.0L3053.1 1469.1L3062.5 1465.3L3071.9 1452.1L3081.3 1451.0L3090.7 1442.9L3100.1 1442.9L3109.5 1442.9L3118.9 1442.9L3128.3 1442.9L3137.7 1442.9L3147.1 1442.9L3156.5 1442.5L3165.9 1433.5L3175.3 1433.5L3184.7 1433.5L3194.1 1433.5L3203.5 1427.2L3212.9 1427.2L3222.3 1422.3L3231.6 1409.5L3241.0 1409.5L3250.4 1408.4L3259.8 1408.4L3269.2 1406.2L3278.6 1406.2L3288.0 1406.2L3297.4 1406.2L3306.8 1391.3L3316.2 1391.3L3325.6 1385.4L3335.0 1384.0L3344.4 1382.4L3353.8 1350.8L3363.2 1349.8L3372.6 1347.8L3382.0 1329.6L3391.4 1329.6L3400.8 1329.6L3410.2 1329.6L3419.6 1329.6L3429.0 1329.6L3438.4 1320.4L3447.8 1320.4L3457.2 1320.4L3466.6 1320.4L3476.0 1320.4L3485.4 1320.4L3494.8 1320.4L3504.2 1319.7L3513.6 1319.7L3523.0 1319.7L3532.4 1319.7L3541.8 1319.7L3551.2 1319.7L3560.6 1319.7L3570.0 1312.9L3579.4 1304.6L3588.8 1292.6L3598.2 1272.2L3607.6 1268.4L3617.0 1250.1L3626.4 1246.6L3635.8 1237.1L3645.2 1234.6L3654.6 1181.0"/>
<path stroke="#47abcf" d="M224.0 2115.3L233.4 2115.3L242.8 2115.3L252.2 2115.3L261.6 2115.3L271.0 2074.4L280.4 2038.5L289.8 2038.5L299.2 2036.4L308.6 2023.7L318.0 2023.7L327.4 2023.7L336.8 2023.7L346.2 2023.7L355.6 2023.7L365.0 2023.7L374.4 2023.7L383.8 2022.4L393.2 2016.7L402.6 2012.6L412.0 1991.1L421.4 1990.4L430.8 1963.8L440.2 1963.8L449.6 1963.8L459.0 1963.8L468.4 1963.8L477.8 1961.6L487.2 1959.6L496.6 1959.6L506.0 1959.0L515.4 1959.0L524.8 1956.7L534.2 1940.6L543.6 1940.5L553.0 1935.8L562.4 1927.2L571.8 1926.9L581.2 1926.9L590.6 1926.9L600.0 1924.8L609.4 1923.8L618.7 1923.8L628.1 1923.8L637.5 1923.8L646.9 1923.8L656.3 1923.8L665.7 1923.8L675.1 1923.8L684.5 1923.8L693.9 1923.6L703.3 1914.1L712.7 1913.1L722.1 1907.5L731.5 1905.9L740.9 1890.4L750.3 1889.8L759.7 1889.8L769.1 1889.7L778.5 1889.5L787.9 1889.5L797.3 1889.5L806.7 1889.5L816.1 1889.5L825.5 1889.5L834.9 1889.3L844.3 1889.3L853.7 1888.7L863.1 1886.6L872.5 1872.1L881.9 1851.7L891.3 1851.1L900.7 1836.8L910.1 1835.7L919.5 1835.7L928.9 1835.7L938.3 1835.7L947.7 1835.7L957.1 1825.0L966.5 1822.8L975.9 1822.4L985.3 1780.2L994.7 1780.2L1004.1 1779.8L1013.5 1765.2L1022.9 1765.2L1032.3 1765.2L1041.7 1765.2L1051.1 1765.2L1060.5 1765.2L1069.9 1765.2L1079.3 1765.2L1088.7 1765.2L1098.1 1765.2L1107.5 1765.2L1116.9 1759.5L1126.3 1759.5L1135.7 1759.5L1145.1 1759.5L1154.5 1759.5L1163.9 1753.3L1173.3 1753.3L1182.7 1753.3L1192.1 1753.3L1201.5 1753.3L1210.9 1753.3L1220.3 1753.3L1229.7 1753.3L1239.1 1753.3L1248.5 1746.6L1257.9 1737.3L1267.3 1734.2L1276.7 1734.2L1286.1 1734.2L1295.5 1734.2L1304.9 1734.2L1314.3 1734.2L1323.7 1734.2L1333.1 1734.2L1342.5 1734.2L1351.9 1724.1L1361.3 1724.1L1370.7 1724.1L1380.1 1713.6L1389.5 1713.6L1398.9 1713.6L1408.3 1710.1L1417.7 1696.0L1427.1 1690.4L1436.5 1681.3L1445.9 1680.4L1455.3 1679.3L1464.7 1679.3L1474.1 1679.3L1483.5 1666.7L1492.8 1662.1L1502.2 1662.0L1511.6 1662.0L1521.0 1662.0L1530.4 1662.0L1539.8 1662.0L1549.2 1662.0L1558.6 1662.0L1568.0 1662.0L1577.4 1662.0L1586.8 1662.0L1596.2 1662.0L1605.6 1661.3L1615.0 1661.3L1624.4 1661.3L1633.8 1661.3L1643.2 1637.0L1652.6 1636.3L1662.0 1636.3L1671.4 1636.3L1680.8 1601.6L1690.2 1601.3L1699.6 1601.3L1709.0 1598.3L1718.4 1584.1L1727.8 1578.8L1737.2 1577.7L1746.6 1568.1L1756.0 1562.3L1765.4 1560.2L1774.8 1560.2L1784.2 1560.2L1793.6 1560.2L1803.0 1560.2L1812.4 1560.2L1821.8 1560.2L1831.2 1560.2L1840.6 1560.2L1850.0 1560.2L1859.4 1560.2L1868.8 1560.2L1878.2 1560.2L1887.6 1560.2L1897.0 1560.2L1906.4 1560.2L1915.8 1549.9L1925.2 1548.9L1934.6 1548.9L1944.0 1548.9L1953.4 1548.9L1962.8 1548.9L1972.2 1548.9L1981.6 1539.8L1991.0 1539.8L2000.4 1539.8L2009.8 1539.8L2019.2 1539.8L2028.6 1539.8L2038.0 1539.8L2047.4 1539.8L2056.8 1539.8L2066.2 1539.8L2075.6 1539.8L2085.0 1539.8L2094.4 1539.8L2103.8 1537.1L2113.2 1533.3L2122.6 1524.6L2132.0 1523.3L2141.4 1520.7L2150.8 1520.6L2160.2 1520.5L2169.6 1518.1L2179.0 1518.1L2188.4 1518.1L2197.8 1518.1L2207.2 1518.1L2216.6 1518.1L2226.0 1518.1L2235.4 1518.1L2244.8 1518.1L2254.2 1518.1L2263.6 1517.1L2273.0 1515.5L2282.4 1514.9L2291.8 1511.6L2301.2 1506.0L2310.6 1506.0L2320.0 1506.0L2329.4 1506.0L2338.8 1506.0L2348.2 1506.0L2357.5 1506.0L2366.9 1503.5L2376.3 1492.8L2385.7 1492.8L2395.1 1492.8L2404.5 1492.8L2413.9 1492.8L2423.3 1481.0L2432.7 1470.3L2442.1 1470.3L2451.5 1470.3L2460.9 1470.3L2470.3 1470.3L2479.7 1470.3L2489.1 1470.3L2498.5 1468.0L2507.9 1468.0L2517.3 1468.0L2526.7 1468.0L2536.1 1468.0L2545.5 1468.0L2554.9 1468.0L2564.3 1468.0L2573.7 1468.0L2583.1 1468.0L2592.5 1468.0L2601.9 1468.0L2611.3 1468.0L2620.7 1468.0L2630.1 1468.0L2639.5 1468.0L2648.9 1466.7L2658.3 1463.5L2667.7 1462.2L2677.1 1454.8L2686.5 1454.4L2695.9 1451.7L2705.3 1445.4L2714.7 1445.4L2724.1 1445.4L2733.5 1445.4L2742.9 1445.4L2752.3 1445.4L2761.7 1435.0L2771.1 1435.0L2780.5 1430.5L2789.9 1428.2L2799.3 1428.2L2808.7 1428.2L2818.1 1426.1L2827.5 1425.9L2836.9 1423.2L2846.3 1418.2L2855.7 1416.4L2865.1 1415.8L2874.5 1403.3L2883.9 1393.8L2893.3 1393.8L2902.7 1393.8L2912.1 1393.8L2921.5 1393.8L2930.9 1393.8L2940.3 1393.8L2949.7 1391.8L2959.1 1390.5L2968.5 1384.0L2977.9 1383.1L2987.3 1379.1L2996.7 1379.1L3006.1 1373.4L3015.5 1363.6L3024.9 1363.6L3034.3 1363.6L3043.7 1363.6L3053.1 1363.6L3062.5 1363.6L3071.9 1363.6L3081.3 1359.7L3090.7 1358.1L3100.1 1356.5L3109.5 1355.8L3118.9 1355.3L3128.3 1352.4L3137.7 1344.9L3147.1 1344.5L3156.5 1342.0L3165.9 1337.5L3175.3 1337.4L3184.7 1337.2L3194.1 1337.2L3203.5 1337.2L3212.9 1337.2L3222.3 1337.2L3231.6 1335.9L3241.0 1335.4L3250.4 1334.7L3259.8 1333.4L3269.2 1332.0L3278.6 1332.0L3288.0 1332.0L3297.4 1323.7L3306.8 1323.4L3316.2 1322.5L3325.6 1316.6L3335.0 1312.6L3344.4 1312.6L3353.8 1312.6L3363.2 1311.5L3372.6 1311.3L3382.0 1305.3L3391.4 1298.3L3400.8 1297.0L3410.2 1283.3L3419.6 1283.3L3429.0 1283.3L3438.4 1283.3L3447.8 1283.3L3457.2 1283.3L3466.6 1283.3L3476.0 1283.3L3485.4 1270.3L3494.8 1222.8L3504.2 1188.6L3513.6 1187.1L3523.0 1187.1L3532.4 1187.1L3541.8 1187.1L3551.2 1187.1L3560.6 1180.1L3570.0 1180.1L3579.4 1180.1L3588.8 1164.3L3598.2 1164.3L3607.6 1164.3L3617.0 1164.3L3626.4 1164.0L3635.8 1163.0L3645.2 1163.0"/>
<path stroke="#43a7cd" d="M224.0 2117.0L233.4 2117.0L242.8 2116.4L252.2 2116.4L261.6 2116.4L271.0 2107.7L280.4 2107.7L289.8 2107.7L299.2 2107.7L308.6 2107.7L318.0 2107.7L327.4 2101.7L336.8 2099.5L346.2 2072.8L355.6 2069.5L365.0 2068.5L374.4 2060.0L383.8 2048.5L393.2 2045.6L402.6 2045.5L412.0 2036.1L421.4 2033.2L430.8 2024.1L440.2 2022.7L449.6 2022.7L459.0 2022.7L468.4 2022.7L477.8 2022.7L487.2 2022.7L496.6 2022.7L506.0 2022.0L515.4 2022.0L524.8 2022.0L534.2 2022.0L543.6 2021.9L553.0 2018.7L562.4 2018.7L571.8 2018.7L581.2 2018.7L590.6 2018.7L600.0 2018.7L609.4 2018.7L618.7 2014.7L628.1 2007.8L637.5 2007.8L646.9 2006.8L656.3 1991.2L665.7 1957.5L675.1 1957.5L684.5 1957.5L693.9 1957.5L703.3 1957.5L712.7 1957.5L722.1 1957.5L731.5 1952.9L740.9 1947.8L750.3 1944.7L759.7 1932.6L769.1 1932.6L778.5 1925.0L787.9 1925.0L797.3 1925.0L806.7 1925.0L816.1 1915.5L825.5 1914.7L834.9 1914.7L844.3 1914.6L853.7 1903.7L863.1 1893.9L872.5 1893.9L881.9 1893.9L891.3 1893.9L900.7 1892.3L910.1 1889.9L919.5 1889.9L928.9 1889.9L938.3 1889.9L947.7 1885.6L957.1 1882.9L966.5 1878.4L975.9 1878.4L985.3 1878.4L994.7 1878.4L1004.1 1878.4L1013.5 1878.4L1022.9 1858.0L1032.3 1846.4L1041.7 1846.4L1051.1 1846.4L1060.5 1846.4L1069.9 1846.4L1079.3 1846.4L1088.7 1846.4L1098.1 1840.3L1107.5 1815.4L1116.9 1804.0L1126.3 1802.7L1135.7 1802.5L1145.1 1785.8L1154.5 1785.8L1163.9 1785.8L1173.3 1785.8L1182.7 1785.8L1192.1 1785.8L1201.5 1785.8L1210.9 1785.8L1220.3 1785.8L1229.7 1785.8L1239.1 1785.8L1248.5 1785.8L1257.9 1785.8L1267.3 1785.8L1276.7 1778.8L1286.1 1778.8L1295.5 1778.8L1304.9 1778.8L1314.3 1778.8L1323.7 1778.8L1333.1 1778.8L1342.5 1778.8L1351.9 1778.8L1361.3 1778.8L1370.7 1778.8L1380.1 1767.6L1389.5 1714.0L1398.9 1714.0L1408.3 1714.0L1417.7 1714.0L1427.1 1714.0L1436.5 1713.0L1445.9 1710.5L1455.3 1710.5L1464.7 1710.5L1474.1 1710.5L1483.5 1710.5L1492.8 1710.5L1502.2 1710.5L1511.6 1710.5L1521.0 1710.5L1530.4 1710.5L1539.8 1710.5L1549.2 1710.5L1558.6 1710.5L1568.0 1710.5L1577.4 1710.5L1586.8 1710.5L1596.2 1710.5L1605.6 1710.5L1615.0 1710.5L1624.4 1700.4L1633.8 1687.8L1643.2 1648.4L1652.6 1648.4L1662.0 1648.4L1671.4 1648.4L1680.8 1648.4L1690.2 1648.4L1699.6 1648.4L1709.0 1648.4L1718.4 1648.4L1727.8 1648.4L1737.2 1648.4L1746.6 1648.4L1756.0 1648.4L1765.4 1648.4L1774.8 1648.4L1784.2 1648.4L1793.6 1648.4L1803.0 1648.4L1812.4 1648.4L1821.8 1648.4L1831.2 1648.4L1840.6 1648.4L1850.0 1643.6L1859.4 1636.4L1868.8 1636.4L1878.2 1636.4L1887.6 1636.4L1897.0 1636.4L1906.4 1636.4L1915.8 1636.4L1925.2 1636.4L1934.6 1636.4L1944.0 1636.4L1953.4 1634.5L1962.8 1634.5L1972.2 1634.5L1981.6 1634.5L1991.0 1634.5L2000.4 1634.5L2009.8 1634.5L2019.2 1634.5L2028.6 1634.5L2038.0 1634.5L2047.4 1634.5L2056.8 1634.5L2066.2 1625.4L2075.6 1618.7L2085.0 1618.7L2094.4 1618.7L2103.8 1618.7L2113.2 1618.7L2122.6 1618.7L2132.0 1618.7L2141.4 1608.9L2150.8 1596.0L2160.2 1596.0L2169.6 1596.0L2179.0 1596.0L2188.4 1596.0L2197.8 1596.0L2207.2 1596.0L2216.6 1596.0L2226.0 1596.0L2235.4 1596.0L2244.8 1596.0L2254.2 1596.0L2263.6 1596.0L2273.0 1596.0L2282.4 1596.0L2291.8 1596.0L2301.2 1596.0L2310.6 1596.0L2320.0 1596.0L2329.4 1548.4L2338.8 1548.4L2348.2 1548.4L2357.5 1548.4L2366.9 1548.4L2376.3 1548.4L2385.7 1548.4L2395.1 1548.4L2404.5 1548.4L2413.9 1548.4L2423.3 1548.4L2432.7 1548.4L2442.1 1511.5L2451.5 1510.9L2460.9 1510.9L2470.3 1510.9L2479.7 1510.9L2489.1 1510.9L2498.5 1510.9L2507.9 1510.9L2517.3 1490.0L2526.7 1482.5L2536.1 1480.2L2545.5 1479.9L2554.9 1479.9L2564.3 1476.7L2573.7 1476.5L2583.1 1476.5L2592.5 1476.5L2601.9 1474.3L2611.3 1474.3L2620.7 1474.3L2630.1 1474.3L2639.5 1474.3L2648.9 1474.3L2658.3 1474.3L2667.7 1474.3L2677.1 1474.3L2686.5 1474.3L2695.9 1474.3L2705.3 1474.3L2714.7 1473.9L2724.1 1473.8L2733.5 1473.8L2742.9 1473.8L2752.3 1473.8L2761.7 1473.8L2771.1 1473.8L2780.5 1473.8L2789.9 1464.3L2799.3 1464.3L2808.7 1464.3L2818.1 1464.3L2827.5 1464.3L2836.9 1464.3L2846.3 1464.3L2855.7 1464.3L2865.1 1463.7L2874.5 1461.8L2883.9 1461.2L2893.3 1460.0L2902.7 1458.1L2912.1 1455.7L2921.5 1446.4L2930.9 1446.4L2940.3 1443.6L2949.7 1443.5L2959.1 1439.9L2968.5 1439.2L2977.9 1436.5L2987.3 1435.1L2996.7 1434.5L3006.1 1434.5L3015.5 1424.2L3024.9 1423.2L3034.3 1422.8L3043.7 1422.5L3053.1 1420.0L3062.5 1410.6L3071.9 1391.3L3081.3 1391.3L3090.7 1390.2L3100.1 1387.1L3109.5 1384.7L3118.9 1380.2L3128.3 1378.3L3137.7 1376.9L3147.1 1375.9L3156.5 1375.9L3165.9 1375.9L3175.3 1375.9L3184.7 1375.9L3194.1 1375.9L3203.5 1375.5L3212.9 1372.0L3222.3 1355.7L3231.6 1355.7L3241.0 1355.7L3250.4 1355.7L3259.8 1351.3L3269.2 1348.2L3278.6 1348.2L3288.0 1348.2L3297.4 1348.2L3306.8 1348.2L3316.2 1348.2L3325.6 1347.8L3335.0 1340.0L3344.4 1330.7L3353.8 1330.6L3363.2 1330.6L3372.6 1318.4L3382.0 1318.4L3391.4 1318.4L3400.8 1318.4L3410.2 1318.4L3419.6 1318.4L3429.0 1318.4L3438.4 1318.4L3447.8 1318.4L3457.2 1318.4L3466.6 1315.6L3476.0 1311.8L3485.4 1311.8L3494.8 1311.8L3504.2 1306.9L3513.6 1306.4L3523.0 1299.4L3532.4 1295.4L3541.8 1241.9L3551.2 1209.2L3560.6 1209.2L3570.0 1209.2L3579.4 1209.2L3588.8 1209.2L3598.2 1209.2L3607.6 1209.2L3617.0 1209.2L3626.4 1176.7L3635.8 1158.0L3645.2 1158.0"/>
<path stroke="#40a4cb" d="M224.0 2116.7L233.4 2115.1L242.8 2099.1L252.2 2099.1L261.6 2087.8L271.0 2083.6L280.4 2082.5L289.8 2075.6L299.2 2068.7L308.6 2066.1L318.0 2063.1L327.4 2063.1L336.8 2063.1L346.2 2063.1L355.6 2063.1L365.0 2063.1L374.4 2062.6L383.8 2051.5L393.2 2051.2L402.6 2051.2L412.0 2051.2L421.4 2028.4L430.8 2028.4L440.2 2024.7L449.6 2022.0L459.0 2022.0L468.4 2021.3L477.8 2018.0L487.2 2018.0L496.6 2018.0L506.0 2018.0L515.4 2018.0L524.8 2014.5L534.2 2014.5L543.6 2014.5L553.0 2014.5L562.4 2010.8L571.8 2010.5L581.2 2005.3L590.6 2004.3L600.0 1996.7L609.4 1996.7L618.7 1996.7L628.1 1996.7L637.5 1996.7L646.9 1980.8L656.3 1950.6L665.7 1950.6L675.1 1950.6L684.5 1950.6L693.9 1950.6L703.3 1946.1L712.7 1925.6L722.1 1913.6L731.5 1913.6L740.9 1913.6L750.3 1913.6L759.7 1912.1L769.1 1911.7L778.5 1908.9L787.9 1904.6L797.3 1903.7L806.7 1897.4L816.1 1897.4L825.5 1897.3L834.9 1889.4L844.3 1878.3L853.7 1860.7L863.1 1858.9L872.5 1857.7L881.9 1857.7L891.3 1850.6L900.7 1850.6L910.1 1850.6L919.5 1850.6L928.9 1850.6L938.3 1850.6L947.7 1850.6L957.1 1850.6L966.5 1850.6L975.9 1850.6L985.3 1850.6L994.7 1844.1L1004.1 1844.1L1013.5 1844.1L1022.9 1844.1L1032.3 1844.1L1041.7 1844.1L1051.1 1844.1L1060.5 1813.3L1069.9 1793.9L1079.3 1788.5L1088.7 1773.2L1098.1 1731.8L1107.5 1726.2L1116.9 1726.2L1126.3 1726.2L1135.7 1726.2L1145.1 1726.2L1154.5 1726.2L1163.9 1726.2L1173.3 1726.2L1182.7 1726.2L1192.1 1726.2L1201.5 1726.0L1210.9 1726.0L1220.3 1726.0L1229.7 1723.0L1239.1 1723.0L1248.5 1723.0L1257.9 1723.0L1267.3 1723.0L1276.7 1723.0L1286.1 1723.0L1295.5 1722.2L1304.9 1721.0L1314.3 1721.0L1323.7 1721.0L1333.1 1721.0L1342.5 1721.0L1351.9 1721.0L1361.3 1721.0L1370.7 1720.2L1380.1 1720.2L1389.5 1720.2L1398.9 1720.2L1408.3 1716.1L1417.7 1716.1L1427.1 1714.2L1436.5 1710.7L1445.9 1708.1L1455.3 1706.7L1464.7 1702.9L1474.1 1698.5L1483.5 1698.5L1492.8 1698.5L1502.2 1698.5L1511.6 1698.5L1521.0 1693.9L1530.4 1679.6L1539.8 1678.4L1549.2 1675.7L1558.6 1675.7L1568.0 1675.7L1577.4 1669.0L1586.8 1666.0L1596.2 1665.4L1605.6 1665.4L1615.0 1665.4L1624.4 1665.4L1633.8 1665.4L1643.2 1665.4L1652.6 1665.4L1662.0 1665.4L1671.4 1663.6L1680.8 1650.0L1690.2 1650.0L1699.6 1650.0L1709.0 1639.9L1718.4 1627.9L1727.8 1620.3L1737.2 1620.3L1746.6 1620.3L1756.0 1620.3L1765.4 1620.3L1774.8 1619.9L1784.2 1612.8L1793.6 1612.8L1803.0 1612.8L1812.4 1612.8L1821.8 1612.8L1831.2 1612.8L1840.6 1611.3L1850.0 1611.3L1859.4 1611.3L1868.8 1611.3L1878.2 1606.3L1887.6 1606.3L1897.0 1606.3L1906.4 1606.3L1915.8 1606.3L1925.2 1606.3L1934.6 1606.3L1944.0 1606.3L1953.4 1606.3L1962.8 1606.3L1972.2 1606.3L1981.6 1606.3L1991.0 1605.7L2000.4 1605.7L2009.8 1605.7L2019.2 1605.7L2028.6 1605.7L2038.0 1605.7L2047.4 1605.7L2056.8 1605.7L2066.2 1605.7L2075.6 1605.7L2085.0 1605.7L2094.4 1605.7L2103.8 1605.7L2113.2 1605.7L2122.6 1605.7L2132.0 1605.7L2141.4 1605.7L2150.8 1605.7L2160.2 1600.5L2169.6 1600.5L2179.0 1600.5L2188.4 1600.5L2197.8 1600.5L2207.2 1600.5L2216.6 1600.5L2226.0 1600.5L2235.4 1585.6L2244.8 1583.4L2254.2 1583.4L2263.6 1583.4L2273.0 1583.4L2282.4 1583.4L2291.8 1583.4L2301.2 1583.4L2310.6 1583.4L2320.0 1583.1L2329.4 1582.5L2338.8 1579.2L2348.2 1568.9L2357.5 1568.9L2366.9 1568.9L2376.3 1568.9L2385.7 1568.9L2395.1 1568.9L2404.5 1568.9L2413.9 1568.9L2423.3 1552.0L2432.7 1552.0L2442.1 1552.0L2451.5 1552.0L2460.9 1552.0L2470.3 1551.3L2479.7 1551.3L2489.1 1549.4L2498.5 1549.4L2507.9 1524.6L2517.3 1520.0L2526.7 1516.2L2536.1 1516.2L2545.5 1516.2L2554.9 1513.1L2564.3 1513.1L2573.7 1513.1L2583.1 1513.1L2592.5 1513.1L2601.9 1513.1L2611.3 1513.1L2620.7 1513.1L2630.1 1513.1L2639.5 1513.1L2648.9 1501.2L2658.3 1501.2L2667.7 1500.8L2677.1 1496.3L2686.5 1496.3L2695.9 1494.6L2705.3 1494.6L2714.7 1470.0L2724.1 1469.3L2733.5 1469.3L2742.9 1469.3L2752.3 1469.3L2761.7 1469.3L2771.1 1469.3L2780.5 1467.4L2789.9 1460.2L2799.3 1451.0L2808.7 1451.0L2818.1 1451.0L2827.5 1443.2L2836.9 1438.2L2846.3 1431.4L2855.7 1426.7L2865.1 1426.7L2874.5 1426.7L2883.9 1426.7L2893.3 1426.7L2902.7 1426.7L2912.1 1426.7L2921.5 1426.7L2930.9 1426.7L2940.3 1426.7L2949.7 1426.7L2959.1 1426.7L2968.5 1426.7L2977.9 1419.5L2987.3 1419.5L2996.7 1419.5L3006.1 1419.5L3015.5 1417.2L3024.9 1416.3L3034.3 1416.3L3043.7 1416.3L3053.1 1416.3L3062.5 1410.9L3071.9 1403.2L3081.3 1396.1L3090.7 1396.1L3100.1 1396.1L3109.5 1393.6L3118.9 1385.2L3128.3 1372.8L3137.7 1372.8L3147.1 1369.2L3156.5 1368.4L3165.9 1368.4L3175.3 1368.4L3184.7 1362.0L3194.1 1354.4L3203.5 1354.4L3212.9 1354.4L3222.3 1354.3L3231.6 1344.9L3241.0 1344.6L3250.4 1336.5L3259.8 1331.1L3269.2 1331.1L3278.6 1325.4L3288.0 1317.3L3297.4 1317.3L3306.8 1317.3L3316.2 1308.1L3325.6 1308.1L3335.0 1303.0L3344.4 1303.0L3353.8 1303.0L3363.2 1303.0L3372.6 1303.0L3382.0 1303.0L3391.4 1303.0L3400.8 1303.0L3410.2 1303.0L3419.6 1302.9L3429.0 1289.2L3438.4 1289.2L3447.8 1289.2L3457.2 1289.2L3466.6 1289.2L3476.0 1289.2L3485.4 1289.2L3494.8 1289.2L3504.2 1257.9L3513.6 1255.7L3523.0 1227.1L3532.4 1227.1L3541.8 1227.1L3551.2 1227.1L3560.6 1227.1L3570.0 1227.1L3579.4 1219.2L3588.8 1205.8L3598.2 1202.7L3607.6 1202.7L3617.0 1202.7L3626.4 1175.8L3635.8 1156.2L3645.2 1140.0"/>
<path stroke="#3da0c9" d="M224.0 2115.7L233.4 2111.3L242.8 2111.3L252.2 2111.3L261.6 2102.8L271.0 2067.1L280.4 2055.0L289.8 2055.0L299.2 2055.0L308.6 2055.0L318.0 2055.0L327.4 2029.1L336.8 2029.1L346.2 2029.1L355.6 2029.1L365.0 2029.1L374.4 2029.1L383.8 2029.1L393.2 2029.1L402.6 2029.1L412.0 2029.1L421.4 2029.1L430.8 2029.1L440.2 2026.5L449.6 2023.5L459.0 2013.8L468.4 2011.9L477.8 2000.9L487.2 1979.1L496.6 1972.9L506.0 1970.0L515.4 1970.0L524.8 1970.0L534.2 1957.4L543.6 1957.4L553.0 1956.9L562.4 1943.4L571.8 1939.7L581.2 1935.5L590.6 1934.6L600.0 1929.0L609.4 1924.8L618.7 1921.7L628.1 1916.0L637.5 1915.3L646.9 1914.9L656.3 1914.9L665.7 1914.9L675.1 1911.7L684.5 1909.3L693.9 1900.1L703.3 1899.1L712.7 1899.1L722.1 1894.9L731.5 1886.6L740.9 1886.6L750.3 1858.3L759.7 1858.3L769.1 1858.3L778.5 1858.3L787.9 1857.5L797.3 1843.3L806.7 1840.2L816.1 1836.4L825.5 1836.4L834.9 1836.4L844.3 1836.4L853.7 1836.4L863.1 1836.4L872.5 1828.1L881.9 1823.3L891.3 1807.9L900.7 1806.6L910.1 1795.4L919.5 1793.0L928.9 1792.8L938.3 1790.2L947.7 1790.2L957.1 1783.5L966.5 1771.5L975.9 1771.5L985.3 1771.5L994.7 1769.7L1004.1 1764.0L1013.5 1764.0L1022.9 1764.0L1032.3 1764.0L1041.7 1764.0L1051.1 1764.0L1060.5 1764.0L1069.9 1764.0L1079.3 1764.0L1088.7 1764.0L1098.1 1746.5L1107.5 1746.2L1116.9 1746.0L1126.3 1746.0L1135.7 1746.0L1145.1 1746.0L1154.5 1745.4L1163.9 1738.6L1173.3 1738.6L1182.7 1738.6L1192.1 1738.6L1201.5 1738.6L1210.9 1738.6L1220.3 1738.6L1229.7 1738.6L1239.1 1738.6L1248.5 1738.6L1257.9 1728.1L1267.3 1712.6L1276.7 1701.1L1286.1 1701.1L1295.5 1701.1L1304.9 1700.5L1314.3 1700.5L1323.7 1700.5L1333.1 1700.5L1342.5 1700.5L1351.9 1700.5L1361.3 1700.5L1370.7 1694.9L1380.1 1694.9L1389.5 1694.9L1398.9 1694.9L1408.3 1694.9L1417.7 1694.9L1427.1 1694.9L1436.5 1694.9L1445.9 1694.9L1455.3 1673.2L1464.7 1673.2L1474.1 1671.2L1483.5 1670.4L1492.8 1670.1L1502.2 1652.9L1511.6 1652.9L1521.0 1650.2L1530.4 1650.2L1539.8 1638.3L1549.2 1636.4L1558.6 1636.0L1568.0 1636.0L1577.4 1636.0L1586.8 1635.7L1596.2 1633.2L1605.6 1629.0L1615.0 1617.6L1624.4 1612.0L1633.8 1612.0L1643.2 1612.0L1652.6 1612.0L1662.0 1612.0L1671.4 1612.0L1680.8 1579.3L1690.2 1577.3L1699.6 1570.2L1709.0 1570.2L1718.4 1570.2L1727.8 1570.2L1737.2 1570.2L1746.6 1570.2L1756.0 1570.2L1765.4 1570.2L1774.8 1570.2L1784.2 1570.2L1793.6 1545.7L1803.0 1545.7L1812.4 1545.7L1821.8 1545.7L1831.2 1545.7L1840.6 1545.7L1850.0 1545.7L1859.4 1545.7L1868.8 1545.7L1878.2 1545.6L1887.6 1545.6L1897.0 1532.2L1906.4 1507.1L1915.8 1507.1L1925.2 1507.1L1934.6 1507.1L1944.0 1507.1L1953.4 1507.1L1962.8 1507.1L1972.2 1507.1L1981.6 1507.1L1991.0 1507.1L2000.4 1507.1L2009.8 1507.1L2019.2 1507.1L2028.6 1507.1L2038.0 1507.1L2047.4 1507.1L2056.8 1506.1L2066.2 1506.1L2075.6 1506.1L2085.0 1506.1L2094.4 1506.1L2103.8 1506.1L2113.2 1505.7L2122.6 1505.4L2132.0 1503.3L2141.4 1503.3L2150.8 1503.3L2160.2 1503.3L2169.6 1503.3L2179.0 1503.3L2188.4 1503.3L2197.8 1503.3L2207.2 1494.9L2216.6 1494.9L2226.0 1494.9L2235.4 1494.9L2244.8 1494.8L2254.2 1490.4L2263.6 1490.4L2273.0 1490.4L2282.4 1490.4L2291.8 1490.4L2301.2 1486.4L2310.6 1486.4L2320.0 1486.4L2329.4 1486.1L2338.8 1484.8L2348.2 1484.8L2357.5 1484.8L2366.9 1484.8L2376.3 1484.8L2385.7 1484.8L2395.1 1484.8L2404.5 1484.8L2413.9 1484.8L2423.3 1480.8L2432.7 1480.5L2442.1 1480.5L2451.5 1480.5L2460.9 1480.5L2470.3 1480.5L2479.7 1480.5L2489.1 1480.5L2498.5 1480.5L2507.9 1480.5L2517.3 1480.5L2526.7 1480.5L2536.1 1478.7L2545.5 1477.7L2554.9 1477.7L2564.3 1477.7L2573.7 1477.7L2583.1 1477.7L2592.5 1477.7L2601.9 1471.4L2611.3 1471.4L2620.7 1471.4L2630.1 1471.4L2639.5 1471.4L2648.9 1471.4L2658.3 1471.4L2667.7 1467.4L2677.1 1467.4L2686.5 1467.4L2695.9 1467.4L2705.3 1455.5L2714.7 1437.5L2724.1 1437.5L2733.5 1437.5L2742.9 1437.5L2752.3 1437.5L2761.7 1437.5L2771.1 1437.5L2780.5 1432.2L2789.9 1431.6L2799.3 1425.7L2808.7 1425.7L2818.1 1425.7L2827.5 1425.7L2836.9 1425.7L2846.3 1425.7L2855.7 1425.7L2865.1 1425.7L2874.5 1425.7L2883.9 1425.7L2893.3 1425.7L2902.7 1425.7L2912.1 1425.7L2921.5 1425.7L2930.9 1425.7L2940.3 1425.7L2949.7 1425.7L2959.1 1425.7L2968.5 1425.7L2977.9 1425.7L2987.3 1425.7L2996.7 1425.7L3006.1 1414.1L3015.5 1414.1L3024.9 1414.1L3034.3 1414.1L3043.7 1414.1L3053.1 1414.1L3062.5 1414.1L3071.9 1394.5L3081.3 1379.6L3090.7 1376.5L3100.1 1376.5L3109.5 1373.8L3118.9 1373.5L3128.3 1370.6L3137.7 1370.2L3147.1 1367.3L3156.5 1367.3L3165.9 1367.3L3175.3 1367.3L3184.7 1367.3L3194.1 1367.3L3203.5 1367.3L3212.9 1365.0L3222.3 1354.8L3231.6 1351.5L3241.0 1346.3L3250.4 1342.8L3259.8 1339.1L3269.2 1325.5L3278.6 1325.5L3288.0 1323.1L3297.4 1316.7L3306.8 1316.4L3316.2 1316.4L3325.6 1316.4L3335.0 1316.3L3344.4 1311.4L3353.8 1293.8L3363.2 1293.4L3372.6 1283.0L3382.0 1281.2L3391.4 1281.2L3400.8 1281.2L3410.2 1281.2L3419.6 1281.2L3429.0 1280.0L3438.4 1254.1L3447.8 1244.2L3457.2 1244.2L3466.6 1244.2L3476.0 1227.4L3485.4 1224.1L3494.8 1220.3L3504.2 1220.3L3513.6 1220.3L3523.0 1218.8L3532.4 1218.8L3541.8 1218.8L3551.2 1187.5L3560.6 1178.7L3570.0 1178.7L3579.4 1146.2L3588.8 1146.2L3598.2 1138.4L3607.6 1129.4L3617.0 1128.1L3626.4 1120.0L3635.8 1120.0L3645.2 1120.0L3654.6 1120.0"/>
<path stroke="#3a9cc7" d="M224.0 2114.0L233.4 2114.0L242.8 2104.7L252.2 2088.6L261.6 2088.6L271.0 2088.6L280.4 2088.6L289.8 2088.6L299.2 2088.6L308.6 2088.6L318.0 2088.6L327.4 2088.6L336.8 2088.6L346.2 2088.6L355.6 2088.6L365.0 2048.9L374.4 2048.9L383.8 2048.9L393.2 2048.9L402.6 2040.1L412.0 2035.2L421.4 2035.2L430.8 2035.2L440.2 2021.3L449.6 2004.5L459.0 2004.5L468.4 2004.5L477.8 2004.5L487.2 2003.7L496.6 1950.1L506.0 1946.0L515.4 1946.0L524.8 1946.0L534.2 1946.0L543.6 1946.0L553.0 1946.0L562.4 1937.1L571.8 1936.3L581.2 1936.3L590.6 1936.3L600.0 1936.3L609.4 1936.3L618.7 1936.3L628.1 1936.3L637.5 1936.3L646.9 1936.3L656.3 1936.3L665.7 1936.3L675.1 1936.3L684.5 1936.3L693.9 1925.5L703.3 1925.1L712.7 1904.5L722.1 1904.5L731.5 1888.5L740.9 1883.5L750.3 1880.9L759.7 1859.0L769.1 1853.2L778.5 1831.5L787.9 1830.0L797.3 1830.0L806.7 1830.0L816.1 1830.0L825.5 1830.0L834.9 1830.0L844.3 1830.0L853.7 1830.0L863.1 1830.0L872.5 1830.0L881.9 1830.0L891.3 1830.0L900.7 1829.8L910.1 1829.8L919.5 1829.8L928.9 1823.4L938.3 1823.2L947.7 1821.2L957.1 1815.6L966.5 1813.6L975.9 1813.6L985.3 1813.6L994.7 1813.6L1004.1 1813.6L1013.5 1813.6L1022.9 1813.6L1032.3 1813.6L1041.7 1813.6L1051.1 1813.6L1060.5 1813.6L1069.9 1807.2L1079.3 1807.2L1088.7 1807.2L1098.1 1807.2L1107.5 1783.7L1116.9 1767.5L1126.3 1762.7L1135.7 1762.6L1145.1 1760.2L1154.5 1751.3L1163.9 1750.3L1173.3 1738.6L1182.7 1719.6L1192.1 1714.8L1201.5 1714.3L1210.9 1704.8L1220.3 1682.5L1229.7 1682.5L1239.1 1682.5L1248.5 1682.5L1257.9 1682.5L1267.3 1681.6L1276.7 1677.6L1286.1 1677.6L1295.5 1677.6L1304.9 1672.4L1314.3 1668.8L1323.7 1663.5L1333.1 1654.7L1342.5 1654.7L1351.9 1654.7L1361.3 1654.7L1370.7 1654.7L1380.1 1654.7L1389.5 1654.7L1398.9 1654.7L1408.3 1654.7L1417.7 1649.7L1427.1 1649.5L1436.5 1649.1L1445.9 1647.1L1455.3 1637.2L1464.7 1628.2L1474.1 1627.5L1483.5 1603.0L1492.8 1603.0L1502.2 1603.0L1511.6 1599.0L1521.0 1596.8L1530.4 1558.9L1539.8 1556.2L1549.2 1556.2L1558.6 1556.2L1568.0 1556.2L1577.4 1556.2L1586.8 1556.2L1596.2 1556.2L1605.6 1556.2L1615.0 1556.2L1624.4 1556.2L1633.8 1556.2L1643.2 1556.2L1652.6 1556.2L1662.0 1556.2L1671.4 1556.2L1680.8 1556.2L1690.2 1556.2L1699.6 1556.2L1709.0 1556.2L1718.4 1553.8L1727.8 1546.7L1737.2 1525.9L1746.6 1523.7L1756.0 1513.0L1765.4 1513.0L1774.8 1513.0L1784.2 1503.4L1793.6 1492.2L1803.0 1480.0L1812.4 1480.0L1821.8 1464.9L1831.2 1457.9L1840.6 1457.7L1850.0 1456.8L1859.4 1456.7L1868.8 1456.7L1878.2 1456.7L1887.6 1456.7L1897.0 1456.7L1906.4 1456.7L1915.8 1456.7L1925.2 1450.7L1934.6 1450.7L1944.0 1450.7L1953.4 1450.7L1962.8 1450.1L1972.2 1450.1L1981.6 1450.1L1991.0 1450.1L2000.4 1450.1L2009.8 1449.8L2019.2 1447.1L2028.6 1447.1L2038.0 1447.1L2047.4 1447.1L2056.8 1447.1L2066.2 1447.1L2075.6 1447.1L2085.0 1447.1L2094.4 1447.1L2103.8 1447.1L2113.2 1426.6L2122.6 1424.9L2132.0 1420.5L2141.4 1420.5L2150.8 1420.5L2160.2 1415.7L2169.6 1415.7L2179.0 1415.7L2188.4 1415.7L2197.8 1415.7L2207.2 1415.7L2216.6 1415.7L2226.0 1415.7L2235.4 1415.7L2244.8 1415.7L2254.2 1415.7L2263.6 1415.7L2273.0 1415.7L2282.4 1415.7L2291.8 1415.7L2301.2 1415.7L2310.6 1415.7L2320.0 1415.7L2329.4 1415.7L2338.8 1415.7L2348.2 1415.7L2357.5 1415.7L2366.9 1403.3L2376.3 1403.3L2385.7 1403.3L2395.1 1403.3L2404.5 1403.3L2413.9 1403.3L2423.3 1403.3L2432.7 1403.3L2442.1 1403.3L2451.5 1403.3L2460.9 1403.3L2470.3 1403.2L2479.7 1397.8L2489.1 1397.8L2498.5 1397.8L2507.9 1387.8L2517.3 1383.4L2526.7 1383.1L2536.1 1378.5L2545.5 1376.8L2554.9 1374.0L2564.3 1373.6L2573.7 1373.6L2583.1 1373.6L2592.5 1373.6L2601.9 1373.6L2611.3 1373.6L2620.7 1373.6L2630.1 1372.4L2639.5 1369.5L2648.9 1367.9L2658.3 1367.6L2667.7 1367.6L2677.1 1367.6L2686.5 1367.6L2695.9 1367.6L2705.3 1367.6L2714.7 1364.0L2724.1 1363.4L2733.5 1355.0L2742.9 1355.0L2752.3 1354.5L2761.7 1354.5L2771.1 1354.1L2780.5 1354.1L2789.9 1353.3L2799.3 1345.8L2808.7 1344.0L2818.1 1344.0L2827.5 1344.0L2836.9 1343.7L2846.3 1341.2L2855.7 1341.2L2865.1 1341.2L2874.5 1340.6L2883.9 1340.6L2893.3 1340.6L2902.7 1340.6L2912.1 1326.4L2921.5 1325.9L2930.9 1321.5L2940.3 1321.4L2949.7 1314.1L2959.1 1311.7L2968.5 1311.3L2977.9 1311.0L2987.3 1308.9L2996.7 1306.4L3006.1 1306.4L3015.5 1304.8L3024.9 1303.5L3034.3 1303.4L3043.7 1303.4L3053.1 1303.4L3062.5 1303.4L3071.9 1303.4L3081.3 1302.9L3090.7 1302.5L3100.1 1302.5L3109.5 1302.5L3118.9 1302.5L3128.3 1302.5L3137.7 1302.5L3147.1 1302.5L3156.5 1302.5L3165.9 1301.0L3175.3 1295.5L3184.7 1292.6L3194.1 1292.6L3203.5 1270.3L3212.9 1270.3L3222.3 1262.5L3231.6 1262.5L3241.0 1262.5L3250.4 1262.5L3259.8 1262.5L3269.2 1258.3L3278.6 1243.2L3288.0 1240.3L3297.4 1240.3L3306.8 1240.3L3316.2 1240.3L3325.6 1240.3L3335.0 1229.1L3344.4 1213.4L3353.8 1206.2L3363.2 1206.2L3372.6 1204.5L3382.0 1200.7L3391.4 1200.6L3400.8 1200.0L3410.2 1200.0L3419.6 1166.4L3429.0 1166.4L3438.4 1166.4L3447.8 1155.6L3457.2 1154.6L3466.6 1154.6L3476.0 1154.6L3485.4 1151.9L3494.8 1148.9L3504.2 1130.9L3513.6 1125.9L3523.0 1125.9L3532.4 1125.9L3541.8 1124.8L3551.2 1107.1L3560.6 1107.1L3570.0 1107.1L3579.4 1107.1L3588.8 1107.1L3598.2 1107.1L3607.6 1107.1L3617.0 1107.1L3626.4 1107.1L3635.8 1107.1L3645.2 1101.0"/>
<path stroke="#3699c5" d="M224.0 2115.9L233.4 2115.9L242.8 2115.9L252.2 2115.9L261.6 2115.9L271.0 2115.9L280.4 2115.9L289.8 2113.0L299.2 2113.0L308.6 2113.0L318.0 2113.0L327.4 2113.0L336.8 2113.0L346.2 2113.0L355.6 2113.0L365.0 2113.0L374.4 2113.0L383.8 2113.0L393.2 2112.6L402.6 2111.5L412.0 2111.5L421.4 2090.6L430.8 2040.2L440.2 2036.2L449.6 2032.2L459.0 2023.7L468.4 1979.2L477.8 1972.5L487.2 1972.5L496.6 1967.0L506.0 1963.3L515.4 1962.0L524.8 1960.5L534.2 1945.9L543.6 1939.5L553.0 1937.6L562.4 1931.5L571.8 1913.7L581.2 1913.7L590.6 1912.2L600.0 1912.2L609.4 1912.2L618.7 1908.2L628.1 1900.1L637.5 1897.4L646.9 1893.5L656.3 1892.1L665.7 1892.1L675.1 1886.8L684.5 1886.3L693.9 1885.6L703.3 1885.4L712.7 1883.8L722.1 1883.8L731.5 1883.8L740.9 1883.8L750.3 1880.1L759.7 1880.1L769.1 1880.1L778.5 1880.1L787.9 1878.0L797.3 1878.0L806.7 1874.2L816.1 1864.5L825.5 1864.5L834.9 1864.5L844.3 1864.5L853.7 1858.4L863.1 1851.3L872.5 1849.9L881.9 1849.9L891.3 1849.9L900.7 1841.3L910.1 1841.3L919.5 1841.3L928.9 1841.3L938.3 1841.3L947.7 1841.3L957.1 1841.3L966.5 1841.3L975.9 1837.8L985.3 1836.1L994.7 1812.1L1004.1 1800.4L1013.5 1800.4L1022.9 1800.4L1032.3 1800.4L1041.7 1781.1L1051.1 1774.8L1060.5 1754.4L1069.9 1754.3L1079.3 1753.8L1088.7 1747.7L1098.1 1744.4L1107.5 1738.5L1116.9 1738.5L1126.3 1736.9L1135.7 1727.8L1145.1 1725.5L1154.5 1722.7L1163.9 1722.7L1173.3 1722.6L1182.7 1722.6L1192.1 1722.6L1201.5 1722.6L1210.9 1722.6L1220.3 1722.6L1229.7 1716.8L1239.1 1711.5L1248.5 1711.5L1257.9 1711.5L1267.3 1711.5L1276.7 1711.3L1286.1 1705.7L1295.5 1705.7L1304.9 1705.7L1314.3 1698.7L1323.7 1697.7L1333.1 1683.2L1342.5 1683.2L1351.9 1683.2L1361.3 1683.2L1370.7 1683.2L1380.1 1680.6L1389.5 1680.6L1398.9 1680.6L1408.3 1675.0L1417.7 1675.0L1427.1 1674.9L1436.5 1674.9L1445.9 1674.9L1455.3 1674.9L1464.7 1674.9L1474.1 1674.9L1483.5 1674.9L1492.8 1674.9L1502.2 1674.9L1511.6 1668.2L1521.0 1668.2L1530.4 1668.2L1539.8 1668.2L1549.2 1668.2L1558.6 1668.2L1568.0 1657.1L1577.4 1611.6L1586.8 1611.6L1596.2 1611.6L1605.6 1609.9L1615.0 1609.4L1624.4 1605.0L1633.8 1605.0L1643.2 1605.0L1652.6 1605.0L1662.0 1605.0L1671.4 1561.7L1680.8 1559.7L1690.2 1559.3L1699.6 1559.3L1709.0 1559.3L1718.4 1539.8L1727.8 1525.2L1737.2 1525.2L1746.6 1525.2L1756.0 1525.2L1765.4 1525.2L1774.8 1525.2L1784.2 1525.2L1793.6 1525.2L1803.0 1525.2L1812.4 1525.2L1821.8 1525.2L1831.2 1525.2L1840.6 1525.2L1850.0 1525.2L1859.4 1525.2L1868.8 1525.2L1878.2 1525.2L1887.6 1525.2L1897.0 1525.2L1906.4 1525.2L1915.8 1525.2L1925.2 1525.2L1934.6 1525.2L1944.0 1525.2L1953.4 1525.2L1962.8 1525.2L1972.2 1525.2L1981.6 1525.2L1991.0 1525.2L2000.4 1525.2L2009.8 1525.2L2019.2 1525.2L2028.6 1525.2L2038.0 1513.3L2047.4 1513.3L2056.8 1513.3L2066.2 1513.3L2075.6 1513.3L2085.0 1513.3L2094.4 1513.3L2103.8 1512.6L2113.2 1502.7L2122.6 1500.1L2132.0 1495.6L2141.4 1490.6L2150.8 1490.6L2160.2 1486.7L2169.6 1484.9L2179.0 1484.9L2188.4 1484.9L2197.8 1484.9L2207.2 1484.9L2216.6 1484.9L2226.0 1484.9L2235.4 1477.1L2244.8 1466.7L2254.2 1463.1L2263.6 1463.1L2273.0 1463.1L2282.4 1462.3L2291.8 1461.0L2301.2 1459.3L2310.6 1455.3L2320.0 1453.5L2329.4 1453.5L2338.8 1453.5L2348.2 1451.6L2357.5 1451.6L2366.9 1451.6L2376.3 1451.6L2385.7 1451.6L2395.1 1451.6L2404.5 1451.6L2413.9 1451.6L2423.3 1451.6L2432.7 1451.6L2442.1 1451.6L2451.5 1451.6L2460.9 1451.6L2470.3 1451.6L2479.7 1451.6L2489.1 1451.6L2498.5 1451.4L2507.9 1451.4L2517.3 1451.4L2526.7 1451.4L2536.1 1447.1L2545.5 1445.4L2554.9 1437.3L2564.3 1437.3L2573.7 1437.3L2583.1 1437.3L2592.5 1435.7L2601.9 1435.7L2611.3 1435.7L2620.7 1435.7L2630.1 1435.7L2639.5 1435.7L2648.9 1432.7L2658.3 1432.7L2667.7 1432.3L2677.1 1432.3L2686.5 1432.3L2695.9 1432.3L2705.3 1432.3L2714.7 1432.2L2724.1 1432.2L2733.5 1432.2L2742.9 1432.2L2752.3 1432.1L2761.7 1424.8L2771.1 1424.1L2780.5 1422.9L2789.9 1418.5L2799.3 1411.6L2808.7 1402.5L2818.1 1401.1L2827.5 1393.4L2836.9 1393.4L2846.3 1393.4L2855.7 1393.4L2865.1 1393.4L2874.5 1393.4L2883.9 1393.4L2893.3 1381.8L2902.7 1381.8L2912.1 1381.8L2921.5 1373.4L2930.9 1373.4L2940.3 1373.4L2949.7 1373.3L2959.1 1373.3L2968.5 1361.0L2977.9 1334.7L2987.3 1334.7L2996.7 1324.4L3006.1 1324.2L3015.5 1324.2L3024.9 1318.0L3034.3 1318.0L3043.7 1318.0L3053.1 1316.9L3062.5 1316.9L3071.9 1316.9L3081.3 1316.9L3090.7 1307.7L3100.1 1305.6L3109.5 1292.9L3118.9 1292.9L3128.3 1292.9L3137.7 1289.9L3147.1 1289.5L3156.5 1288.7L3165.9 1288.2L3175.3 1288.2L3184.7 1288.2L3194.1 1288.2L3203.5 1285.3L3212.9 1281.2L3222.3 1280.0L3231.6 1270.9L3241.0 1270.6L3250.4 1270.6L3259.8 1270.6L3269.2 1270.6L3278.6 1270.6L3288.0 1266.1L3297.4 1265.1L3306.8 1265.1L3316.2 1265.1L3325.6 1265.1L3335.0 1265.1L3344.4 1265.1L3353.8 1265.1L3363.2 1265.1L3372.6 1264.8L3382.0 1257.0L3391.4 1243.7L3400.8 1243.7L3410.2 1243.7L3419.6 1226.6L3429.0 1226.6L3438.4 1220.4L3447.8 1220.4L3457.2 1220.4L3466.6 1220.4L3476.0 1220.2L3485.4 1216.9L3494.8 1210.1L3504.2 1203.6L3513.6 1177.1L3523.0 1174.3L3532.4 1167.6L3541.8 1164.5L3551.2 1160.0L3560.6 1155.2L3570.0 1155.2L3579.4 1155.2L3588.8 1155.2L3598.2 1139.9L3607.6 1123.5L3617.0 1119.1L3626.4 1106.6L3635.8 1094.0L3645.2 1094.0"/>
<path stroke="#3395c3" d="M224.0 2116.3L233.4 2110.5L242.8 2109.3L252.2 2097.2L261.6 2088.5L271.0 2081.5L280.4 2081.5L289.8 2081.5L299.2 2081.5L308.6 2081.5L318.0 2081.5L327.4 2071.0L336.8 2046.6L346.2 2041.1L355.6 2012.5L365.0 2012.5L374.4 2012.5L383.8 2012.5L393.2 2012.5L402.6 2012.5L412.0 2012.5L421.4 2012.5L430.8 2012.5L440.2 2010.0L449.6 2010.0L459.0 2010.0L468.4 2010.0L477.8 2004.8L487.2 2004.8L496.6 2004.8L506.0 2004.8L515.4 2004.8L524.8 2004.8L534.2 1997.5L543.6 1997.5L553.0 1997.5L562.4 1990.1L571.8 1990.1L581.2 1990.1L590.6 1983.8L600.0 1968.9L609.4 1968.9L618.7 1968.9L628.1 1968.9L637.5 1947.9L646.9 1947.9L656.3 1947.9L665.7 1932.0L675.1 1932.0L684.5 1932.0L693.9 1932.0L703.3 1932.0L712.7 1932.0L722.1 1932.0L731.5 1932.0L740.9 1913.1L750.3 1911.3L759.7 1911.3L769.1 1911.3L778.5 1911.3L787.9 1911.3L797.3 1911.3L806.7 1911.3L816.1 1898.1L825.5 1893.9L834.9 1889.9L844.3 1889.9L853.7 1888.3L863.1 1880.4L872.5 1880.4L881.9 1880.4L891.3 1880.4L900.7 1880.4L910.1 1880.4L919.5 1880.4L928.9 1880.4L938.3 1880.4L947.7 1880.4L957.1 1871.1L966.5 1868.9L975.9 1859.7L985.3 1859.7L994.7 1859.7L1004.1 1859.7L1013.5 1859.7L1022.9 1859.7L1032.3 1859.7L1041.7 1856.9L1051.1 1830.1L1060.5 1828.6L1069.9 1828.6L1079.3 1828.6L1088.7 1828.6L1098.1 1828.6L1107.5 1828.6L1116.9 1828.6L1126.3 1828.6L1135.7 1828.6L1145.1 1828.6L1154.5 1789.2L1163.9 1782.5L1173.3 1781.8L1182.7 1781.8L1192.1 1781.8L1201.5 1781.8L1210.9 1781.8L1220.3 1770.1L1229.7 1767.2L1239.1 1767.2L1248.5 1767.2L1257.9 1767.2L1267.3 1767.2L1276.7 1767.2L1286.1 1767.2L1295.5 1767.2L1304.9 1767.2L1314.3 1767.2L1323.7 1767.2L1333.1 1767.2L1342.5 1756.9L1351.9 1756.9L1361.3 1756.9L1370.7 1756.9L1380.1 1756.9L1389.5 1756.9L1398.9 1756.9L1408.3 1756.9L1417.7 1756.9L1427.1 1756.9L1436.5 1749.6L1445.9 1749.6L1455.3 1749.6L1464.7 1748.3L1474.1 1748.3L1483.5 1734.9L1492.8 1704.8L1502.2 1697.4L1511.6 1695.4L1521.0 1695.1L1530.4 1695.1L1539.8 1695.1L1549.2 1695.1L1558.6 1695.1L1568.0 1695.1L1577.4 1695.1L1586.8 1695.1L1596.2 1695.1L1605.6 1695.1L1615.0 1672.8L1624.4 1672.8L1633.8 1660.0L1643.2 1660.0L1652.6 1660.0L1662.0 1660.0L1671.4 1659.0L1680.8 1659.0L1690.2 1659.0L1699.6 1648.0L1709.0 1648.0L1718.4 1644.9L1727.8 1644.9L1737.2 1644.9L1746.6 1644.9L1756.0 1635.7L1765.4 1634.9L1774.8 1632.8L1784.2 1632.8L1793.6 1632.8L1803.0 1632.8L1812.4 1632.7L1821.8 1632.4L1831.2 1632.4L1840.6 1632.4L1850.0 1632.4L1859.4 1627.0L1868.8 1626.2L1878.2 1609.8L1887.6 1601.8L1897.0 1600.8L1906.4 1596.1L1915.8 1594.9L1925.2 1583.8L1934.6 1576.7L1944.0 1576.7L1953.4 1576.7L1962.8 1576.5L1972.2 1575.6L1981.6 1575.4L1991.0 1575.4L2000.4 1573.2L2009.8 1571.9L2019.2 1571.7L2028.6 1571.7L2038.0 1571.7L2047.4 1569.5L2056.8 1566.4L2066.2 1566.0L2075.6 1566.0L2085.0 1566.0L2094.4 1566.0L2103.8 1566.0L2113.2 1566.0L2122.6 1566.0L2132.0 1566.0L2141.4 1561.6L2150.8 1561.5L2160.2 1561.5L2169.6 1561.5L2179.0 1555.0L2188.4 1555.0L2197.8 1555.0L2207.2 1555.0L2216.6 1555.0L2226.0 1555.0L2235.4 1554.9L2244.8 1552.5L2254.2 1550.5L2263.6 1548.2L2273.0 1545.8L2282.4 1545.8L2291.8 1545.8L2301.2 1545.8L2310.6 1545.8L2320.0 1545.8L2329.4 1545.8L2338.8 1545.8L2348.2 1545.8L2357.5 1545.8L2366.9 1545.8L2376.3 1545.8L2385.7 1545.8L2395.1 1545.8L2404.5 1545.8L2413.9 1545.8L2423.3 1545.8L2432.7 1544.7L2442.1 1542.4L2451.5 1542.4L2460.9 1542.4L2470.3 1537.2L2479.7 1536.3L2489.1 1536.3L2498.5 1536.3L2507.9 1536.3L2517.3 1536.3L2526.7 1536.3L2536.1 1534.4L2545.5 1526.1L2554.9 1526.1L2564.3 1526.1L2573.7 1526.1L2583.1 1510.1L2592.5 1510.1L2601.9 1510.1L2611.3 1510.1L2620.7 1510.1L2630.1 1510.1L2639.5 1502.9L2648.9 1502.9L2658.3 1502.9L2667.7 1502.9L2677.1 1502.9L2686.5 1487.0L2695.9 1487.0L2705.3 1487.0L2714.7 1487.0L2724.1 1487.0L2733.5 1475.7L2742.9 1475.7L2752.3 1475.7L2761.7 1475.7L2771.1 1475.7L2780.5 1475.7L2789.9 1475.7L2799.3 1475.7L2808.7 1475.7L2818.1 1475.7L2827.5 1475.7L2836.9 1475.7L2846.3 1475.7L2855.7 1475.7L2865.1 1475.7L2874.5 1475.7L2883.9 1475.7L2893.3 1475.7L2902.7 1475.7L2912.1 1475.7L2921.5 1475.7L2930.9 1475.7L2940.3 1475.7L2949.7 1468.6L2959.1 1468.6L2968.5 1465.9L2977.9 1464.9L2987.3 1457.3L2996.7 1453.8L3006.1 1426.7L3015.5 1425.6L3024.9 1425.6L3034.3 1425.6L3043.7 1425.6L3053.1 1425.6L3062.5 1425.6L3071.9 1425.6L3081.3 1425.6L3090.7 1425.6L3100.1 1425.6L3109.5 1425.6L3118.9 1413.9L3128.3 1408.9L3137.7 1408.9L3147.1 1370.4L3156.5 1370.4L3165.9 1362.5L3175.3 1362.5L3184.7 1362.5L3194.1 1362.5L3203.5 1362.5L3212.9 1354.9L3222.3 1310.7L3231.6 1293.7L3241.0 1292.5L3250.4 1292.5L3259.8 1281.8L3269.2 1281.8L3278.6 1281.8L3288.0 1281.8L3297.4 1278.8L3306.8 1276.6L3316.2 1276.6L3325.6 1259.8L3335.0 1255.5L3344.4 1255.5L3353.8 1255.5L3363.2 1255.5L3372.6 1255.5L3382.0 1255.5L3391.4 1255.5L3400.8 1255.5L3410.2 1255.5L3419.6 1255.5L3429.0 1247.9L3438.4 1244.1L3447.8 1244.1L3457.2 1243.4L3466.6 1243.0L3476.0 1238.7L3485.4 1213.2L3494.8 1213.2L3504.2 1213.2L3513.6 1213.2L3523.0 1208.5L3532.4 1155.7L3541.8 1151.1L3551.2 1151.1L3560.6 1151.1L3570.0 1151.1L3579.4 1151.1L3588.8 1151.1L3598.2 1141.6L3607.6 1108.3L3617.0 1102.1L3626.4 1092.6L3635.8 1088.0L3645.2 1088.0"/>
<path stroke="#3091c1" d="M224.0 2115.3L233.4 2115.3L242.8 2111.2L252.2 2096.8L261.6 2071.3L271.0 2071.3L280.4 2063.0L289.8 2040.6L299.2 2038.7L308.6 2030.2L318.0 2027.3L327.4 2027.3L336.8 2027.3L346.2 2018.4L355.6 2010.2L365.0 1993.2L374.4 1989.0L383.8 1989.0L393.2 1989.0L402.6 1975.6L412.0 1973.6L421.4 1970.8L430.8 1961.0L440.2 1961.0L449.6 1961.0L459.0 1961.0L468.4 1960.9L477.8 1954.0L487.2 1954.0L496.6 1954.0L506.0 1954.0L515.4 1954.0L524.8 1954.0L534.2 1953.1L543.6 1953.1L553.0 1934.6L562.4 1931.8L571.8 1924.8L581.2 1923.4L590.6 1923.4L600.0 1923.4L609.4 1923.4L618.7 1923.4L628.1 1882.7L637.5 1880.1L646.9 1880.1L656.3 1880.1L665.7 1880.1L675.1 1880.1L684.5 1880.1L693.9 1880.1L703.3 1880.1L712.7 1875.3L722.1 1875.3L731.5 1875.3L740.9 1875.3L750.3 1875.3L759.7 1872.6L769.1 1856.8L778.5 1856.2L787.9 1850.8L797.3 1850.8L806.7 1850.8L816.1 1850.8L825.5 1850.8L834.9 1850.8L844.3 1850.8L853.7 1850.8L863.1 1850.8L872.5 1828.5L881.9 1826.6L891.3 1826.6L900.7 1826.6L910.1 1826.6L919.5 1824.6L928.9 1814.1L938.3 1813.5L947.7 1802.1L957.1 1792.5L966.5 1792.5L975.9 1792.5L985.3 1792.5L994.7 1792.5L1004.1 1792.5L1013.5 1792.5L1022.9 1792.5L1032.3 1792.5L1041.7 1790.2L1051.1 1768.0L1060.5 1765.1L1069.9 1765.1L1079.3 1745.1L1088.7 1728.3L1098.1 1720.5L1107.5 1720.5L1116.9 1720.5L1126.3 1720.5L1135.7 1720.5L1145.1 1720.5L1154.5 1719.2L1163.9 1719.2L1173.3 1718.3L1182.7 1718.1L1192.1 1718.0L1201.5 1716.8L1210.9 1712.8L1220.3 1712.1L1229.7 1698.1L1239.1 1697.1L1248.5 1697.1L1257.9 1697.1L1267.3 1693.1L1276.7 1689.5L1286.1 1679.4L1295.5 1676.1L1304.9 1676.1L1314.3 1665.8L1323.7 1664.7L1333.1 1664.7L1342.5 1664.2L1351.9 1664.2L1361.3 1662.3L1370.7 1662.2L1380.1 1662.2L1389.5 1662.2L1398.9 1662.2L1408.3 1662.2L1417.7 1662.2L1427.1 1662.2L1436.5 1662.2L1445.9 1662.2L1455.3 1653.4L1464.7 1652.4L1474.1 1638.3L1483.5 1618.4L1492.8 1581.8L1502.2 1581.8L1511.6 1581.8L1521.0 1581.8L1530.4 1581.8L1539.8 1579.2L1549.2 1579.2L1558.6 1564.7L1568.0 1564.7L1577.4 1563.8L1586.8 1563.8L1596.2 1563.8L1605.6 1563.5L1615.0 1563.5L1624.4 1563.5L1633.8 1563.5L1643.2 1563.5L1652.6 1563.5L1662.0 1563.5L1671.4 1561.2L1680.8 1561.2L1690.2 1559.4L1699.6 1559.4L1709.0 1546.7L1718.4 1546.7L1727.8 1546.7L1737.2 1546.7L1746.6 1546.7L1756.0 1534.1L1765.4 1502.1L1774.8 1502.1L1784.2 1502.1L1793.6 1502.1L1803.0 1464.6L1812.4 1458.4L1821.8 1457.4L1831.2 1456.0L1840.6 1438.7L1850.0 1436.9L1859.4 1431.6L1868.8 1424.5L1878.2 1421.5L1887.6 1421.5L1897.0 1421.5L1906.4 1421.5L1915.8 1418.0L1925.2 1418.0L1934.6 1418.0L1944.0 1418.0L1953.4 1418.0L1962.8 1418.0L1972.2 1418.0L1981.6 1418.0L1991.0 1418.0L2000.4 1418.0L2009.8 1415.1L2019.2 1415.1L2028.6 1415.1L2038.0 1415.1L2047.4 1415.1L2056.8 1415.1L2066.2 1415.1L2075.6 1415.1L2085.0 1415.1L2094.4 1415.1L2103.8 1415.1L2113.2 1415.1L2122.6 1415.1L2132.0 1415.1L2141.4 1415.1L2150.8 1415.1L2160.2 1415.1L2169.6 1415.1L2179.0 1415.1L2188.4 1415.1L2197.8 1411.0L2207.2 1402.3L2216.6 1400.4L2226.0 1400.4L2235.4 1400.4L2244.8 1400.4L2254.2 1400.4L2263.6 1400.4L2273.0 1400.4L2282.4 1400.4L2291.8 1400.4L2301.2 1400.4L2310.6 1400.4L2320.0 1397.4L2329.4 1397.4L2338.8 1392.2L2348.2 1392.2L2357.5 1392.2L2366.9 1392.2L2376.3 1392.2L2385.7 1392.2L2395.1 1392.1L2404.5 1392.1L2413.9 1392.1L2423.3 1392.1L2432.7 1392.1L2442.1 1392.1L2451.5 1392.1L2460.9 1380.1L2470.3 1377.0L2479.7 1377.0L2489.1 1377.0L2498.5 1377.0L2507.9 1377.0L2517.3 1377.0L2526.7 1377.0L2536.1 1377.0L2545.5 1377.0L2554.9 1377.0L2564.3 1377.0L2573.7 1377.0L2583.1 1377.0L2592.5 1365.2L2601.9 1363.4L2611.3 1353.4L2620.7 1352.0L2630.1 1352.0L2639.5 1352.0L2648.9 1352.0L2658.3 1351.9L2667.7 1342.0L2677.1 1337.2L2686.5 1333.5L2695.9 1333.5L2705.3 1333.5L2714.7 1333.5L2724.1 1333.5L2733.5 1333.5L2742.9 1333.5L2752.3 1333.5L2761.7 1333.5L2771.1 1333.5L2780.5 1327.7L2789.9 1327.7L2799.3 1327.7L2808.7 1327.7L2818.1 1327.7L2827.5 1327.7L2836.9 1327.7L2846.3 1327.7L2855.7 1318.4L2865.1 1312.4L2874.5 1312.4L2883.9 1312.4L2893.3 1300.8L2902.7 1300.8L2912.1 1300.8L2921.5 1281.5L2930.9 1281.5L2940.3 1275.3L2949.7 1261.3L2959.1 1261.3L2968.5 1261.3L2977.9 1261.3L2987.3 1261.3L2996.7 1261.3L3006.1 1261.3L3015.5 1261.3L3024.9 1261.3L3034.3 1261.3L3043.7 1261.3L3053.1 1261.3L3062.5 1261.3L3071.9 1261.3L3081.3 1261.3L3090.7 1261.3L3100.1 1261.3L3109.5 1261.3L3118.9 1256.6L3128.3 1247.7L3137.7 1247.7L3147.1 1247.3L3156.5 1241.9L3165.9 1241.3L3175.3 1224.0L3184.7 1224.0L3194.1 1224.0L3203.5 1224.0L3212.9 1224.0L3222.3 1224.0L3231.6 1224.0L3241.0 1213.6L3250.4 1212.1L3259.8 1212.1L3269.2 1212.1L3278.6 1212.1L3288.0 1212.1L3297.4 1212.1L3306.8 1212.1L3316.2 1212.1L3325.6 1212.1L3335.0 1212.1L3344.4 1211.4L3353.8 1200.5L3363.2 1197.1L3372.6 1191.2L3382.0 1179.5L3391.4 1174.2L3400.8 1174.2L3410.2 1173.0L3419.6 1170.0L3429.0 1170.0L3438.4 1170.0L3447.8 1170.0L3457.2 1170.0L3466.6 1170.0L3476.0 1170.0L3485.4 1170.0L3494.8 1164.1L3504.2 1153.1L3513.6 1140.7L3523.0 1140.7L3532.4 1140.7L3541.8 1133.9L3551.2 1120.0L3560.6 1117.6L3570.0 1117.6L3579.4 1117.6L3588.8 1117.6L3598.2 1117.6L3607.6 1085.6L3617.0 1085.6L3626.4 1084.5L3635.8 1081.2L3645.2 1073.1L3654.6 1073.0"/>
<path stroke="#2d8ebf" d="M224.0 2114.9L233.4 2106.2L242.8 2106.2L252.2 2101.4L261.6 2101.4L271.0 2101.4L280.4 2101.4L289.8 2097.5L299.2 2097.5L308.6 2092.0L318.0 2092.0L327.4 2089.8L336.8 2036.2L346.2 2022.7L355.6 2022.2L365.0 2022.2L374.4 2017.1L383.8 1999.2L393.2 1998.0L402.6 1998.0L412.0 1998.0L421.4 1998.0L430.8 1998.0L440.2 1994.6L449.6 1965.1L459.0 1955.3L468.4 1952.6L477.8 1952.6L487.2 1952.6L496.6 1952.6L506.0 1952.5L515.4 1949.0L524.8 1939.7L534.2 1939.7L543.6 1939.7L553.0 1939.7L562.4 1939.7L571.8 1939.7L581.2 1939.7L590.6 1937.9L600.0 1937.6L609.4 1935.1L618.7 1933.9L628.1 1922.7L637.5 1922.7L646.9 1922.7L656.3 1922.7L665.7 1922.7L675.1 1922.7L684.5 1915.5L693.9 1906.0L703.3 1906.0L712.7 1906.0L722.1 1899.9L731.5 1888.4L740.9 1885.7L750.3 1875.9L759.7 1849.2L769.1 1848.9L778.5 1835.6L787.9 1835.6L797.3 1829.6L806.7 1828.3L816.1 1828.3L825.5 1828.3L834.9 1828.3L844.3 1828.3L853.7 1802.0L863.1 1801.2L872.5 1801.2L881.9 1801.2L891.3 1797.1L900.7 1797.1L910.1 1797.1L919.5 1797.1L928.9 1794.8L938.3 1794.5L947.7 1793.1L957.1 1788.9L966.5 1785.4L975.9 1784.8L985.3 1783.8L994.7 1783.8L1004.1 1780.1L1013.5 1779.8L1022.9 1779.8L1032.3 1779.8L1041.7 1779.8L1051.1 1779.8L1060.5 1779.8L1069.9 1779.8L1079.3 1771.9L1088.7 1770.6L1098.1 1769.0L1107.5 1747.4L1116.9 1747.4L1126.3 1747.4L1135.7 1747.4L1145.1 1747.4L1154.5 1747.4L1163.9 1747.4L1173.3 1747.4L1182.7 1747.4L1192.1 1747.4L1201.5 1747.4L1210.9 1747.4L1220.3 1747.4L1229.7 1747.4L1239.1 1747.4L1248.5 1744.6L1257.9 1720.3L1267.3 1717.1L1276.7 1716.0L1286.1 1716.0L1295.5 1690.7L1304.9 1690.7L1314.3 1690.6L1323.7 1670.0L1333.1 1670.0L1342.5 1670.0L1351.9 1670.0L1361.3 1670.0L1370.7 1670.0L1380.1 1670.0L1389.5 1670.0L1398.9 1670.0L1408.3 1670.0L1417.7 1663.6L1427.1 1645.6L1436.5 1645.6L1445.9 1645.6L1455.3 1645.6L1464.7 1645.6L1474.1 1645.6L1483.5 1645.6L1492.8 1645.6L1502.2 1645.6L1511.6 1645.6L1521.0 1644.1L1530.4 1609.0L1539.8 1605.0L1549.2 1597.1L1558.6 1597.1L1568.0 1597.1L1577.4 1597.1L1586.8 1597.1L1596.2 1597.1L1605.6 1597.1L1615.0 1597.1L1624.4 1575.4L1633.8 1575.4L1643.2 1570.8L1652.6 1570.8L1662.0 1570.8L1671.4 1560.5L1680.8 1558.8L1690.2 1555.1L1699.6 1547.4L1709.0 1539.9L1718.4 1539.9L1727.8 1525.1L1737.2 1524.7L1746.6 1524.7L1756.0 1524.7L1765.4 1524.7L1774.8 1511.8L1784.2 1511.8L1793.6 1511.8L1803.0 1511.8L1812.4 1511.8L1821.8 1511.8L1831.2 1511.8L1840.6 1511.8L1850.0 1511.8L1859.4 1511.8L1868.8 1511.8L1878.2 1511.8L1887.6 1511.8L1897.0 1511.8L1906.4 1504.6L1915.8 1503.2L1925.2 1503.2L1934.6 1481.8L1944.0 1479.6L1953.4 1479.6L1962.8 1479.6L1972.2 1479.6L1981.6 1479.6L1991.0 1479.6L2000.4 1460.6L2009.8 1458.5L2019.2 1458.5L2028.6 1458.5L2038.0 1458.5L2047.4 1458.5L2056.8 1458.5L2066.2 1458.5L2075.6 1458.5L2085.0 1458.5L2094.4 1458.5L2103.8 1456.3L2113.2 1454.9L2122.6 1449.9L2132.0 1449.9L2141.4 1449.9L2150.8 1449.9L2160.2 1431.2L2169.6 1430.0L2179.0 1430.0L2188.4 1430.0L2197.8 1430.0L2207.2 1430.0L2216.6 1430.0L2226.0 1430.0L2235.4 1430.0L2244.8 1430.0L2254.2 1430.0L2263.6 1430.0L2273.0 1430.0L2282.4 1430.0L2291.8 1430.0L2301.2 1430.0L2310.6 1430.0L2320.0 1424.0L2329.4 1413.3L2338.8 1412.7L2348.2 1401.4L2357.5 1400.1L2366.9 1400.1L2376.3 1400.1L2385.7 1400.1L2395.1 1400.1L2404.5 1400.1L2413.9 1400.1L2423.3 1400.1L2432.7 1400.1L2442.1 1400.1L2451.5 1400.1L2460.9 1400.1L2470.3 1400.1L2479.7 1400.1L2489.1 1400.1L2498.5 1400.0L2507.9 1400.0L2517.3 1400.0L2526.7 1400.0L2536.1 1400.0L2545.5 1400.0L2554.9 1400.0L2564.3 1395.8L2573.7 1395.8L2583.1 1395.8L2592.5 1395.8L2601.9 1395.8L2611.3 1395.8L2620.7 1395.8L2630.1 1395.8L2639.5 1395.8L2648.9 1392.1L2658.3 1392.1L2667.7 1392.1L2677.1 1392.1L2686.5 1392.1L2695.9 1392.1L2705.3 1392.1L2714.7 1392.1L2724.1 1388.7L2733.5 1386.3L2742.9 1382.9L2752.3 1376.8L2761.7 1376.7L2771.1 1368.6L2780.5 1368.6L2789.9 1368.6L2799.3 1368.2L2808.7 1365.6L2818.1 1351.4L2827.5 1343.3L2836.9 1340.8L2846.3 1334.5L2855.7 1333.8L2865.1 1332.6L2874.5 1332.6L2883.9 1332.6L2893.3 1332.6L2902.7 1332.6L2912.1 1332.6L2921.5 1332.6L2930.9 1332.6L2940.3 1332.6L2949.7 1332.6L2959.1 1332.6L2968.5 1301.0L2977.9 1301.0L2987.3 1301.0L2996.7 1301.0L3006.1 1301.0L3015.5 1301.0L3024.9 1301.0L3034.3 1301.0L3043.7 1301.0L3053.1 1301.0L3062.5 1301.0L3071.9 1301.0L3081.3 1301.0L3090.7 1287.1L3100.1 1284.9L3109.5 1284.9L3118.9 1284.9L3128.3 1284.9L3137.7 1284.9L3147.1 1284.9L3156.5 1284.9L3165.9 1282.0L3175.3 1282.0L3184.7 1282.0L3194.1 1282.0L3203.5 1262.8L3212.9 1262.8L3222.3 1262.8L3231.6 1262.8L3241.0 1262.8L3250.4 1262.8L3259.8 1254.0L3269.2 1226.3L3278.6 1224.2L3288.0 1224.2L3297.4 1224.2L3306.8 1219.9L3316.2 1213.8L3325.6 1213.8L3335.0 1213.8L3344.4 1213.8L3353.8 1213.8L3363.2 1210.4L3372.6 1205.3L3382.0 1203.0L3391.4 1203.0L3400.8 1203.0L3410.2 1203.0L3419.6 1203.0L3429.0 1198.7L3438.4 1187.7L3447.8 1184.7L3457.2 1182.3L3466.6 1128.7L3476.0 1128.7L3485.4 1124.1L3494.8 1124.1L3504.2 1116.9L3513.6 1116.6L3523.0 1114.8L3532.4 1114.8L3541.8 1114.8L3551.2 1114.8L3560.6 1114.8L3570.0 1114.8L3579.4 1114.8L3588.8 1114.8L3598.2 1114.8L3607.6 1114.8L3617.0 1114.8L3626.4 1114.8L3635.8 1078.7L3645.2 1069.0"/>
<path stroke="#298abd" d="M224.0 2115.6L233.4 2115.6L242.8 2114.1L252.2 2110.5L261.6 2110.3L271.0 2097.0L280.4 2097.0L289.8 2097.0L299.2 2097.0L308.6 2083.6L318.0 2080.6L327.4 2079.4L336.8 2079.4L346.2 2079.4L355.6 2070.7L365.0 2069.8L374.4 2069.8L383.8 2069.8L393.2 2062.9L402.6 2031.9L412.0 2024.1L421.4 2024.1L430.8 2024.1L440.2 2024.1L449.6 2024.1L459.0 2024.1L468.4 2024.1L477.8 2024.1L487.2 2024.1L496.6 2024.1L506.0 2024.1L515.4 1999.8L524.8 1997.1L534.2 1991.6L543.6 1984.9L553.0 1984.8L562.4 1984.8L571.8 1983.9L581.2 1983.9L590.6 1977.2L600.0 1971.2L609.4 1971.2L618.7 1971.2L628.1 1971.2L637.5 1971.2L646.9 1966.9L656.3 1944.7L665.7 1942.3L675.1 1942.3L684.5 1942.3L693.9 1942.3L703.3 1935.0L712.7 1920.1L722.1 1919.4L731.5 1919.4L740.9 1919.4L750.3 1919.4L759.7 1919.4L769.1 1919.4L778.5 1919.4L787.9 1900.0L797.3 1889.5L806.7 1889.5L816.1 1884.1L825.5 1884.1L834.9 1884.1L844.3 1884.1L853.7 1884.0L863.1 1879.2L872.5 1879.2L881.9 1879.2L891.3 1879.2L900.7 1879.2L910.1 1879.2L919.5 1879.2L928.9 1856.3L938.3 1856.3L947.7 1856.3L957.1 1848.7L966.5 1846.0L975.9 1846.0L985.3 1846.0L994.7 1846.0L1004.1 1846.0L1013.5 1846.0L1022.9 1846.0L1032.3 1846.0L1041.7 1846.0L1051.1 1840.8L1060.5 1840.3L1069.9 1811.9L1079.3 1811.9L1088.7 1811.9L1098.1 1811.9L1107.5 1811.9L1116.9 1811.9L1126.3 1811.9L1135.7 1811.9L1145.1 1811.9L1154.5 1811.9L1163.9 1802.3L1173.3 1802.3L1182.7 1793.6L1192.1 1789.3L1201.5 1768.6L1210.9 1768.6L1220.3 1768.6L1229.7 1768.6L1239.1 1768.6L1248.5 1766.3L1257.9 1766.1L1267.3 1765.0L1276.7 1765.0L1286.1 1765.0L1295.5 1765.0L1304.9 1765.0L1314.3 1763.3L1323.7 1763.3L1333.1 1761.5L1342.5 1757.2L1351.9 1757.2L1361.3 1757.2L1370.7 1757.2L1380.1 1757.2L1389.5 1752.5L1398.9 1751.7L1408.3 1751.7L1417.7 1751.7L1427.1 1751.7L1436.5 1745.5L1445.9 1735.5L1455.3 1725.5L1464.7 1724.6L1474.1 1718.9L1483.5 1718.9L1492.8 1718.9L1502.2 1718.9L1511.6 1718.9L1521.0 1718.9L1530.4 1715.6L1539.8 1705.2L1549.2 1658.9L1558.6 1658.9L1568.0 1655.3L1577.4 1655.3L1586.8 1655.3L1596.2 1655.3L1605.6 1653.3L1615.0 1653.3L1624.4 1653.3L1633.8 1653.3L1643.2 1653.3L1652.6 1653.3L1662.0 1653.3L1671.4 1651.8L1680.8 1635.0L1690.2 1585.6L1699.6 1569.0L1709.0 1569.0L1718.4 1569.0L1727.8 1569.0L1737.2 1569.0L1746.6 1569.0L1756.0 1569.0L1765.4 1569.0L1774.8 1569.0L1784.2 1569.0L1793.6 1569.0L1803.0 1569.0L1812.4 1569.0L1821.8 1569.0L1831.2 1569.0L1840.6 1569.0L1850.0 1569.0L1859.4 1569.0L1868.8 1569.0L1878.2 1569.0L1887.6 1569.0L1897.0 1551.4L1906.4 1549.9L1915.8 1549.9L1925.2 1549.9L1934.6 1547.9L1944.0 1547.9L1953.4 1543.4L1962.8 1543.4L1972.2 1543.4L1981.6 1543.4L1991.0 1543.4L2000.4 1543.4L2009.8 1543.4L2019.2 1543.4L2028.6 1543.4L2038.0 1543.4L2047.4 1543.4L2056.8 1543.4L2066.2 1543.4L2075.6 1541.8L2085.0 1541.8L2094.4 1541.8L2103.8 1541.8L2113.2 1541.8L2122.6 1541.8L2132.0 1541.8L2141.4 1541.8L2150.8 1541.8L2160.2 1541.8L2169.6 1541.8L2179.0 1541.8L2188.4 1541.8L2197.8 1541.8L2207.2 1541.8L2216.6 1541.8L2226.0 1541.2L2235.4 1536.6L2244.8 1525.1L2254.2 1525.0L2263.6 1524.0L2273.0 1524.0L2282.4 1524.0L2291.8 1524.0L2301.2 1515.6L2310.6 1515.6L2320.0 1515.6L2329.4 1515.6L2338.8 1515.6L2348.2 1515.6L2357.5 1515.6L2366.9 1515.6L2376.3 1515.6L2385.7 1513.8L2395.1 1513.6L2404.5 1512.3L2413.9 1510.8L2423.3 1509.6L2432.7 1509.6L2442.1 1509.6L2451.5 1509.6L2460.9 1509.6L2470.3 1509.6L2479.7 1509.6L2489.1 1509.6L2498.5 1509.6L2507.9 1509.6L2517.3 1509.6L2526.7 1509.6L2536.1 1509.6L2545.5 1509.6L2554.9 1509.6L2564.3 1509.6L2573.7 1509.6L2583.1 1509.6L2592.5 1509.6L2601.9 1509.6L2611.3 1509.6L2620.7 1509.6L2630.1 1509.6L2639.5 1509.6L2648.9 1509.6L2658.3 1505.9L2667.7 1500.1L2677.1 1500.1L2686.5 1500.1L2695.9 1500.1L2705.3 1500.1L2714.7 1500.1L2724.1 1500.1L2733.5 1500.1L2742.9 1489.5L2752.3 1489.5L2761.7 1489.5L2771.1 1489.5L2780.5 1435.9L2789.9 1435.9L2799.3 1435.9L2808.7 1435.9L2818.1 1435.9L2827.5 1435.9L2836.9 1435.9L2846.3 1397.8L2855.7 1397.8L2865.1 1397.8L2874.5 1373.0L2883.9 1373.0L2893.3 1373.0L2902.7 1373.0L2912.1 1373.0L2921.5 1373.0L2930.9 1373.0L2940.3 1373.0L2949.7 1373.0L2959.1 1373.0L2968.5 1373.0L2977.9 1373.0L2987.3 1373.0L2996.7 1373.0L3006.1 1373.0L3015.5 1366.6L3024.9 1366.6L3034.3 1366.6L3043.7 1366.6L3053.1 1366.6L3062.5 1341.3L3071.9 1338.2L3081.3 1337.9L3090.7 1337.9L3100.1 1337.9L3109.5 1319.1L3118.9 1319.1L3128.3 1319.1L3137.7 1298.6L3147.1 1290.7L3156.5 1269.1L3165.9 1267.0L3175.3 1267.0L3184.7 1267.0L3194.1 1267.0L3203.5 1266.3L3212.9 1266.1L3222.3 1234.5L3231.6 1231.3L3241.0 1231.3L3250.4 1231.3L3259.8 1231.3L3269.2 1231.3L3278.6 1231.3L3288.0 1231.3L3297.4 1231.3L3306.8 1223.6L3316.2 1213.9L3325.6 1205.8L3335.0 1196.8L3344.4 1196.8L3353.8 1196.8L3363.2 1196.8L3372.6 1196.8L3382.0 1196.8L3391.4 1196.8L3400.8 1196.8L3410.2 1182.6L3419.6 1182.6L3429.0 1142.7L3438.4 1132.8L3447.8 1123.1L3457.2 1123.1L3466.6 1123.1L3476.0 1123.1L3485.4 1123.1L3494.8 1123.1L3504.2 1123.1L3513.6 1098.8L3523.0 1098.8L3532.4 1098.8L3541.8 1098.8L3551.2 1098.8L3560.6 1098.8L3570.0 1086.8L3579.4 1077.8L3588.8 1044.1L3598.2 1044.1L3607.6 1044.1L3617.0 1042.0L3626.4 1042.0L3635.8 1042.0L3645.2 1042.0"/>
<path stroke="#2687bb" d="M224.0 2115.2L233.4 2115.2L242.8 2115.2L252.2 2109.8L261.6 2106.7L271.0 2106.7L280.4 2093.8L289.8 2093.8L299.2 2093.8L308.6 2093.8L318.0 2091.2L327.4 2089.1L336.8 2085.2L346.2 2083.6L355.6 2081.1L365.0 2081.1L374.4 2081.1L383.8 2081.1L393.2 2081.1L402.6 2076.7L412.0 2076.7L421.4 2076.7L430.8 2047.2L440.2 2043.6L449.6 2033.4L459.0 2033.4L468.4 2012.5L477.8 2012.5L487.2 1982.6L496.6 1981.1L506.0 1976.6L515.4 1965.5L524.8 1961.5L534.2 1954.1L543.6 1954.1L553.0 1954.1L562.4 1954.1L571.8 1944.4L581.2 1938.0L590.6 1938.0L600.0 1938.0L609.4 1938.0L618.7 1937.3L628.1 1930.7L637.5 1917.7L646.9 1917.7L656.3 1907.9L665.7 1877.4L675.1 1875.0L684.5 1866.1L693.9 1866.1L703.3 1866.1L712.7 1866.1L722.1 1860.0L731.5 1841.6L740.9 1838.5L750.3 1825.9L759.7 1825.6L769.1 1825.6L778.5 1825.6L787.9 1822.1L797.3 1820.8L806.7 1820.8L816.1 1816.3L825.5 1816.3L834.9 1816.3L844.3 1816.3L853.7 1799.8L863.1 1799.8L872.5 1799.8L881.9 1799.8L891.3 1799.8L900.7 1796.2L910.1 1796.2L919.5 1796.2L928.9 1796.2L938.3 1796.2L947.7 1792.3L957.1 1792.3L966.5 1792.3L975.9 1789.1L985.3 1789.1L994.7 1783.8L1004.1 1783.8L1013.5 1783.8L1022.9 1780.6L1032.3 1768.6L1041.7 1768.6L1051.1 1768.6L1060.5 1762.1L1069.9 1762.1L1079.3 1762.1L1088.7 1762.1L1098.1 1757.1L1107.5 1757.1L1116.9 1756.6L1126.3 1756.6L1135.7 1746.6L1145.1 1723.3L1154.5 1723.3L1163.9 1720.3L1173.3 1720.3L1182.7 1720.3L1192.1 1718.4L1201.5 1716.9L1210.9 1711.3L1220.3 1707.5L1229.7 1704.7L1239.1 1704.7L1248.5 1704.7L1257.9 1704.7L1267.3 1704.3L1276.7 1703.6L1286.1 1697.9L1295.5 1696.2L1304.9 1696.2L1314.3 1696.2L1323.7 1696.2L1333.1 1696.2L1342.5 1693.6L1351.9 1693.0L1361.3 1692.3L1370.7 1692.3L1380.1 1692.2L1389.5 1665.9L1398.9 1665.0L1408.3 1665.0L1417.7 1663.2L1427.1 1655.6L1436.5 1640.6L1445.9 1640.6L1455.3 1619.6L1464.7 1619.6L1474.1 1619.6L1483.5 1619.6L1492.8 1619.6L1502.2 1619.6L1511.6 1619.6L1521.0 1619.6L1530.4 1609.7L1539.8 1606.2L1549.2 1594.3L1558.6 1594.3L1568.0 1594.3L1577.4 1594.3L1586.8 1594.3L1596.2 1588.4L1605.6 1588.4L1615.0 1588.4L1624.4 1567.5L1633.8 1552.8L1643.2 1552.8L1652.6 1548.9L1662.0 1548.9L1671.4 1548.9L1680.8 1547.6L1690.2 1543.1L1699.6 1537.8L1709.0 1529.2L1718.4 1524.0L1727.8 1521.8L1737.2 1521.8L1746.6 1521.8L1756.0 1520.2L1765.4 1520.2L1774.8 1520.2L1784.2 1520.2L1793.6 1520.2L1803.0 1520.2L1812.4 1512.2L1821.8 1496.5L1831.2 1495.0L1840.6 1495.0L1850.0 1495.0L1859.4 1495.0L1868.8 1495.0L1878.2 1487.0L1887.6 1486.8L1897.0 1484.8L1906.4 1484.8L1915.8 1484.8L1925.2 1484.8L1934.6 1484.1L1944.0 1484.1L1953.4 1484.1L1962.8 1484.1L1972.2 1484.1L1981.6 1484.1L1991.0 1484.1L2000.4 1484.1L2009.8 1484.1L2019.2 1484.1L2028.6 1484.1L2038.0 1484.1L2047.4 1483.2L2056.8 1474.6L2066.2 1470.4L2075.6 1470.3L2085.0 1469.3L2094.4 1469.2L2103.8 1469.2L2113.2 1469.2L2122.6 1469.2L2132.0 1469.2L2141.4 1469.2L2150.8 1469.2L2160.2 1469.2L2169.6 1469.2L2179.0 1469.2L2188.4 1469.2L2197.8 1469.2L2207.2 1469.2L2216.6 1469.2L2226.0 1469.2L2235.4 1460.2L2244.8 1460.2L2254.2 1460.2L2263.6 1460.2L2273.0 1460.2L2282.4 1460.2L2291.8 1460.2L2301.2 1460.2L2310.6 1460.2L2320.0 1460.2L2329.4 1460.2L2338.8 1460.2L2348.2 1458.0L2357.5 1455.6L2366.9 1434.3L2376.3 1434.3L2385.7 1428.3L2395.1 1426.5L2404.5 1426.5L2413.9 1425.2L2423.3 1425.0L2432.7 1425.0L2442.1 1425.0L2451.5 1425.0L2460.9 1425.0L2470.3 1425.0L2479.7 1425.0L2489.1 1425.0L2498.5 1425.0L2507.9 1425.0L2517.3 1425.0L2526.7 1425.0L2536.1 1424.8L2545.5 1417.6L2554.9 1417.6L2564.3 1409.6L2573.7 1409.6L2583.1 1409.6L2592.5 1406.7L2601.9 1406.7L2611.3 1406.7L2620.7 1406.7L2630.1 1406.7L2639.5 1406.7L2648.9 1406.7L2658.3 1406.7L2667.7 1394.5L2677.1 1392.4L2686.5 1389.2L2695.9 1387.3L2705.3 1387.3L2714.7 1387.3L2724.1 1382.9L2733.5 1382.9L2742.9 1382.9L2752.3 1381.9L2761.7 1372.3L2771.1 1372.3L2780.5 1372.3L2789.9 1372.3L2799.3 1372.3L2808.7 1372.3L2818.1 1372.3L2827.5 1367.8L2836.9 1367.8L2846.3 1367.8L2855.7 1367.8L2865.1 1367.8L2874.5 1367.8L2883.9 1367.8L2893.3 1366.0L2902.7 1363.2L2912.1 1362.0L2921.5 1362.0L2930.9 1362.0L2940.3 1362.0L2949.7 1362.0L2959.1 1362.0L2968.5 1362.0L2977.9 1362.0L2987.3 1362.0L2996.7 1357.3L3006.1 1354.0L3015.5 1326.4L3024.9 1325.3L3034.3 1315.9L3043.7 1310.9L3053.1 1310.9L3062.5 1310.9L3071.9 1306.5L3081.3 1306.5L3090.7 1306.5L3100.1 1306.5L3109.5 1306.5L3118.9 1306.5L3128.3 1297.3L3137.7 1297.3L3147.1 1297.3L3156.5 1288.2L3165.9 1288.2L3175.3 1288.2L3184.7 1288.2L3194.1 1288.2L3203.5 1288.2L3212.9 1288.2L3222.3 1279.0L3231.6 1279.0L3241.0 1279.0L3250.4 1279.0L3259.8 1279.0L3269.2 1279.0L3278.6 1279.0L3288.0 1279.0L3297.4 1270.1L3306.8 1261.2L3316.2 1261.2L3325.6 1261.2L3335.0 1261.2L3344.4 1252.0L3353.8 1252.0L3363.2 1198.4L3372.6 1198.4L3382.0 1198.4L3391.4 1198.4L3400.8 1187.2L3410.2 1187.2L3419.6 1187.2L3429.0 1187.2L3438.4 1187.2L3447.8 1187.2L3457.2 1187.2L3466.6 1187.2L3476.0 1187.2L3485.4 1187.2L3494.8 1174.2L3504.2 1173.2L3513.6 1173.2L3523.0 1173.2L3532.4 1173.2L3541.8 1157.7L3551.2 1123.1L3560.6 1116.3L3570.0 1084.4L3579.4 1083.1L3588.8 1083.1L3598.2 1065.5L3607.6 1058.3L3617.0 1037.0L3626.4 1037.0L3635.8 1037.0L3645.2 1037.0"/>
<path stroke="#2384ba" d="M224.0 2105.1L233.4 2097.8L242.8 2094.5L252.2 2091.8L261.6 2086.4L271.0 2078.5L280.4 2068.3L289.8 2068.2L299.2 2068.2L308.6 2068.2L318.0 2068.2L327.4 2068.2L336.8 2068.2L346.2 2068.2L355.6 2068.2L365.0 2068.2L374.4 2047.1L383.8 2046.1L393.2 2041.3L402.6 2038.0L412.0 2032.4L421.4 2032.0L430.8 2032.0L440.2 2032.0L449.6 2027.2L459.0 2027.1L468.4 2026.5L477.8 2023.7L487.2 2023.7L496.6 2018.9L506.0 2010.3L515.4 2008.0L524.8 2002.7L534.2 2002.7L543.6 2002.7L553.0 2002.7L562.4 2002.7L571.8 2002.7L581.2 2002.7L590.6 2002.7L600.0 1987.9L609.4 1985.3L618.7 1981.3L628.1 1973.6L637.5 1971.8L646.9 1971.8L656.3 1971.8L665.7 1962.7L675.1 1962.1L684.5 1932.7L693.9 1923.6L703.3 1923.6L712.7 1923.6L722.1 1923.6L731.5 1895.4L740.9 1895.4L750.3 1890.2L759.7 1882.7L769.1 1882.7L778.5 1882.7L787.9 1882.7L797.3 1882.7L806.7 1882.7L816.1 1882.7L825.5 1876.9L834.9 1876.9L844.3 1876.9L853.7 1876.9L863.1 1876.9L872.5 1876.9L881.9 1876.9L891.3 1876.9L900.7 1876.9L910.1 1866.8L919.5 1859.5L928.9 1854.0L938.3 1854.0L947.7 1854.0L957.1 1854.0L966.5 1854.0L975.9 1854.0L985.3 1854.0L994.7 1854.0L1004.1 1854.0L1013.5 1854.0L1022.9 1854.0L1032.3 1854.0L1041.7 1854.0L1051.1 1854.0L1060.5 1854.0L1069.9 1854.0L1079.3 1804.0L1088.7 1804.0L1098.1 1803.8L1107.5 1803.8L1116.9 1803.8L1126.3 1803.8L1135.7 1803.8L1145.1 1779.5L1154.5 1779.5L1163.9 1779.5L1173.3 1779.5L1182.7 1779.5L1192.1 1779.5L1201.5 1779.5L1210.9 1779.5L1220.3 1779.5L1229.7 1779.5L1239.1 1779.5L1248.5 1768.0L1257.9 1765.1L1267.3 1757.5L1276.7 1757.5L1286.1 1757.5L1295.5 1757.5L1304.9 1757.0L1314.3 1755.0L1323.7 1708.7L1333.1 1705.3L1342.5 1705.3L1351.9 1705.3L1361.3 1705.3L1370.7 1700.9L1380.1 1678.6L1389.5 1673.0L1398.9 1665.1L1408.3 1665.1L1417.7 1649.3L1427.1 1641.1L1436.5 1638.9L1445.9 1638.9L1455.3 1638.9L1464.7 1638.9L1474.1 1638.9L1483.5 1638.9L1492.8 1638.9L1502.2 1638.9L1511.6 1638.9L1521.0 1638.9L1530.4 1638.9L1539.8 1638.9L1549.2 1638.9L1558.6 1638.9L1568.0 1638.9L1577.4 1638.9L1586.8 1638.9L1596.2 1637.7L1605.6 1637.7L1615.0 1628.5L1624.4 1628.5L1633.8 1625.8L1643.2 1601.8L1652.6 1599.9L1662.0 1596.7L1671.4 1596.6L1680.8 1591.4L1690.2 1590.1L1699.6 1578.6L1709.0 1575.9L1718.4 1569.8L1727.8 1569.8L1737.2 1569.8L1746.6 1569.8L1756.0 1569.8L1765.4 1569.8L1774.8 1569.8L1784.2 1569.8L1793.6 1569.8L1803.0 1569.8L1812.4 1569.8L1821.8 1569.8L1831.2 1569.8L1840.6 1569.8L1850.0 1569.8L1859.4 1565.0L1868.8 1561.5L1878.2 1554.0L1887.6 1544.9L1897.0 1538.1L1906.4 1534.2L1915.8 1534.2L1925.2 1534.2L1934.6 1534.2L1944.0 1534.2L1953.4 1529.1L1962.8 1502.2L1972.2 1501.9L1981.6 1501.9L1991.0 1500.5L2000.4 1498.7L2009.8 1498.7L2019.2 1498.7L2028.6 1483.6L2038.0 1478.8L2047.4 1470.7L2056.8 1470.7L2066.2 1470.7L2075.6 1470.7L2085.0 1470.7L2094.4 1470.7L2103.8 1470.7L2113.2 1470.7L2122.6 1470.7L2132.0 1470.6L2141.4 1470.6L2150.8 1457.4L2160.2 1457.4L2169.6 1457.4L2179.0 1454.3L2188.4 1452.2L2197.8 1447.1L2207.2 1447.1L2216.6 1447.1L2226.0 1447.1L2235.4 1447.1L2244.8 1447.1L2254.2 1447.1L2263.6 1447.1L2273.0 1444.9L2282.4 1444.5L2291.8 1437.9L2301.2 1437.9L2310.6 1437.9L2320.0 1437.9L2329.4 1437.9L2338.8 1437.9L2348.2 1437.9L2357.5 1437.9L2366.9 1437.9L2376.3 1437.9L2385.7 1437.9L2395.1 1437.9L2404.5 1437.9L2413.9 1430.5L2423.3 1429.0L2432.7 1429.0L2442.1 1429.0L2451.5 1429.0L2460.9 1429.0L2470.3 1429.0L2479.7 1429.0L2489.1 1419.8L2498.5 1411.0L2507.9 1410.0L2517.3 1410.0L2526.7 1410.0L2536.1 1410.0L2545.5 1410.0L2554.9 1410.0L2564.3 1410.0L2573.7 1410.0L2583.1 1410.0L2592.5 1409.9L2601.9 1401.3L2611.3 1401.3L2620.7 1401.3L2630.1 1401.3L2639.5 1401.3L2648.9 1401.3L2658.3 1401.3L2667.7 1401.3L2677.1 1398.9L2686.5 1398.9L2695.9 1398.9L2705.3 1398.3L2714.7 1398.3L2724.1 1398.3L2733.5 1398.3L2742.9 1398.3L2752.3 1398.3L2761.7 1396.5L2771.1 1394.3L2780.5 1394.3L2789.9 1392.8L2799.3 1392.8L2808.7 1392.8L2818.1 1392.8L2827.5 1383.4L2836.9 1375.1L2846.3 1365.6L2855.7 1362.3L2865.1 1357.9L2874.5 1347.4L2883.9 1347.4L2893.3 1347.4L2902.7 1347.4L2912.1 1347.4L2921.5 1347.4L2930.9 1347.4L2940.3 1347.4L2949.7 1333.3L2959.1 1326.7L2968.5 1326.7L2977.9 1317.3L2987.3 1316.7L2996.7 1316.7L3006.1 1310.4L3015.5 1310.3L3024.9 1310.3L3034.3 1310.3L3043.7 1310.3L3053.1 1310.3L3062.5 1295.1L3071.9 1291.1L3081.3 1286.2L3090.7 1286.2L3100.1 1281.8L3109.5 1276.8L3118.9 1276.8L3128.3 1276.8L3137.7 1263.3L3147.1 1238.6L3156.5 1235.1L3165.9 1233.6L3175.3 1233.6L3184.7 1231.5L3194.1 1231.5L3203.5 1231.5L3212.9 1230.6L3222.3 1230.6L3231.6 1227.1L3241.0 1221.4L3250.4 1221.4L3259.8 1202.8L3269.2 1190.7L3278.6 1189.9L3288.0 1189.8L3297.4 1189.8L3306.8 1189.8L3316.2 1189.8L3325.6 1189.8L3335.0 1188.8L3344.4 1184.3L3353.8 1174.8L3363.2 1155.1L3372.6 1150.9L3382.0 1150.9L3391.4 1150.9L3400.8 1150.7L3410.2 1144.7L3419.6 1142.6L3429.0 1142.6L3438.4 1142.6L3447.8 1139.1L3457.2 1139.1L3466.6 1138.4L3476.0 1115.9L3485.4 1115.9L3494.8 1115.9L3504.2 1115.9L3513.6 1115.9L3523.0 1115.9L3532.4 1115.9L3541.8 1108.9L3551.2 1095.1L3560.6 1082.9L3570.0 1082.9L3579.4 1082.1L3588.8 1057.5L3598.2 1052.4L3607.6 1052.4L3617.0 1052.4L3626.4 1047.6L3635.8 1033.4L3645.2 1033.1L3654.6 1033.0"/>
<path stroke="#2080b8" d="M224.0 2092.4L233.4 2092.4L242.8 2092.4L252.2 2092.4L261.6 2092.4L271.0 2092.3L280.4 2069.0L289.8 2068.8L299.2 2064.8L308.6 2052.4L318.0 2048.1L327.4 2048.1L336.8 2048.1L346.2 2047.9L355.6 2045.6L365.0 2036.0L374.4 2036.0L383.8 2036.0L393.2 2036.0L402.6 2036.0L412.0 2036.0L421.4 2036.0L430.8 2036.0L440.2 2036.0L449.6 2036.0L459.0 2036.0L468.4 2036.0L477.8 2028.7L487.2 2028.7L496.6 2028.7L506.0 2026.7L515.4 2026.0L524.8 2025.0L534.2 2025.0L543.6 2016.4L553.0 1981.4L562.4 1979.8L571.8 1976.9L581.2 1976.9L590.6 1976.9L600.0 1975.9L609.4 1961.7L618.7 1957.1L628.1 1954.9L637.5 1949.9L646.9 1945.6L656.3 1943.2L665.7 1922.4L675.1 1904.8L684.5 1899.8L693.9 1899.1L703.3 1899.1L712.7 1899.1L722.1 1899.1L731.5 1899.1L740.9 1899.1L750.3 1899.1L759.7 1899.1L769.1 1888.8L778.5 1886.0L787.9 1886.0L797.3 1886.0L806.7 1886.0L816.1 1885.9L825.5 1885.9L834.9 1885.9L844.3 1885.9L853.7 1873.1L863.1 1872.3L872.5 1862.8L881.9 1862.8L891.3 1862.8L900.7 1862.8L910.1 1862.8L919.5 1862.8L928.9 1862.8L938.3 1862.8L947.7 1862.8L957.1 1862.8L966.5 1862.8L975.9 1862.8L985.3 1862.8L994.7 1862.2L1004.1 1859.1L1013.5 1859.1L1022.9 1857.6L1032.3 1857.6L1041.7 1857.6L1051.1 1856.9L1060.5 1822.9L1069.9 1821.2L1079.3 1816.8L1088.7 1815.4L1098.1 1814.2L1107.5 1814.2L1116.9 1779.6L1126.3 1778.1L1135.7 1778.1L1145.1 1778.1L1154.5 1774.8L1163.9 1774.4L1173.3 1769.9L1182.7 1769.9L1192.1 1769.9L1201.5 1769.9L1210.9 1769.9L1220.3 1769.9L1229.7 1769.9L1239.1 1769.9L1248.5 1769.9L1257.9 1769.9L1267.3 1769.9L1276.7 1769.9L1286.1 1769.9L1295.5 1758.7L1304.9 1739.3L1314.3 1730.7L1323.7 1730.7L1333.1 1729.3L1342.5 1726.9L1351.9 1726.9L1361.3 1726.9L1370.7 1726.9L1380.1 1726.9L1389.5 1726.9L1398.9 1726.9L1408.3 1726.5L1417.7 1726.5L1427.1 1726.5L1436.5 1726.5L1445.9 1726.5L1455.3 1726.5L1464.7 1721.1L1474.1 1693.3L1483.5 1662.7L1492.8 1651.4L1502.2 1642.9L1511.6 1641.4L1521.0 1641.3L1530.4 1641.3L1539.8 1641.3L1549.2 1639.5L1558.6 1632.8L1568.0 1629.3L1577.4 1629.3L1586.8 1629.3L1596.2 1629.3L1605.6 1629.3L1615.0 1629.3L1624.4 1629.3L1633.8 1629.3L1643.2 1629.3L1652.6 1628.0L1662.0 1628.0L1671.4 1628.0L1680.8 1601.8L1690.2 1576.6L1699.6 1575.8L1709.0 1566.6L1718.4 1563.4L1727.8 1563.4L1737.2 1563.4L1746.6 1559.2L1756.0 1559.2L1765.4 1559.2L1774.8 1559.2L1784.2 1559.2L1793.6 1559.2L1803.0 1559.2L1812.4 1556.7L1821.8 1556.7L1831.2 1556.7L1840.6 1555.6L1850.0 1544.2L1859.4 1543.5L1868.8 1543.5L1878.2 1543.5L1887.6 1543.5L1897.0 1543.5L1906.4 1538.6L1915.8 1537.2L1925.2 1537.2L1934.6 1537.2L1944.0 1537.2L1953.4 1537.2L1962.8 1537.2L1972.2 1537.2L1981.6 1537.2L1991.0 1537.2L2000.4 1537.2L2009.8 1537.2L2019.2 1537.2L2028.6 1537.2L2038.0 1537.2L2047.4 1536.4L2056.8 1536.4L2066.2 1536.4L2075.6 1536.4L2085.0 1535.3L2094.4 1529.7L2103.8 1529.7L2113.2 1526.8L2122.6 1525.4L2132.0 1525.1L2141.4 1525.1L2150.8 1525.1L2160.2 1525.1L2169.6 1525.1L2179.0 1512.4L2188.4 1512.0L2197.8 1512.0L2207.2 1511.9L2216.6 1511.9L2226.0 1511.9L2235.4 1511.9L2244.8 1511.9L2254.2 1511.9L2263.6 1511.9L2273.0 1511.9L2282.4 1511.9L2291.8 1511.9L2301.2 1511.9L2310.6 1511.9L2320.0 1511.9L2329.4 1511.9L2338.8 1511.9L2348.2 1510.5L2357.5 1510.5L2366.9 1504.5L2376.3 1503.8L2385.7 1497.7L2395.1 1490.9L2404.5 1490.9L2413.9 1484.8L2423.3 1484.8L2432.7 1466.9L2442.1 1466.9L2451.5 1465.9L2460.9 1465.9L2470.3 1463.4L2479.7 1461.7L2489.1 1460.0L2498.5 1460.0L2507.9 1460.0L2517.3 1460.0L2526.7 1457.1L2536.1 1446.2L2545.5 1439.4L2554.9 1437.8L2564.3 1429.3L2573.7 1418.7L2583.1 1418.7L2592.5 1408.4L2601.9 1408.4L2611.3 1406.8L2620.7 1390.2L2630.1 1390.1L2639.5 1386.5L2648.9 1386.5L2658.3 1386.1L2667.7 1384.5L2677.1 1381.4L2686.5 1380.0L2695.9 1379.1L2705.3 1371.7L2714.7 1371.7L2724.1 1371.7L2733.5 1369.7L2742.9 1369.5L2752.3 1369.5L2761.7 1369.4L2771.1 1369.4L2780.5 1369.4L2789.9 1369.4L2799.3 1369.4L2808.7 1364.0L2818.1 1361.5L2827.5 1354.0L2836.9 1354.0L2846.3 1354.0L2855.7 1354.0L2865.1 1354.0L2874.5 1352.6L2883.9 1343.8L2893.3 1343.8L2902.7 1343.8L2912.1 1343.8L2921.5 1343.8L2930.9 1343.8L2940.3 1342.5L2949.7 1342.5L2959.1 1342.5L2968.5 1342.5L2977.9 1342.5L2987.3 1342.5L2996.7 1342.5L3006.1 1342.5L3015.5 1342.5L3024.9 1342.5L3034.3 1342.5L3043.7 1339.9L3053.1 1327.3L3062.5 1327.3L3071.9 1327.3L3081.3 1327.3L3090.7 1327.3L3100.1 1324.6L3109.5 1324.6L3118.9 1324.6L3128.3 1324.6L3137.7 1324.6L3147.1 1324.6L3156.5 1324.6L3165.9 1324.6L3175.3 1324.6L3184.7 1324.6L3194.1 1321.6L3203.5 1309.4L3212.9 1300.0L3222.3 1261.2L3231.6 1261.2L3241.0 1261.2L3250.4 1261.2L3259.8 1261.2L3269.2 1261.2L3278.6 1248.0L3288.0 1248.0L3297.4 1248.0L3306.8 1245.1L3316.2 1245.1L3325.6 1227.7L3335.0 1222.2L3344.4 1219.7L3353.8 1171.8L3363.2 1166.2L3372.6 1142.4L3382.0 1109.5L3391.4 1078.7L3400.8 1072.4L3410.2 1072.3L3419.6 1071.4L3429.0 1071.4L3438.4 1071.4L3447.8 1071.4L3457.2 1071.4L3466.6 1063.9L3476.0 1063.7L3485.4 1054.7L3494.8 1048.3L3504.2 1045.4L3513.6 1045.4L3523.0 1045.4L3532.4 1045.4L3541.8 1045.4L3551.2 1045.4L3560.6 1045.4L3570.0 1045.4L3579.4 1045.4L3588.8 1044.8L3598.2 1044.8L3607.6 1030.0L3617.0 1030.0L3626.4 1030.0L3635.8 1030.0L3645.2 1030.0"/>
<path stroke="#1c7db6" d="M224.0 2116.4L233.4 2116.4L242.8 2112.1L252.2 2112.1L261.6 2112.1L271.0 2103.0L280.4 2103.0L289.8 2103.0L299.2 2103.0L308.6 2103.0L318.0 2103.0L327.4 2091.7L336.8 2086.5L346.2 2080.0L355.6 2079.0L365.0 2071.0L374.4 2065.9L383.8 2065.2L393.2 2064.3L402.6 2056.4L412.0 2054.5L421.4 2039.4L430.8 2035.5L440.2 2035.5L449.6 2035.5L459.0 2020.2L468.4 2017.5L477.8 2004.6L487.2 2004.6L496.6 2004.6L506.0 1992.2L515.4 1990.0L524.8 1990.0L534.2 1989.8L543.6 1983.5L553.0 1983.5L562.4 1978.9L571.8 1978.7L581.2 1978.7L590.6 1967.1L600.0 1967.1L609.4 1964.0L618.7 1963.6L628.1 1963.6L637.5 1942.4L646.9 1938.3L656.3 1938.3L665.7 1935.7L675.1 1926.5L684.5 1917.3L693.9 1917.0L703.3 1916.9L712.7 1916.7L722.1 1916.7L731.5 1916.7L740.9 1916.7L750.3 1916.7L759.7 1916.7L769.1 1903.8L778.5 1870.0L787.9 1870.0L797.3 1870.0L806.7 1870.0L816.1 1866.5L825.5 1865.7L834.9 1865.5L844.3 1859.1L853.7 1856.9L863.1 1850.3L872.5 1814.4L881.9 1801.9L891.3 1801.9L900.7 1797.9L910.1 1779.3L919.5 1758.1L928.9 1755.4L938.3 1743.3L947.7 1741.4L957.1 1741.4L966.5 1741.4L975.9 1741.4L985.3 1741.4L994.7 1741.4L1004.1 1741.4L1013.5 1741.4L1022.9 1737.2L1032.3 1728.6L1041.7 1728.6L1051.1 1715.7L1060.5 1703.6L1069.9 1694.5L1079.3 1694.5L1088.7 1694.5L1098.1 1694.5L1107.5 1694.5L1116.9 1694.5L1126.3 1694.5L1135.7 1694.5L1145.1 1694.5L1154.5 1694.5L1163.9 1694.5L1173.3 1694.5L1182.7 1694.5L1192.1 1694.5L1201.5 1694.5L1210.9 1694.5L1220.3 1694.5L1229.7 1687.9L1239.1 1685.1L1248.5 1685.0L1257.9 1671.8L1267.3 1659.1L1276.7 1657.1L1286.1 1656.9L1295.5 1634.0L1304.9 1634.0L1314.3 1634.0L1323.7 1634.0L1333.1 1634.0L1342.5 1634.0L1351.9 1634.0L1361.3 1634.0L1370.7 1634.0L1380.1 1634.0L1389.5 1634.0L1398.9 1634.0L1408.3 1634.0L1417.7 1634.0L1427.1 1633.1L1436.5 1613.9L1445.9 1612.1L1455.3 1611.0L1464.7 1606.8L1474.1 1604.2L1483.5 1602.3L1492.8 1592.3L1502.2 1575.0L1511.6 1575.0L1521.0 1575.0L1530.4 1575.0L1539.8 1575.0L1549.2 1575.0L1558.6 1575.0L1568.0 1575.0L1577.4 1575.0L1586.8 1575.0L1596.2 1575.0L1605.6 1575.0L1615.0 1575.0L1624.4 1575.0L1633.8 1575.0L1643.2 1575.0L1652.6 1575.0L1662.0 1575.0L1671.4 1575.0L1680.8 1575.0L1690.2 1575.0L1699.6 1575.0L1709.0 1575.0L1718.4 1575.0L1727.8 1575.0L1737.2 1575.0L1746.6 1575.0L1756.0 1575.0L1765.4 1575.0L1774.8 1533.9L1784.2 1533.9L1793.6 1533.9L1803.0 1533.9L1812.4 1529.0L1821.8 1529.0L1831.2 1529.0L1840.6 1529.0L1850.0 1529.0L1859.4 1529.0L1868.8 1529.0L1878.2 1529.0L1887.6 1529.0L1897.0 1529.0L1906.4 1529.0L1915.8 1529.0L1925.2 1529.0L1934.6 1529.0L1944.0 1529.0L1953.4 1529.0L1962.8 1529.0L1972.2 1518.3L1981.6 1509.8L1991.0 1509.8L2000.4 1509.8L2009.8 1509.8L2019.2 1509.8L2028.6 1509.8L2038.0 1509.8L2047.4 1509.8L2056.8 1509.8L2066.2 1509.8L2075.6 1509.8L2085.0 1509.8L2094.4 1509.8L2103.8 1509.8L2113.2 1509.8L2122.6 1509.8L2132.0 1509.8L2141.4 1509.8L2150.8 1509.8L2160.2 1497.2L2169.6 1488.7L2179.0 1475.8L2188.4 1475.8L2197.8 1475.8L2207.2 1475.8L2216.6 1475.8L2226.0 1475.8L2235.4 1475.8L2244.8 1475.8L2254.2 1471.0L2263.6 1469.8L2273.0 1469.8L2282.4 1469.8L2291.8 1469.8L2301.2 1469.8L2310.6 1469.8L2320.0 1469.8L2329.4 1463.8L2338.8 1463.8L2348.2 1463.8L2357.5 1463.8L2366.9 1463.8L2376.3 1463.8L2385.7 1463.8L2395.1 1463.8L2404.5 1463.8L2413.9 1460.5L2423.3 1452.9L2432.7 1449.3L2442.1 1449.3L2451.5 1447.2L2460.9 1447.2L2470.3 1447.2L2479.7 1447.2L2489.1 1439.2L2498.5 1439.2L2507.9 1439.2L2517.3 1436.8L2526.7 1436.8L2536.1 1436.8L2545.5 1436.8L2554.9 1436.8L2564.3 1436.8L2573.7 1436.2L2583.1 1424.6L2592.5 1422.0L2601.9 1422.0L2611.3 1422.0L2620.7 1422.0L2630.1 1422.0L2639.5 1422.0L2648.9 1416.9L2658.3 1416.2L2667.7 1414.8L2677.1 1409.7L2686.5 1405.4L2695.9 1405.4L2705.3 1405.4L2714.7 1405.4L2724.1 1405.4L2733.5 1405.4L2742.9 1405.4L2752.3 1405.4L2761.7 1401.2L2771.1 1400.7L2780.5 1400.7L2789.9 1396.9L2799.3 1388.6L2808.7 1386.7L2818.1 1383.3L2827.5 1374.3L2836.9 1373.1L2846.3 1373.1L2855.7 1373.1L2865.1 1359.3L2874.5 1356.9L2883.9 1355.7L2893.3 1347.6L2902.7 1347.6L2912.1 1347.6L2921.5 1347.6L2930.9 1345.8L2940.3 1345.8L2949.7 1345.8L2959.1 1345.8L2968.5 1345.8L2977.9 1345.8L2987.3 1345.8L2996.7 1345.8L3006.1 1337.7L3015.5 1334.6L3024.9 1326.0L3034.3 1314.3L3043.7 1314.3L3053.1 1314.3L3062.5 1314.3L3071.9 1297.0L3081.3 1296.6L3090.7 1294.8L3100.1 1291.3L3109.5 1290.1L3118.9 1290.1L3128.3 1290.1L3137.7 1290.1L3147.1 1290.0L3156.5 1289.2L3165.9 1289.2L3175.3 1243.0L3184.7 1243.0L3194.1 1243.0L3203.5 1243.0L3212.9 1224.2L3222.3 1224.2L3231.6 1224.2L3241.0 1199.3L3250.4 1184.7L3259.8 1184.7L3269.2 1184.7L3278.6 1184.7L3288.0 1184.7L3297.4 1184.7L3306.8 1176.9L3316.2 1176.9L3325.6 1176.9L3335.0 1172.7L3344.4 1172.7L3353.8 1172.7L3363.2 1172.2L3372.6 1172.2L3382.0 1134.1L3391.4 1134.1L3400.8 1122.2L3410.2 1122.2L3419.6 1122.2L3429.0 1122.2L3438.4 1113.7L3447.8 1107.4L3457.2 1107.4L3466.6 1101.3L3476.0 1100.6L3485.4 1100.6L3494.8 1091.7L3504.2 1089.4L3513.6 1089.4L3523.0 1074.1L3532.4 1047.4L3541.8 1031.2L3551.2 1031.2L3560.6 1031.2L3570.0 1031.2L3579.4 1031.2L3588.8 1031.2L3598.2 1031.2L3607.6 1030.1L3617.0 1030.1L3626.4 1030.1L3635.8 1027.0L3645.2 1027.0"/>
<path stroke="#197ab5" d="M224.0 2115.7L233.4 2115.7L242.8 2115.7L252.2 2114.9L261.6 2100.7L271.0 2099.0L280.4 2098.0L289.8 2086.5L299.2 2077.6L308.6 2068.6L318.0 2068.6L327.4 2065.9L336.8 2062.2L346.2 2032.8L355.6 2032.8L365.0 2032.8L374.4 2032.8L383.8 2032.8L393.2 2032.8L402.6 2025.2L412.0 2025.2L421.4 2009.6L430.8 2009.6L440.2 2009.6L449.6 2005.2L459.0 1996.8L468.4 1996.6L477.8 1985.0L487.2 1985.0L496.6 1985.0L506.0 1985.0L515.4 1985.0L524.8 1984.1L534.2 1984.1L543.6 1984.1L553.0 1980.2L562.4 1977.8L571.8 1977.6L581.2 1977.6L590.6 1969.4L600.0 1969.4L609.4 1969.4L618.7 1969.4L628.1 1969.4L637.5 1969.4L646.9 1965.4L656.3 1964.2L665.7 1938.3L675.1 1938.3L684.5 1938.3L693.9 1938.3L703.3 1938.3L712.7 1910.2L722.1 1905.6L731.5 1869.1L740.9 1869.1L750.3 1869.1L759.7 1869.1L769.1 1862.1L778.5 1862.1L787.9 1862.0L797.3 1836.4L806.7 1826.4L816.1 1826.4L825.5 1826.4L834.9 1826.4L844.3 1826.4L853.7 1826.4L863.1 1825.1L872.5 1825.1L881.9 1825.1L891.3 1825.1L900.7 1825.1L910.1 1825.1L919.5 1825.1L928.9 1825.1L938.3 1825.1L947.7 1825.1L957.1 1825.1L966.5 1825.0L975.9 1815.6L985.3 1815.6L994.7 1810.6L1004.1 1810.6L1013.5 1810.6L1022.9 1810.6L1032.3 1810.6L1041.7 1810.6L1051.1 1792.2L1060.5 1787.4L1069.9 1755.4L1079.3 1744.9L1088.7 1741.9L1098.1 1734.4L1107.5 1734.4L1116.9 1734.4L1126.3 1734.4L1135.7 1734.4L1145.1 1734.4L1154.5 1734.4L1163.9 1734.4L1173.3 1729.8L1182.7 1729.8L1192.1 1729.8L1201.5 1722.3L1210.9 1722.3L1220.3 1721.4L1229.7 1721.1L1239.1 1710.3L1248.5 1709.4L1257.9 1702.1L1267.3 1694.6L1276.7 1694.3L1286.1 1694.3L1295.5 1694.3L1304.9 1693.0L1314.3 1693.0L1323.7 1693.0L1333.1 1683.8L1342.5 1681.1L1351.9 1659.8L1361.3 1653.8L1370.7 1653.4L1380.1 1653.4L1389.5 1653.4L1398.9 1653.4L1408.3 1653.4L1417.7 1653.4L1427.1 1634.4L1436.5 1634.4L1445.9 1629.4L1455.3 1624.9L1464.7 1612.3L1474.1 1610.8L1483.5 1604.4L1492.8 1603.1L1502.2 1603.1L1511.6 1603.1L1521.0 1603.1L1530.4 1594.1L1539.8 1594.1L1549.2 1594.1L1558.6 1594.1L1568.0 1581.1L1577.4 1581.1L1586.8 1581.1L1596.2 1581.1L1605.6 1565.6L1615.0 1564.1L1624.4 1564.1L1633.8 1550.3L1643.2 1541.7L1652.6 1541.7L1662.0 1541.7L1671.4 1541.7L1680.8 1541.7L1690.2 1541.7L1699.6 1541.7L1709.0 1541.7L1718.4 1541.7L1727.8 1541.7L1737.2 1541.7L1746.6 1541.7L1756.0 1541.7L1765.4 1538.9L1774.8 1509.9L1784.2 1471.2L1793.6 1459.8L1803.0 1459.8L1812.4 1459.8L1821.8 1459.8L1831.2 1459.8L1840.6 1459.8L1850.0 1459.8L1859.4 1459.8L1868.8 1459.8L1878.2 1457.8L1887.6 1454.6L1897.0 1451.7L1906.4 1451.1L1915.8 1451.1L1925.2 1451.1L1934.6 1451.1L1944.0 1451.1L1953.4 1451.1L1962.8 1450.8L1972.2 1450.2L1981.6 1445.2L1991.0 1437.3L2000.4 1424.7L2009.8 1423.9L2019.2 1423.9L2028.6 1420.6L2038.0 1413.8L2047.4 1413.8L2056.8 1413.8L2066.2 1413.8L2075.6 1413.1L2085.0 1409.2L2094.4 1409.2L2103.8 1407.5L2113.2 1404.8L2122.6 1403.7L2132.0 1403.7L2141.4 1403.7L2150.8 1400.7L2160.2 1400.1L2169.6 1400.1L2179.0 1400.1L2188.4 1400.1L2197.8 1390.7L2207.2 1390.7L2216.6 1389.9L2226.0 1389.9L2235.4 1389.9L2244.8 1387.3L2254.2 1387.3L2263.6 1387.3L2273.0 1387.3L2282.4 1387.3L2291.8 1387.3L2301.2 1387.3L2310.6 1387.3L2320.0 1386.5L2329.4 1384.8L2338.8 1384.8L2348.2 1384.8L2357.5 1384.8L2366.9 1384.7L2376.3 1384.7L2385.7 1384.7L2395.1 1384.7L2404.5 1384.7L2413.9 1384.7L2423.3 1383.9L2432.7 1379.2L2442.1 1375.5L2451.5 1364.7L2460.9 1364.7L2470.3 1364.7L2479.7 1364.7L2489.1 1364.7L2498.5 1364.7L2507.9 1356.7L2517.3 1356.7L2526.7 1355.3L2536.1 1354.7L2545.5 1354.2L2554.9 1341.7L2564.3 1341.7L2573.7 1341.7L2583.1 1341.7L2592.5 1341.7L2601.9 1341.7L2611.3 1339.2L2620.7 1339.2L2630.1 1339.2L2639.5 1339.2L2648.9 1339.2L2658.3 1338.8L2667.7 1338.8L2677.1 1338.8L2686.5 1338.8L2695.9 1338.8L2705.3 1338.8L2714.7 1338.8L2724.1 1338.8L2733.5 1338.8L2742.9 1338.8L2752.3 1338.8L2761.7 1338.8L2771.1 1338.8L2780.5 1338.8L2789.9 1338.8L2799.3 1338.8L2808.7 1338.8L2818.1 1338.8L2827.5 1338.8L2836.9 1338.8L2846.3 1337.0L2855.7 1337.0L2865.1 1334.4L2874.5 1298.3L2883.9 1297.0L2893.3 1293.6L2902.7 1292.8L2912.1 1292.8L2921.5 1292.8L2930.9 1288.9L2940.3 1288.9L2949.7 1288.9L2959.1 1288.9L2968.5 1288.9L2977.9 1288.9L2987.3 1288.9L2996.7 1288.9L3006.1 1288.9L3015.5 1288.9L3024.9 1287.7L3034.3 1287.7L3043.7 1276.1L3053.1 1276.1L3062.5 1272.7L3071.9 1243.8L3081.3 1236.2L3090.7 1236.2L3100.1 1232.4L3109.5 1230.2L3118.9 1228.3L3128.3 1228.3L3137.7 1218.5L3147.1 1218.5L3156.5 1218.5L3165.9 1218.5L3175.3 1218.5L3184.7 1218.5L3194.1 1218.5L3203.5 1213.8L3212.9 1213.8L3222.3 1213.8L3231.6 1213.8L3241.0 1213.8L3250.4 1213.8L3259.8 1213.8L3269.2 1213.8L3278.6 1213.8L3288.0 1213.8L3297.4 1212.6L3306.8 1208.2L3316.2 1205.8L3325.6 1205.5L3335.0 1204.3L3344.4 1201.7L3353.8 1199.0L3363.2 1186.9L3372.6 1175.8L3382.0 1174.9L3391.4 1174.9L3400.8 1170.8L3410.2 1162.4L3419.6 1129.8L3429.0 1119.8L3438.4 1119.8L3447.8 1119.8L3457.2 1119.8L3466.6 1119.8L3476.0 1119.8L3485.4 1113.5L3494.8 1113.5L3504.2 1113.5L3513.6 1113.5L3523.0 1113.5L3532.4 1112.2L3541.8 1106.6L3551.2 1106.6L3560.6 1106.6L3570.0 1094.6L3579.4 1088.1L3588.8 1061.2L3598.2 1060.7L3607.6 1053.6L3617.0 1037.9L3626.4 1034.6L3635.8 1028.5L3645.2 1024.0"/>
<path stroke="#1676b3" d="M224.0 2074.9L233.4 2069.3L242.8 2061.2L252.2 2061.2L261.6 2061.2L271.0 2056.4L280.4 2039.2L289.8 2039.2L299.2 2031.6L308.6 2019.9L318.0 2005.7L327.4 2005.7L336.8 2005.7L346.2 1998.1L355.6 1997.8L365.0 1997.8L374.4 1996.5L383.8 1993.8L393.2 1977.5L402.6 1977.5L412.0 1973.2L421.4 1973.2L430.8 1957.3L440.2 1952.0L449.6 1952.0L459.0 1952.0L468.4 1952.0L477.8 1952.0L487.2 1952.0L496.6 1952.0L506.0 1952.0L515.4 1952.0L524.8 1951.2L534.2 1951.2L543.6 1921.3L553.0 1913.7L562.4 1904.4L571.8 1903.4L581.2 1897.7L590.6 1894.3L600.0 1891.1L609.4 1890.2L618.7 1887.0L628.1 1881.5L637.5 1872.3L646.9 1859.1L656.3 1857.3L665.7 1857.1L675.1 1856.2L684.5 1854.2L693.9 1854.2L703.3 1854.2L712.7 1854.2L722.1 1854.2L731.5 1854.2L740.9 1854.2L750.3 1852.3L759.7 1848.4L769.1 1848.4L778.5 1840.7L787.9 1840.0L797.3 1840.0L806.7 1840.0L816.1 1827.3L825.5 1827.3L834.9 1827.3L844.3 1816.6L853.7 1816.6L863.1 1816.2L872.5 1798.2L881.9 1793.8L891.3 1785.3L900.7 1785.3L910.1 1785.3L919.5 1755.3L928.9 1755.3L938.3 1748.9L947.7 1732.5L957.1 1731.6L966.5 1731.6L975.9 1725.4L985.3 1725.4L994.7 1725.4L1004.1 1686.8L1013.5 1686.2L1022.9 1686.2L1032.3 1686.2L1041.7 1686.2L1051.1 1686.2L1060.5 1686.2L1069.9 1686.2L1079.3 1686.2L1088.7 1686.2L1098.1 1686.2L1107.5 1677.4L1116.9 1669.4L1126.3 1669.4L1135.7 1669.4L1145.1 1669.4L1154.5 1669.4L1163.9 1669.4L1173.3 1667.3L1182.7 1646.8L1192.1 1643.2L1201.5 1641.6L1210.9 1640.8L1220.3 1640.8L1229.7 1640.8L1239.1 1640.8L1248.5 1640.8L1257.9 1640.8L1267.3 1640.8L1276.7 1640.8L1286.1 1640.8L1295.5 1640.8L1304.9 1640.8L1314.3 1637.4L1323.7 1631.8L1333.1 1631.8L1342.5 1631.8L1351.9 1626.8L1361.3 1626.8L1370.7 1624.9L1380.1 1624.9L1389.5 1624.9L1398.9 1619.8L1408.3 1613.6L1417.7 1613.6L1427.1 1613.6L1436.5 1613.6L1445.9 1613.6L1455.3 1613.6L1464.7 1613.6L1474.1 1613.6L1483.5 1613.6L1492.8 1613.6L1502.2 1613.6L1511.6 1613.6L1521.0 1613.6L1530.4 1611.2L1539.8 1611.2L1549.2 1611.2L1558.6 1602.3L1568.0 1602.3L1577.4 1602.3L1586.8 1596.4L1596.2 1573.3L1605.6 1568.0L1615.0 1536.2L1624.4 1536.2L1633.8 1536.2L1643.2 1530.1L1652.6 1530.0L1662.0 1530.0L1671.4 1530.0L1680.8 1530.0L1690.2 1526.0L1699.6 1526.0L1709.0 1526.0L1718.4 1526.0L1727.8 1521.0L1737.2 1520.3L1746.6 1520.3L1756.0 1517.7L1765.4 1517.7L1774.8 1517.7L1784.2 1517.7L1793.6 1517.7L1803.0 1517.7L1812.4 1517.7L1821.8 1506.9L1831.2 1503.1L1840.6 1501.4L1850.0 1492.9L1859.4 1492.9L1868.8 1492.9L1878.2 1492.9L1887.6 1492.9L1897.0 1492.9L1906.4 1489.4L1915.8 1489.4L1925.2 1489.4L1934.6 1488.9L1944.0 1483.7L1953.4 1464.2L1962.8 1464.2L1972.2 1464.2L1981.6 1462.0L1991.0 1461.4L2000.4 1450.1L2009.8 1446.2L2019.2 1443.2L2028.6 1434.7L2038.0 1434.7L2047.4 1434.7L2056.8 1434.7L2066.2 1434.7L2075.6 1434.7L2085.0 1428.3L2094.4 1428.3L2103.8 1428.3L2113.2 1428.3L2122.6 1428.3L2132.0 1428.3L2141.4 1428.3L2150.8 1428.3L2160.2 1428.3L2169.6 1421.2L2179.0 1416.6L2188.4 1412.3L2197.8 1412.2L2207.2 1412.2L2216.6 1412.2L2226.0 1412.2L2235.4 1407.6L2244.8 1405.8L2254.2 1405.5L2263.6 1405.5L2273.0 1405.5L2282.4 1405.5L2291.8 1401.1L2301.2 1394.3L2310.6 1394.3L2320.0 1394.1L2329.4 1394.1L2338.8 1394.1L2348.2 1394.1L2357.5 1394.1L2366.9 1394.1L2376.3 1394.1L2385.7 1393.0L2395.1 1385.2L2404.5 1382.5L2413.9 1379.7L2423.3 1379.2L2432.7 1379.1L2442.1 1376.2L2451.5 1376.2L2460.9 1376.2L2470.3 1376.2L2479.7 1376.2L2489.1 1376.2L2498.5 1376.2L2507.9 1376.2L2517.3 1372.7L2526.7 1371.5L2536.1 1371.5L2545.5 1371.5L2554.9 1370.5L2564.3 1370.4L2573.7 1370.4L2583.1 1367.7L2592.5 1367.7L2601.9 1367.1L2611.3 1366.6L2620.7 1363.9L2630.1 1363.9L2639.5 1363.9L2648.9 1363.3L2658.3 1363.3L2667.7 1363.3L2677.1 1363.3L2686.5 1363.3L2695.9 1363.3L2705.3 1361.4L2714.7 1358.9L2724.1 1357.3L2733.5 1352.6L2742.9 1348.8L2752.3 1326.7L2761.7 1306.9L2771.1 1305.1L2780.5 1302.7L2789.9 1302.7L2799.3 1302.7L2808.7 1302.7L2818.1 1302.7L2827.5 1302.7L2836.9 1302.7L2846.3 1302.7L2855.7 1302.7L2865.1 1302.7L2874.5 1302.7L2883.9 1302.0L2893.3 1302.0L2902.7 1301.8L2912.1 1300.3L2921.5 1292.7L2930.9 1288.2L2940.3 1288.2L2949.7 1286.3L2959.1 1286.3L2968.5 1286.3L2977.9 1286.3L2987.3 1286.3L2996.7 1286.3L3006.1 1286.3L3015.5 1273.5L3024.9 1266.7L3034.3 1266.7L3043.7 1266.7L3053.1 1266.7L3062.5 1266.7L3071.9 1256.5L3081.3 1256.5L3090.7 1233.6L3100.1 1231.6L3109.5 1231.6L3118.9 1231.6L3128.3 1231.6L3137.7 1231.6L3147.1 1212.1L3156.5 1212.1L3165.9 1212.1L3175.3 1212.1L3184.7 1212.1L3194.1 1212.1L3203.5 1211.0L3212.9 1198.3L3222.3 1194.3L3231.6 1187.1L3241.0 1186.7L3250.4 1170.3L3259.8 1170.3L3269.2 1170.3L3278.6 1166.8L3288.0 1165.3L3297.4 1150.5L3306.8 1147.8L3316.2 1147.8L3325.6 1147.8L3335.0 1147.8L3344.4 1147.8L3353.8 1147.8L3363.2 1147.8L3372.6 1147.8L3382.0 1147.8L3391.4 1147.8L3400.8 1132.2L3410.2 1124.8L3419.6 1124.8L3429.0 1122.4L3438.4 1122.4L3447.8 1122.4L3457.2 1116.3L3466.6 1109.9L3476.0 1100.0L3485.4 1095.2L3494.8 1095.2L3504.2 1092.8L3513.6 1051.3L3523.0 1051.3L3532.4 1051.3L3541.8 1048.8L3551.2 1047.7L3560.6 1047.7L3570.0 1047.7L3579.4 1042.9L3588.8 1029.9L3598.2 1029.9L3607.6 1029.9L3617.0 1029.9L3626.4 1029.9L3635.8 1029.9L3645.2 996.7L3654.6 988.0"/>
<path stroke="#1373b1" d="M224.0 2116.3L233.4 2111.3L242.8 2105.7L252.2 2105.7L261.6 2105.7L271.0 2105.7L280.4 2105.7L289.8 2105.7L299.2 2105.7L308.6 2105.7L318.0 2105.7L327.4 2105.7L336.8 2105.7L346.2 2102.0L355.6 2091.0L365.0 2076.3L374.4 2057.3L383.8 2057.3L393.2 2057.3L402.6 2046.7L412.0 2042.7L421.4 2041.7L430.8 2041.7L440.2 2040.0L449.6 2020.1L459.0 1998.7L468.4 1997.3L477.8 1983.3L487.2 1981.6L496.6 1981.6L506.0 1981.6L515.4 1981.6L524.8 1981.6L534.2 1981.6L543.6 1976.7L553.0 1963.0L562.4 1963.0L571.8 1962.9L581.2 1959.2L590.6 1948.3L600.0 1942.6L609.4 1939.9L618.7 1928.0L628.1 1926.2L637.5 1920.9L646.9 1920.9L656.3 1920.9L665.7 1920.9L675.1 1920.9L684.5 1906.0L693.9 1898.2L703.3 1896.6L712.7 1896.6L722.1 1896.6L731.5 1896.6L740.9 1896.6L750.3 1887.1L759.7 1856.9L769.1 1847.8L778.5 1844.0L787.9 1844.0L797.3 1844.0L806.7 1844.0L816.1 1844.0L825.5 1843.9L834.9 1832.0L844.3 1829.1L853.7 1826.9L863.1 1808.0L872.5 1808.0L881.9 1808.0L891.3 1808.0L900.7 1808.0L910.1 1786.2L919.5 1786.2L928.9 1786.2L938.3 1784.8L947.7 1779.4L957.1 1779.4L966.5 1779.4L975.9 1775.7L985.3 1775.7L994.7 1771.4L1004.1 1771.4L1013.5 1767.2L1022.9 1765.3L1032.3 1757.6L1041.7 1755.4L1051.1 1750.2L1060.5 1746.5L1069.9 1745.2L1079.3 1744.0L1088.7 1744.0L1098.1 1735.0L1107.5 1732.9L1116.9 1732.8L1126.3 1729.1L1135.7 1727.9L1145.1 1724.4L1154.5 1717.3L1163.9 1717.3L1173.3 1717.3L1182.7 1717.3L1192.1 1717.3L1201.5 1717.3L1210.9 1717.3L1220.3 1709.1L1229.7 1699.4L1239.1 1699.4L1248.5 1699.4L1257.9 1697.5L1267.3 1697.5L1276.7 1697.5L1286.1 1697.5L1295.5 1697.5L1304.9 1697.5L1314.3 1697.5L1323.7 1697.5L1333.1 1697.5L1342.5 1697.5L1351.9 1697.2L1361.3 1694.3L1370.7 1694.3L1380.1 1694.3L1389.5 1694.3L1398.9 1694.3L1408.3 1657.6L1417.7 1643.0L1427.1 1626.8L1436.5 1626.8L1445.9 1626.8L1455.3 1626.8L1464.7 1626.4L1474.1 1626.4L1483.5 1624.3L1492.8 1608.1L1502.2 1608.1L1511.6 1608.1L1521.0 1603.6L1530.4 1599.3L1539.8 1599.2L1549.2 1594.6L1558.6 1594.6L1568.0 1594.6L1577.4 1594.6L1586.8 1594.6L1596.2 1594.6L1605.6 1594.6L1615.0 1594.6L1624.4 1594.6L1633.8 1594.6L1643.2 1594.6L1652.6 1587.8L1662.0 1579.6L1671.4 1575.9L1680.8 1561.8L1690.2 1561.7L1699.6 1546.0L1709.0 1545.9L1718.4 1545.9L1727.8 1545.9L1737.2 1545.9L1746.6 1545.9L1756.0 1545.9L1765.4 1545.9L1774.8 1545.9L1784.2 1509.0L1793.6 1472.7L1803.0 1461.1L1812.4 1461.1L1821.8 1461.1L1831.2 1461.1L1840.6 1461.1L1850.0 1460.9L1859.4 1460.9L1868.8 1460.9L1878.2 1460.9L1887.6 1460.9L1897.0 1460.9L1906.4 1460.9L1915.8 1460.9L1925.2 1460.9L1934.6 1460.9L1944.0 1460.9L1953.4 1460.9L1962.8 1460.9L1972.2 1460.9L1981.6 1451.4L1991.0 1451.4L2000.4 1451.4L2009.8 1451.4L2019.2 1451.4L2028.6 1451.4L2038.0 1451.4L2047.4 1451.4L2056.8 1444.2L2066.2 1444.1L2075.6 1441.0L2085.0 1438.7L2094.4 1435.9L2103.8 1435.9L2113.2 1435.9L2122.6 1435.9L2132.0 1435.9L2141.4 1435.1L2150.8 1432.4L2160.2 1424.3L2169.6 1424.3L2179.0 1424.3L2188.4 1424.3L2197.8 1424.3L2207.2 1424.3L2216.6 1424.3L2226.0 1424.3L2235.4 1424.3L2244.8 1424.3L2254.2 1424.2L2263.6 1424.2L2273.0 1424.2L2282.4 1424.0L2291.8 1423.1L2301.2 1421.6L2310.6 1421.6L2320.0 1421.6L2329.4 1421.6L2338.8 1421.6L2348.2 1420.0L2357.5 1391.8L2366.9 1391.8L2376.3 1391.8L2385.7 1391.8L2395.1 1391.8L2404.5 1391.8L2413.9 1391.8L2423.3 1391.8L2432.7 1391.8L2442.1 1391.8L2451.5 1390.8L2460.9 1390.0L2470.3 1390.0L2479.7 1390.0L2489.1 1390.0L2498.5 1390.0L2507.9 1390.0L2517.3 1390.0L2526.7 1390.0L2536.1 1390.0L2545.5 1390.0L2554.9 1390.0L2564.3 1390.0L2573.7 1390.0L2583.1 1390.0L2592.5 1390.0L2601.9 1390.0L2611.3 1387.9L2620.7 1383.4L2630.1 1383.2L2639.5 1382.9L2648.9 1382.9L2658.3 1382.9L2667.7 1373.7L2677.1 1373.7L2686.5 1354.9L2695.9 1338.4L2705.3 1338.4L2714.7 1338.4L2724.1 1338.4L2733.5 1338.4L2742.9 1337.7L2752.3 1336.3L2761.7 1336.3L2771.1 1332.2L2780.5 1330.7L2789.9 1330.7L2799.3 1329.0L2808.7 1322.1L2818.1 1319.4L2827.5 1319.4L2836.9 1319.4L2846.3 1319.4L2855.7 1319.4L2865.1 1319.4L2874.5 1319.4L2883.9 1319.4L2893.3 1319.4L2902.7 1311.9L2912.1 1311.9L2921.5 1289.7L2930.9 1289.4L2940.3 1271.0L2949.7 1269.8L2959.1 1263.7L2968.5 1263.7L2977.9 1256.1L2987.3 1252.0L2996.7 1241.6L3006.1 1235.1L3015.5 1231.5L3024.9 1231.4L3034.3 1230.1L3043.7 1228.9L3053.1 1228.7L3062.5 1228.7L3071.9 1228.7L3081.3 1228.7L3090.7 1228.7L3100.1 1228.7L3109.5 1228.6L3118.9 1228.5L3128.3 1228.2L3137.7 1208.0L3147.1 1208.0L3156.5 1208.0L3165.9 1208.0L3175.3 1206.3L3184.7 1206.3L3194.1 1206.3L3203.5 1206.3L3212.9 1206.2L3222.3 1206.2L3231.6 1199.3L3241.0 1199.3L3250.4 1199.2L3259.8 1199.2L3269.2 1199.2L3278.6 1199.2L3288.0 1199.2L3297.4 1199.2L3306.8 1199.2L3316.2 1199.2L3325.6 1199.2L3335.0 1197.5L3344.4 1148.6L3353.8 1142.1L3363.2 1131.1L3372.6 1115.8L3382.0 1112.9L3391.4 1112.9L3400.8 1110.0L3410.2 1110.0L3419.6 1110.0L3429.0 1106.7L3438.4 1103.3L3447.8 1103.3L3457.2 1103.3L3466.6 1089.7L3476.0 1086.5L3485.4 1084.8L3494.8 1081.6L3504.2 1070.2L3513.6 1055.0L3523.0 1055.0L3532.4 1053.8L3541.8 1046.6L3551.2 1045.2L3560.6 1022.6L3570.0 1008.0L3579.4 1000.3L3588.8 999.7L3598.2 998.5L3607.6 996.2L3617.0 995.9L3626.4 984.0L3635.8 984.0L3645.2 984.0"/>
<path stroke="#0f70b0" d="M224.0 2113.2L233.4 2113.2L242.8 2084.6L252.2 2078.1L261.6 2053.8L271.0 2000.2L280.4 2000.2L289.8 2000.2L299.2 2000.2L308.6 2000.2L318.0 2000.2L327.4 2000.2L336.8 1997.1L346.2 1943.6L355.6 1943.6L365.0 1934.9L374.4 1931.1L383.8 1930.4L393.2 1930.4L402.6 1930.4L412.0 1926.1L421.4 1926.1L430.8 1926.1L440.2 1911.9L449.6 1906.1L459.0 1905.9L468.4 1878.4L477.8 1878.4L487.2 1878.4L496.6 1878.4L506.0 1878.4L515.4 1869.5L524.8 1863.9L534.2 1851.3L543.6 1851.3L553.0 1848.9L562.4 1829.4L571.8 1828.9L581.2 1824.2L590.6 1818.4L600.0 1814.5L609.4 1813.1L618.7 1812.8L628.1 1810.5L637.5 1810.5L646.9 1810.5L656.3 1797.1L665.7 1796.5L675.1 1796.2L684.5 1788.6L693.9 1783.4L703.3 1773.9L712.7 1773.9L722.1 1773.9L731.5 1773.9L740.9 1773.9L750.3 1773.9L759.7 1773.9L769.1 1771.1L778.5 1771.1L787.9 1767.3L797.3 1764.2L806.7 1736.5L816.1 1736.5L825.5 1736.5L834.9 1735.8L844.3 1735.8L853.7 1735.8L863.1 1735.8L872.5 1735.8L881.9 1735.8L891.3 1735.2L900.7 1735.2L910.1 1735.2L919.5 1735.2L928.9 1726.6L938.3 1726.6L947.7 1724.6L957.1 1711.9L966.5 1711.9L975.9 1711.9L985.3 1711.9L994.7 1699.6L1004.1 1693.3L1013.5 1693.3L1022.9 1678.2L1032.3 1676.8L1041.7 1676.8L1051.1 1676.8L1060.5 1672.3L1069.9 1672.3L1079.3 1670.2L1088.7 1665.7L1098.1 1661.9L1107.5 1661.9L1116.9 1661.9L1126.3 1661.4L1135.7 1661.4L1145.1 1661.4L1154.5 1660.8L1163.9 1652.2L1173.3 1652.2L1182.7 1649.1L1192.1 1649.1L1201.5 1649.1L1210.9 1649.1L1220.3 1638.3L1229.7 1630.9L1239.1 1628.4L1248.5 1628.4L1257.9 1622.1L1267.3 1622.1L1276.7 1622.1L1286.1 1622.1L1295.5 1622.1L1304.9 1622.1L1314.3 1622.1L1323.7 1622.1L1333.1 1622.1L1342.5 1618.9L1351.9 1615.6L1361.3 1613.4L1370.7 1599.4L1380.1 1599.2L1389.5 1592.2L1398.9 1592.2L1408.3 1592.2L1417.7 1592.2L1427.1 1592.2L1436.5 1592.2L1445.9 1592.2L1455.3 1592.2L1464.7 1592.2L1474.1 1592.2L1483.5 1569.7L1492.8 1567.3L1502.2 1531.8L1511.6 1525.6L1521.0 1514.4L1530.4 1514.4L1539.8 1506.9L1549.2 1506.9L1558.6 1506.9L1568.0 1506.9L1577.4 1506.9L1586.8 1506.9L1596.2 1506.9L1605.6 1500.4L1615.0 1500.4L1624.4 1500.4L1633.8 1500.4L1643.2 1500.4L1652.6 1500.4L1662.0 1500.4L1671.4 1500.4L1680.8 1500.4L1690.2 1500.4L1699.6 1500.4L1709.0 1485.7L1718.4 1468.3L1727.8 1459.9L1737.2 1459.9L1746.6 1416.4L1756.0 1416.4L1765.4 1416.4L1774.8 1416.4L1784.2 1416.4L1793.6 1416.4L1803.0 1416.4L1812.4 1416.4L1821.8 1416.4L1831.2 1416.4L1840.6 1416.4L1850.0 1416.4L1859.4 1416.4L1868.8 1416.4L1878.2 1416.4L1887.6 1416.4L1897.0 1416.4L1906.4 1405.6L1915.8 1380.4L1925.2 1379.7L1934.6 1379.7L1944.0 1379.7L1953.4 1379.7L1962.8 1379.7L1972.2 1379.7L1981.6 1379.7L1991.0 1378.5L2000.4 1377.3L2009.8 1377.3L2019.2 1377.3L2028.6 1376.3L2038.0 1373.6L2047.4 1361.2L2056.8 1348.5L2066.2 1345.0L2075.6 1345.0L2085.0 1345.0L2094.4 1335.1L2103.8 1335.1L2113.2 1335.1L2122.6 1335.1L2132.0 1335.1L2141.4 1335.1L2150.8 1335.1L2160.2 1335.1L2169.6 1335.1L2179.0 1334.8L2188.4 1322.2L2197.8 1320.4L2207.2 1320.4L2216.6 1320.4L2226.0 1320.4L2235.4 1320.4L2244.8 1317.2L2254.2 1317.2L2263.6 1317.2L2273.0 1317.2L2282.4 1317.2L2291.8 1317.2L2301.2 1317.2L2310.6 1317.2L2320.0 1317.2L2329.4 1314.2L2338.8 1312.8L2348.2 1304.3L2357.5 1304.3L2366.9 1304.3L2376.3 1304.3L2385.7 1304.3L2395.1 1304.3L2404.5 1304.3L2413.9 1304.3L2423.3 1304.3L2432.7 1304.3L2442.1 1304.3L2451.5 1304.3L2460.9 1304.3L2470.3 1304.3L2479.7 1304.3L2489.1 1304.3L2498.5 1304.3L2507.9 1304.3L2517.3 1304.3L2526.7 1304.3L2536.1 1304.3L2545.5 1304.3L2554.9 1302.9L2564.3 1297.1L2573.7 1297.1L2583.1 1297.1L2592.5 1297.1L2601.9 1297.1L2611.3 1297.1L2620.7 1295.9L2630.1 1288.8L2639.5 1285.7L2648.9 1283.5L2658.3 1266.8L2667.7 1266.8L2677.1 1266.8L2686.5 1266.8L2695.9 1266.8L2705.3 1266.8L2714.7 1266.8L2724.1 1266.8L2733.5 1266.8L2742.9 1266.8L2752.3 1266.8L2761.7 1265.6L2771.1 1262.7L2780.5 1262.7L2789.9 1262.7L2799.3 1260.2L2808.7 1251.3L2818.1 1251.3L2827.5 1251.3L2836.9 1251.3L2846.3 1251.3L2855.7 1243.5L2865.1 1243.5L2874.5 1243.5L2883.9 1243.5L2893.3 1231.7L2902.7 1221.3L2912.1 1221.3L2921.5 1219.5L2930.9 1219.5L2940.3 1219.5L2949.7 1196.8L2959.1 1180.8L2968.5 1180.8L2977.9 1180.8L2987.3 1180.8L2996.7 1180.8L3006.1 1180.8L3015.5 1180.8L3024.9 1180.8L3034.3 1180.8L3043.7 1180.8L3053.1 1180.8L3062.5 1180.8L3071.9 1180.8L3081.3 1178.7L3090.7 1177.7L3100.1 1177.7L3109.5 1176.3L3118.9 1173.7L3128.3 1170.4L3137.7 1169.9L3147.1 1168.4L3156.5 1165.6L3165.9 1164.9L3175.3 1164.3L3184.7 1153.9L3194.1 1153.6L3203.5 1150.1L3212.9 1148.5L3222.3 1145.8L3231.6 1145.8L3241.0 1145.8L3250.4 1145.8L3259.8 1145.8L3269.2 1145.8L3278.6 1145.8L3288.0 1145.8L3297.4 1145.8L3306.8 1145.1L3316.2 1139.0L3325.6 1131.5L3335.0 1131.1L3344.4 1129.9L3353.8 1129.6L3363.2 1122.4L3372.6 1121.3L3382.0 1119.1L3391.4 1106.6L3400.8 1091.6L3410.2 1089.0L3419.6 1085.7L3429.0 1085.6L3438.4 1083.1L3447.8 1082.1L3457.2 1074.3L3466.6 1072.5L3476.0 1072.3L3485.4 1056.9L3494.8 1049.3L3504.2 1049.3L3513.6 1049.2L3523.0 1041.7L3532.4 991.2L3541.8 989.2L3551.2 987.2L3560.6 974.7L3570.0 974.7L3579.4 974.7L3588.8 974.7L3598.2 974.7L3607.6 974.7L3617.0 974.7L3626.4 974.7L3635.8 974.7L3645.2 974.0"/>
<path stroke="#0c6cae" d="M224.0 2116.2L233.4 2107.6L242.8 2100.6L252.2 2096.6L261.6 2096.6L271.0 2091.5L280.4 2090.2L289.8 2063.5L299.2 2060.6L308.6 2050.2L318.0 2050.2L327.4 2050.2L336.8 2047.5L346.2 2037.2L355.6 2037.2L365.0 2037.2L374.4 2037.2L383.8 2037.2L393.2 2037.2L402.6 2037.1L412.0 2030.2L421.4 2012.2L430.8 2012.2L440.2 2012.2L449.6 2012.2L459.0 2012.2L468.4 2012.2L477.8 2004.9L487.2 2000.1L496.6 2000.1L506.0 1982.3L515.4 1975.0L524.8 1971.7L534.2 1970.9L543.6 1970.9L553.0 1965.0L562.4 1957.5L571.8 1946.9L581.2 1945.6L590.6 1945.5L600.0 1945.2L609.4 1945.2L618.7 1944.3L628.1 1940.4L637.5 1940.4L646.9 1940.4L656.3 1940.4L665.7 1940.4L675.1 1940.0L684.5 1937.6L693.9 1935.7L703.3 1931.3L712.7 1931.0L722.1 1930.9L731.5 1929.6L740.9 1921.7L750.3 1918.1L759.7 1918.0L769.1 1918.0L778.5 1918.0L787.9 1918.0L797.3 1918.0L806.7 1918.0L816.1 1897.8L825.5 1897.8L834.9 1897.7L844.3 1890.4L853.7 1889.8L863.1 1876.4L872.5 1876.4L881.9 1876.4L891.3 1875.7L900.7 1875.6L910.1 1868.7L919.5 1868.7L928.9 1868.7L938.3 1868.7L947.7 1868.7L957.1 1868.7L966.5 1867.6L975.9 1852.5L985.3 1852.5L994.7 1852.5L1004.1 1852.5L1013.5 1852.5L1022.9 1852.5L1032.3 1852.5L1041.7 1852.5L1051.1 1816.5L1060.5 1816.5L1069.9 1816.5L1079.3 1816.5L1088.7 1816.5L1098.1 1816.5L1107.5 1816.5L1116.9 1816.5L1126.3 1816.5L1135.7 1811.5L1145.1 1800.1L1154.5 1794.3L1163.9 1794.3L1173.3 1794.3L1182.7 1793.4L1192.1 1780.1L1201.5 1780.1L1210.9 1780.1L1220.3 1780.1L1229.7 1780.1L1239.1 1778.6L1248.5 1778.6L1257.9 1741.7L1267.3 1741.7L1276.7 1741.7L1286.1 1739.7L1295.5 1736.8L1304.9 1736.6L1314.3 1736.6L1323.7 1736.6L1333.1 1736.6L1342.5 1736.6L1351.9 1736.1L1361.3 1736.1L1370.7 1736.1L1380.1 1736.1L1389.5 1736.1L1398.9 1736.1L1408.3 1736.1L1417.7 1736.1L1427.1 1736.1L1436.5 1733.3L1445.9 1729.7L1455.3 1729.7L1464.7 1729.7L1474.1 1729.7L1483.5 1729.7L1492.8 1729.7L1502.2 1729.7L1511.6 1729.7L1521.0 1707.6L1530.4 1695.8L1539.8 1695.8L1549.2 1682.6L1558.6 1640.8L1568.0 1625.3L1577.4 1619.3L1586.8 1619.3L1596.2 1619.3L1605.6 1619.3L1615.0 1619.3L1624.4 1619.3L1633.8 1619.3L1643.2 1619.3L1652.6 1619.3L1662.0 1619.3L1671.4 1619.3L1680.8 1619.3L1690.2 1619.3L1699.6 1619.3L1709.0 1619.3L1718.4 1619.3L1727.8 1619.3L1737.2 1619.3L1746.6 1598.4L1756.0 1595.4L1765.4 1587.7L1774.8 1584.9L1784.2 1582.9L1793.6 1575.4L1803.0 1575.4L1812.4 1575.4L1821.8 1575.4L1831.2 1575.4L1840.6 1575.4L1850.0 1575.4L1859.4 1575.4L1868.8 1575.4L1878.2 1570.8L1887.6 1554.3L1897.0 1554.1L1906.4 1554.1L1915.8 1554.1L1925.2 1554.1L1934.6 1542.4L1944.0 1542.4L1953.4 1531.1L1962.8 1530.9L1972.2 1526.4L1981.6 1526.4L1991.0 1525.1L2000.4 1524.5L2009.8 1524.5L2019.2 1524.5L2028.6 1524.5L2038.0 1524.5L2047.4 1524.5L2056.8 1524.5L2066.2 1524.5L2075.6 1523.1L2085.0 1523.1L2094.4 1523.1L2103.8 1523.1L2113.2 1523.1L2122.6 1522.1L2132.0 1522.1L2141.4 1522.1L2150.8 1522.1L2160.2 1522.1L2169.6 1522.1L2179.0 1522.1L2188.4 1522.1L2197.8 1522.1L2207.2 1522.1L2216.6 1511.5L2226.0 1504.8L2235.4 1498.9L2244.8 1498.9L2254.2 1498.9L2263.6 1478.5L2273.0 1477.5L2282.4 1473.7L2291.8 1473.7L2301.2 1473.7L2310.6 1473.7L2320.0 1473.7L2329.4 1473.7L2338.8 1473.7L2348.2 1473.7L2357.5 1473.7L2366.9 1473.7L2376.3 1473.7L2385.7 1473.7L2395.1 1473.7L2404.5 1473.7L2413.9 1473.7L2423.3 1468.2L2432.7 1464.8L2442.1 1462.0L2451.5 1462.0L2460.9 1462.0L2470.3 1457.7L2479.7 1450.8L2489.1 1450.3L2498.5 1450.3L2507.9 1450.3L2517.3 1441.7L2526.7 1441.7L2536.1 1441.7L2545.5 1441.7L2554.9 1441.7L2564.3 1441.7L2573.7 1441.7L2583.1 1441.7L2592.5 1441.7L2601.9 1441.7L2611.3 1429.3L2620.7 1427.7L2630.1 1424.5L2639.5 1422.5L2648.9 1419.4L2658.3 1417.4L2667.7 1417.4L2677.1 1416.5L2686.5 1416.4L2695.9 1413.8L2705.3 1413.8L2714.7 1413.8L2724.1 1413.8L2733.5 1413.8L2742.9 1413.8L2752.3 1412.9L2761.7 1412.9L2771.1 1412.9L2780.5 1412.9L2789.9 1412.9L2799.3 1412.9L2808.7 1408.9L2818.1 1401.9L2827.5 1399.9L2836.9 1399.9L2846.3 1386.3L2855.7 1386.3L2865.1 1386.3L2874.5 1386.3L2883.9 1386.1L2893.3 1378.9L2902.7 1377.4L2912.1 1377.3L2921.5 1373.1L2930.9 1368.9L2940.3 1360.9L2949.7 1353.5L2959.1 1321.8L2968.5 1321.8L2977.9 1321.8L2987.3 1321.8L2996.7 1321.8L3006.1 1312.0L3015.5 1310.9L3024.9 1307.8L3034.3 1307.8L3043.7 1307.8L3053.1 1307.8L3062.5 1307.8L3071.9 1299.7L3081.3 1296.8L3090.7 1296.8L3100.1 1296.8L3109.5 1296.8L3118.9 1284.3L3128.3 1284.3L3137.7 1284.3L3147.1 1284.3L3156.5 1284.3L3165.9 1284.3L3175.3 1284.3L3184.7 1283.8L3194.1 1253.4L3203.5 1242.9L3212.9 1242.9L3222.3 1189.3L3231.6 1189.3L3241.0 1189.3L3250.4 1189.3L3259.8 1181.8L3269.2 1156.5L3278.6 1151.1L3288.0 1148.8L3297.4 1148.8L3306.8 1148.8L3316.2 1148.8L3325.6 1148.8L3335.0 1148.8L3344.4 1148.8L3353.8 1142.2L3363.2 1129.9L3372.6 1128.4L3382.0 1113.3L3391.4 1113.3L3400.8 1097.6L3410.2 1087.4L3419.6 1087.4L3429.0 1087.4L3438.4 1078.4L3447.8 1077.6L3457.2 1065.2L3466.6 1064.1L3476.0 1044.3L3485.4 1033.2L3494.8 1033.2L3504.2 1033.2L3513.6 1033.2L3523.0 1033.2L3532.4 1033.2L3541.8 1033.2L3551.2 1033.2L3560.6 1027.0L3570.0 990.2L3579.4 990.2L3588.8 990.2L3598.2 986.0L3607.6 970.0L3617.0 970.0L3626.4 970.0L3635.8 970.0L3645.2 970.0"/>
<path stroke="#0969ac" d="M224.0 2113.0L233.4 2113.0L242.8 2113.0L252.2 2113.0L261.6 2079.6L271.0 2026.0L280.4 1996.8L289.8 1993.0L299.2 1989.1L308.6 1989.1L318.0 1967.9L327.4 1947.7L336.8 1947.7L346.2 1947.7L355.6 1947.7L365.0 1947.7L374.4 1947.7L383.8 1945.7L393.2 1945.7L402.6 1945.7L412.0 1945.7L421.4 1939.0L430.8 1939.0L440.2 1939.0L449.6 1939.0L459.0 1939.0L468.4 1939.0L477.8 1939.0L487.2 1939.0L496.6 1939.0L506.0 1939.0L515.4 1939.0L524.8 1939.0L534.2 1939.0L543.6 1936.9L553.0 1936.9L562.4 1936.9L571.8 1933.3L581.2 1933.3L590.6 1933.3L600.0 1900.2L609.4 1900.2L618.7 1900.2L628.1 1900.2L637.5 1900.2L646.9 1900.2L656.3 1900.2L665.7 1900.2L675.1 1900.2L684.5 1883.6L693.9 1872.8L703.3 1872.8L712.7 1845.4L722.1 1838.6L731.5 1834.3L740.9 1805.2L750.3 1805.2L759.7 1805.2L769.1 1805.2L778.5 1805.2L787.9 1793.5L797.3 1786.0L806.7 1783.0L816.1 1783.0L825.5 1778.1L834.9 1776.8L844.3 1768.9L853.7 1768.9L863.1 1739.7L872.5 1739.7L881.9 1739.7L891.3 1739.7L900.7 1739.7L910.1 1705.7L919.5 1705.7L928.9 1700.7L938.3 1661.9L947.7 1659.6L957.1 1626.3L966.5 1606.8L975.9 1605.2L985.3 1604.6L994.7 1604.6L1004.1 1604.6L1013.5 1604.6L1022.9 1604.6L1032.3 1604.6L1041.7 1551.0L1051.1 1548.8L1060.5 1548.8L1069.9 1548.8L1079.3 1548.8L1088.7 1531.7L1098.1 1531.2L1107.5 1531.2L1116.9 1531.2L1126.3 1531.2L1135.7 1519.3L1145.1 1511.3L1154.5 1505.4L1163.9 1470.7L1173.3 1460.2L1182.7 1459.8L1192.1 1452.7L1201.5 1452.7L1210.9 1452.7L1220.3 1452.7L1229.7 1452.7L1239.1 1452.7L1248.5 1452.7L1257.9 1452.7L1267.3 1452.7L1276.7 1452.7L1286.1 1452.7L1295.5 1452.7L1304.9 1452.7L1314.3 1452.7L1323.7 1452.7L1333.1 1452.7L1342.5 1452.7L1351.9 1452.7L1361.3 1452.7L1370.7 1452.7L1380.1 1452.7L1389.5 1452.7L1398.9 1452.7L1408.3 1452.7L1417.7 1450.5L1427.1 1450.5L1436.5 1450.5L1445.9 1437.4L1455.3 1437.4L1464.7 1437.4L1474.1 1434.4L1483.5 1434.4L1492.8 1434.4L1502.2 1434.4L1511.6 1434.4L1521.0 1434.4L1530.4 1434.4L1539.8 1434.4L1549.2 1425.7L1558.6 1419.5L1568.0 1365.9L1577.4 1354.8L1586.8 1354.8L1596.2 1343.8L1605.6 1332.7L1615.0 1321.7L1624.4 1321.7L1633.8 1321.7L1643.2 1321.7L1652.6 1321.7L1662.0 1316.1L1671.4 1310.5L1680.8 1310.5L1690.2 1304.9L1699.6 1304.9L1709.0 1299.3L1718.4 1299.3L1727.8 1299.3L1737.2 1299.3L1746.6 1245.7L1756.0 1245.7L1765.4 1245.7L1774.8 1245.7L1784.2 1245.7L1793.6 1245.7L1803.0 1245.7L1812.4 1245.7L1821.8 1245.7L1831.2 1245.2L1840.6 1242.9L1850.0 1237.4L1859.4 1232.1L1868.8 1220.4L1878.2 1214.2L1887.6 1212.0L1897.0 1212.0L1906.4 1212.0L1915.8 1212.0L1925.2 1212.0L1934.6 1212.0L1944.0 1193.8L1953.4 1178.0L1962.8 1178.0L1972.2 1178.0L1981.6 1178.0L1991.0 1178.0L2000.4 1178.0L2009.8 1178.0L2019.2 1178.0L2028.6 1177.5L2038.0 1177.5L2047.4 1177.5L2056.8 1169.7L2066.2 1164.2L2075.6 1164.2L2085.0 1164.2L2094.4 1164.2L2103.8 1164.2L2113.2 1159.1L2122.6 1159.1L2132.0 1159.1L2141.4 1159.1L2150.8 1159.1L2160.2 1159.1L2169.6 1159.1L2179.0 1157.5L2188.4 1157.5L2197.8 1157.5L2207.2 1157.5L2216.6 1157.5L2226.0 1157.5L2235.4 1157.5L2244.8 1157.5L2254.2 1156.9L2263.6 1156.9L2273.0 1156.9L2282.4 1156.9L2291.8 1156.9L2301.2 1156.9L2310.6 1156.9L2320.0 1156.9L2329.4 1156.9L2338.8 1156.9L2348.2 1156.9L2357.5 1154.6L2366.9 1153.5L2376.3 1153.4L2385.7 1152.5L2395.1 1152.0L2404.5 1151.7L2413.9 1151.4L2423.3 1151.4L2432.7 1151.4L2442.1 1151.4L2451.5 1151.4L2460.9 1151.4L2470.3 1150.8L2479.7 1142.0L2489.1 1142.0L2498.5 1142.0L2507.9 1142.0L2517.3 1142.0L2526.7 1141.9L2536.1 1127.9L2545.5 1127.5L2554.9 1127.4L2564.3 1127.3L2573.7 1126.8L2583.1 1120.4L2592.5 1118.6L2601.9 1118.6L2611.3 1118.6L2620.7 1118.6L2630.1 1118.6L2639.5 1118.6L2648.9 1118.6L2658.3 1118.6L2667.7 1118.6L2677.1 1118.6L2686.5 1118.6L2695.9 1118.6L2705.3 1118.6L2714.7 1118.6L2724.1 1118.6L2733.5 1118.3L2742.9 1116.5L2752.3 1115.8L2761.7 1114.6L2771.1 1114.6L2780.5 1114.6L2789.9 1114.6L2799.3 1114.6L2808.7 1114.6L2818.1 1114.6L2827.5 1114.6L2836.9 1114.6L2846.3 1114.6L2855.7 1114.6L2865.1 1114.6L2874.5 1113.9L2883.9 1113.6L2893.3 1113.6L2902.7 1113.6L2912.1 1113.6L2921.5 1113.6L2930.9 1106.3L2940.3 1106.3L2949.7 1106.3L2959.1 1106.3L2968.5 1106.3L2977.9 1101.0L2987.3 1089.5L2996.7 1087.9L3006.1 1087.9L3015.5 1087.9L3024.9 1087.9L3034.3 1087.9L3043.7 1087.9L3053.1 1079.3L3062.5 1076.6L3071.9 1075.1L3081.3 1075.0L3090.7 1071.2L3100.1 1070.2L3109.5 1069.6L3118.9 1069.6L3128.3 1069.6L3137.7 1069.6L3147.1 1069.6L3156.5 1069.6L3165.9 1069.6L3175.3 1069.6L3184.7 1068.5L3194.1 1063.9L3203.5 1063.5L3212.9 1063.5L3222.3 1063.5L3231.6 1061.9L3241.0 1061.9L3250.4 1061.9L3259.8 1058.3L3269.2 1040.1L3278.6 1031.9L3288.0 1031.9L3297.4 1031.6L3306.8 1028.9L3316.2 1028.9L3325.6 1025.4L3335.0 1021.6L3344.4 1017.9L3353.8 1017.9L3363.2 1017.9L3372.6 1017.9L3382.0 1017.9L3391.4 1017.9L3400.8 1017.9L3410.2 1017.9L3419.6 1017.9L3429.0 1017.9L3438.4 1011.9L3447.8 1011.9L3457.2 1011.9L3466.6 1011.9L3476.0 1011.9L3485.4 1005.0L3494.8 1003.6L3504.2 1003.6L3513.6 1003.6L3523.0 1003.1L3532.4 981.0L3541.8 967.2L3551.2 954.8L3560.6 946.0L3570.0 946.0L3579.4 944.0L3588.8 942.9L3598.2 942.9L3607.6 942.9L3617.0 942.9L3626.4 942.9L3635.8 939.0L3645.2 939.0L3654.6 939.0"/>
<path stroke="#0865a9" d="M224.0 2116.2L233.4 2094.3L242.8 2093.0L252.2 2093.0L261.6 2093.0L271.0 2093.0L280.4 2093.0L289.8 2083.6L299.2 2078.9L308.6 2076.2L318.0 2075.9L327.4 2070.8L336.8 2070.8L346.2 2059.0L355.6 2056.1L365.0 2055.0L374.4 2046.3L383.8 2045.9L393.2 2043.2L402.6 2042.9L412.0 2039.0L421.4 2036.9L430.8 2021.7L440.2 2018.8L449.6 2018.2L459.0 1996.6L468.4 1983.2L477.8 1978.5L487.2 1978.4L496.6 1970.1L506.0 1963.5L515.4 1936.0L524.8 1930.0L534.2 1913.6L543.6 1905.8L553.0 1898.0L562.4 1893.2L571.8 1893.2L581.2 1873.7L590.6 1873.7L600.0 1873.7L609.4 1873.7L618.7 1873.7L628.1 1873.7L637.5 1873.7L646.9 1873.7L656.3 1871.5L665.7 1869.7L675.1 1868.1L684.5 1855.3L693.9 1853.8L703.3 1852.6L712.7 1851.6L722.1 1846.7L731.5 1846.7L740.9 1846.7L750.3 1820.5L759.7 1809.8L769.1 1809.8L778.5 1809.8L787.9 1805.3L797.3 1797.1L806.7 1790.7L816.1 1782.5L825.5 1779.3L834.9 1750.5L844.3 1737.8L853.7 1737.8L863.1 1737.8L872.5 1737.8L881.9 1733.2L891.3 1733.2L900.7 1733.2L910.1 1733.2L919.5 1732.4L928.9 1728.0L938.3 1728.0L947.7 1728.0L957.1 1726.8L966.5 1725.7L975.9 1723.1L985.3 1715.9L994.7 1704.9L1004.1 1704.9L1013.5 1704.9L1022.9 1704.9L1032.3 1704.9L1041.7 1704.9L1051.1 1704.9L1060.5 1704.9L1069.9 1704.9L1079.3 1704.9L1088.7 1704.9L1098.1 1704.9L1107.5 1704.9L1116.9 1703.6L1126.3 1699.4L1135.7 1676.4L1145.1 1676.0L1154.5 1674.0L1163.9 1674.0L1173.3 1674.0L1182.7 1674.0L1192.1 1674.0L1201.5 1674.0L1210.9 1650.4L1220.3 1650.4L1229.7 1650.4L1239.1 1650.4L1248.5 1650.4L1257.9 1648.9L1267.3 1648.9L1276.7 1648.9L1286.1 1630.1L1295.5 1630.1L1304.9 1628.5L1314.3 1618.3L1323.7 1618.3L1333.1 1618.3L1342.5 1618.3L1351.9 1618.3L1361.3 1616.3L1370.7 1614.1L1380.1 1612.9L1389.5 1612.9L1398.9 1612.9L1408.3 1612.9L1417.7 1612.9L1427.1 1612.9L1436.5 1612.9L1445.9 1612.9L1455.3 1607.4L1464.7 1600.2L1474.1 1600.2L1483.5 1600.2L1492.8 1600.2L1502.2 1600.2L1511.6 1600.2L1521.0 1581.2L1530.4 1551.6L1539.8 1548.5L1549.2 1530.0L1558.6 1522.2L1568.0 1522.2L1577.4 1522.2L1586.8 1522.2L1596.2 1520.0L1605.6 1520.0L1615.0 1520.0L1624.4 1519.8L1633.8 1519.8L1643.2 1519.8L1652.6 1519.8L1662.0 1497.7L1671.4 1497.7L1680.8 1497.7L1690.2 1482.3L1699.6 1482.3L1709.0 1477.9L1718.4 1467.9L1727.8 1461.7L1737.2 1461.7L1746.6 1461.7L1756.0 1461.7L1765.4 1461.7L1774.8 1461.7L1784.2 1455.4L1793.6 1453.6L1803.0 1453.6L1812.4 1453.6L1821.8 1453.6L1831.2 1453.6L1840.6 1453.6L1850.0 1453.6L1859.4 1453.0L1868.8 1450.9L1878.2 1445.7L1887.6 1432.6L1897.0 1431.1L1906.4 1401.4L1915.8 1401.2L1925.2 1399.1L1934.6 1399.1L1944.0 1399.1L1953.4 1397.7L1962.8 1397.7L1972.2 1392.0L1981.6 1392.0L1991.0 1392.0L2000.4 1392.0L2009.8 1392.0L2019.2 1392.0L2028.6 1392.0L2038.0 1391.9L2047.4 1383.7L2056.8 1383.7L2066.2 1383.7L2075.6 1383.7L2085.0 1383.4L2094.4 1383.2L2103.8 1383.2L2113.2 1383.2L2122.6 1383.2L2132.0 1383.2L2141.4 1383.2L2150.8 1383.2L2160.2 1383.2L2169.6 1383.2L2179.0 1383.2L2188.4 1383.2L2197.8 1383.2L2207.2 1383.2L2216.6 1383.2L2226.0 1383.2L2235.4 1383.2L2244.8 1383.2L2254.2 1383.2L2263.6 1383.2L2273.0 1383.2L2282.4 1376.2L2291.8 1372.6L2301.2 1372.6L2310.6 1372.6L2320.0 1371.6L2329.4 1370.7L2338.8 1370.7L2348.2 1370.7L2357.5 1370.7L2366.9 1370.7L2376.3 1370.7L2385.7 1361.5L2395.1 1361.5L2404.5 1361.5L2413.9 1361.5L2423.3 1361.5L2432.7 1361.5L2442.1 1361.5L2451.5 1361.5L2460.9 1361.5L2470.3 1361.5L2479.7 1352.4L2489.1 1351.4L2498.5 1351.4L2507.9 1346.0L2517.3 1346.0L2526.7 1329.3L2536.1 1329.3L2545.5 1329.3L2554.9 1329.3L2564.3 1329.3L2573.7 1329.3L2583.1 1329.3L2592.5 1329.3L2601.9 1329.0L2611.3 1329.0L2620.7 1326.0L2630.1 1326.0L2639.5 1326.0L2648.9 1326.0L2658.3 1326.0L2667.7 1323.4L2677.1 1323.4L2686.5 1308.9L2695.9 1304.0L2705.3 1304.0L2714.7 1304.0L2724.1 1304.0L2733.5 1292.4L2742.9 1292.4L2752.3 1288.2L2761.7 1287.6L2771.1 1283.0L2780.5 1283.0L2789.9 1283.0L2799.3 1283.0L2808.7 1283.0L2818.1 1283.0L2827.5 1283.0L2836.9 1283.0L2846.3 1281.5L2855.7 1271.0L2865.1 1271.0L2874.5 1271.0L2883.9 1271.0L2893.3 1271.0L2902.7 1269.7L2912.1 1269.7L2921.5 1269.7L2930.9 1269.7L2940.3 1258.4L2949.7 1257.2L2959.1 1255.7L2968.5 1255.7L2977.9 1255.7L2987.3 1249.3L2996.7 1249.3L3006.1 1247.4L3015.5 1247.4L3024.9 1247.4L3034.3 1247.4L3043.7 1247.4L3053.1 1247.4L3062.5 1247.4L3071.9 1236.4L3081.3 1226.2L3090.7 1225.2L3100.1 1225.2L3109.5 1222.6L3118.9 1222.6L3128.3 1218.1L3137.7 1205.6L3147.1 1205.6L3156.5 1186.0L3165.9 1142.7L3175.3 1142.7L3184.7 1142.7L3194.1 1142.7L3203.5 1142.7L3212.9 1142.7L3222.3 1142.5L3231.6 1142.5L3241.0 1142.5L3250.4 1135.6L3259.8 1106.1L3269.2 1092.6L3278.6 1092.6L3288.0 1092.6L3297.4 1079.6L3306.8 1079.6L3316.2 1079.6L3325.6 1079.6L3335.0 1075.7L3344.4 1075.7L3353.8 1075.7L3363.2 1075.7L3372.6 1075.7L3382.0 1075.7L3391.4 1075.7L3400.8 1063.7L3410.2 1049.7L3419.6 1049.7L3429.0 1049.7L3438.4 1037.9L3447.8 1037.9L3457.2 1037.9L3466.6 1037.9L3476.0 1037.4L3485.4 1037.4L3494.8 1006.8L3504.2 1006.8L3513.6 1000.0L3523.0 997.9L3532.4 986.4L3541.8 960.5L3551.2 960.5L3560.6 960.5L3570.0 960.5L3579.4 959.8L3588.8 959.8L3598.2 959.6L3607.6 959.4L3617.0 951.8L3626.4 938.6L3635.8 937.7L3645.2 926.0"/>
<path stroke="#0861a5" d="M224.0 2110.7L233.4 2110.7L242.8 2110.5L252.2 2110.5L261.6 2104.3L271.0 2081.3L280.4 2077.4L289.8 2057.1L299.2 2057.0L308.6 2057.0L318.0 2057.0L327.4 2055.3L336.8 2055.3L346.2 2038.0L355.6 2037.9L365.0 2030.9L374.4 2020.6L383.8 2020.6L393.2 2003.5L402.6 2003.0L412.0 1997.7L421.4 1997.7L430.8 1985.0L440.2 1985.0L449.6 1985.0L459.0 1985.0L468.4 1980.2L477.8 1980.2L487.2 1980.2L496.6 1973.9L506.0 1932.0L515.4 1932.0L524.8 1932.0L534.2 1932.0L543.6 1932.0L553.0 1932.0L562.4 1932.0L571.8 1932.0L581.2 1879.6L590.6 1879.6L600.0 1879.6L609.4 1879.6L618.7 1879.6L628.1 1879.6L637.5 1833.2L646.9 1833.2L656.3 1833.2L665.7 1833.2L675.1 1833.2L684.5 1786.8L693.9 1781.0L703.3 1766.4L712.7 1766.4L722.1 1758.0L731.5 1734.6L740.9 1734.6L750.3 1734.6L759.7 1734.6L769.1 1734.6L778.5 1734.6L787.9 1734.6L797.3 1734.6L806.7 1734.6L816.1 1726.0L825.5 1723.6L834.9 1723.6L844.3 1723.6L853.7 1723.6L863.1 1723.6L872.5 1723.6L881.9 1723.6L891.3 1723.6L900.7 1723.6L910.1 1723.6L919.5 1709.4L928.9 1704.5L938.3 1696.6L947.7 1676.4L957.1 1676.2L966.5 1674.2L975.9 1673.3L985.3 1673.3L994.7 1673.3L1004.1 1673.1L1013.5 1673.1L1022.9 1668.9L1032.3 1668.9L1041.7 1668.9L1051.1 1668.9L1060.5 1668.9L1069.9 1668.9L1079.3 1652.0L1088.7 1651.3L1098.1 1651.3L1107.5 1651.3L1116.9 1651.3L1126.3 1625.9L1135.7 1620.1L1145.1 1609.8L1154.5 1609.8L1163.9 1609.8L1173.3 1609.8L1182.7 1609.8L1192.1 1609.8L1201.5 1604.4L1210.9 1586.7L1220.3 1586.7L1229.7 1586.7L1239.1 1586.7L1248.5 1586.7L1257.9 1586.7L1267.3 1586.7L1276.7 1586.7L1286.1 1579.8L1295.5 1571.5L1304.9 1571.5L1314.3 1571.5L1323.7 1571.5L1333.1 1554.0L1342.5 1553.3L1351.9 1553.3L1361.3 1553.3L1370.7 1553.3L1380.1 1553.3L1389.5 1553.3L1398.9 1553.3L1408.3 1553.3L1417.7 1553.3L1427.1 1553.3L1436.5 1553.3L1445.9 1553.3L1455.3 1553.3L1464.7 1553.3L1474.1 1549.4L1483.5 1549.4L1492.8 1544.3L1502.2 1544.3L1511.6 1544.3L1521.0 1544.3L1530.4 1544.3L1539.8 1544.3L1549.2 1544.3L1558.6 1544.3L1568.0 1544.3L1577.4 1543.6L1586.8 1505.4L1596.2 1505.4L1605.6 1505.4L1615.0 1504.9L1624.4 1497.8L1633.8 1496.9L1643.2 1474.1L1652.6 1466.4L1662.0 1466.4L1671.4 1466.4L1680.8 1456.6L1690.2 1456.6L1699.6 1412.9L1709.0 1379.0L1718.4 1379.0L1727.8 1378.3L1737.2 1378.3L1746.6 1378.3L1756.0 1378.3L1765.4 1378.3L1774.8 1378.3L1784.2 1371.6L1793.6 1343.2L1803.0 1326.9L1812.4 1316.3L1821.8 1296.8L1831.2 1286.5L1840.6 1286.5L1850.0 1286.5L1859.4 1286.5L1868.8 1286.5L1878.2 1286.5L1887.6 1286.5L1897.0 1286.4L1906.4 1286.4L1915.8 1276.7L1925.2 1266.7L1934.6 1257.1L1944.0 1257.1L1953.4 1257.1L1962.8 1257.1L1972.2 1257.1L1981.6 1257.1L1991.0 1257.1L2000.4 1257.1L2009.8 1257.0L2019.2 1257.0L2028.6 1251.0L2038.0 1246.7L2047.4 1246.7L2056.8 1243.0L2066.2 1243.0L2075.6 1243.0L2085.0 1243.0L2094.4 1243.0L2103.8 1243.0L2113.2 1243.0L2122.6 1243.0L2132.0 1243.0L2141.4 1243.0L2150.8 1243.0L2160.2 1243.0L2169.6 1243.0L2179.0 1243.0L2188.4 1243.0L2197.8 1243.0L2207.2 1243.0L2216.6 1243.0L2226.0 1243.0L2235.4 1243.0L2244.8 1243.0L2254.2 1243.0L2263.6 1243.0L2273.0 1243.0L2282.4 1243.0L2291.8 1243.0L2301.2 1243.0L2310.6 1243.0L2320.0 1243.0L2329.4 1230.7L2338.8 1230.7L2348.2 1230.7L2357.5 1227.7L2366.9 1211.0L2376.3 1211.0L2385.7 1211.0L2395.1 1211.0L2404.5 1211.0L2413.9 1211.0L2423.3 1211.0L2432.7 1211.0L2442.1 1211.0L2451.5 1211.0L2460.9 1211.0L2470.3 1211.0L2479.7 1211.0L2489.1 1211.0L2498.5 1211.0L2507.9 1211.0L2517.3 1211.0L2526.7 1211.0L2536.1 1211.0L2545.5 1211.0L2554.9 1211.0L2564.3 1211.0L2573.7 1211.0L2583.1 1211.0L2592.5 1207.9L2601.9 1205.9L2611.3 1205.8L2620.7 1205.0L2630.1 1205.0L2639.5 1205.0L2648.9 1201.3L2658.3 1193.8L2667.7 1193.5L2677.1 1193.5L2686.5 1193.5L2695.9 1193.5L2705.3 1192.8L2714.7 1191.6L2724.1 1191.5L2733.5 1187.5L2742.9 1183.4L2752.3 1183.4L2761.7 1183.2L2771.1 1183.2L2780.5 1182.6L2789.9 1182.6L2799.3 1182.6L2808.7 1182.6L2818.1 1180.6L2827.5 1170.7L2836.9 1169.5L2846.3 1165.7L2855.7 1165.7L2865.1 1165.7L2874.5 1165.7L2883.9 1164.8L2893.3 1164.8L2902.7 1163.8L2912.1 1157.6L2921.5 1157.6L2930.9 1157.6L2940.3 1157.6L2949.7 1157.6L2959.1 1157.6L2968.5 1157.2L2977.9 1153.8L2987.3 1153.8L2996.7 1153.8L3006.1 1153.8L3015.5 1153.8L3024.9 1153.8L3034.3 1153.8L3043.7 1153.3L3053.1 1151.2L3062.5 1136.3L3071.9 1132.8L3081.3 1124.9L3090.7 1114.8L3100.1 1114.8L3109.5 1113.4L3118.9 1112.5L3128.3 1112.5L3137.7 1111.1L3147.1 1104.0L3156.5 1101.7L3165.9 1101.7L3175.3 1101.7L3184.7 1101.7L3194.1 1077.3L3203.5 1077.3L3212.9 1069.2L3222.3 1069.2L3231.6 1069.2L3241.0 1069.2L3250.4 1069.2L3259.8 1068.4L3269.2 1055.5L3278.6 1055.0L3288.0 1055.0L3297.4 1055.0L3306.8 1055.0L3316.2 1055.0L3325.6 1049.5L3335.0 1043.3L3344.4 1043.3L3353.8 1043.3L3363.2 1043.3L3372.6 1026.0L3382.0 1023.0L3391.4 1023.0L3400.8 1023.0L3410.2 1023.0L3419.6 1023.0L3429.0 1022.0L3438.4 1020.8L3447.8 1020.8L3457.2 1020.8L3466.6 1020.8L3476.0 1020.8L3485.4 1017.9L3494.8 1017.9L3504.2 1017.9L3513.6 1017.9L3523.0 1017.9L3532.4 1017.9L3541.8 1017.9L3551.2 975.6L3560.6 958.7L3570.0 958.7L3579.4 958.7L3588.8 954.6L3598.2 947.8L3607.6 947.8L3617.0 938.0L3626.4 932.4L3635.8 932.4L3645.2 918.0"/>
<path stroke="#085ea1" d="M224.0 2114.2L233.4 2114.2L242.8 2109.0L252.2 2109.0L261.6 2109.0L271.0 2109.0L280.4 2109.0L289.8 2109.0L299.2 2109.0L308.6 2109.0L318.0 2089.4L327.4 2089.4L336.8 2089.4L346.2 2089.4L355.6 2089.4L365.0 2089.4L374.4 2085.9L383.8 2032.3L393.2 1982.9L402.6 1967.3L412.0 1913.7L421.4 1913.7L430.8 1913.7L440.2 1913.7L449.6 1913.7L459.0 1910.5L468.4 1910.5L477.8 1910.5L487.2 1910.5L496.6 1910.5L506.0 1897.8L515.4 1897.8L524.8 1874.7L534.2 1874.7L543.6 1874.7L553.0 1874.7L562.4 1874.7L571.8 1874.7L581.2 1874.7L590.6 1874.7L600.0 1874.7L609.4 1867.4L618.7 1855.6L628.1 1831.5L637.5 1804.6L646.9 1801.0L656.3 1801.0L665.7 1801.0L675.1 1801.0L684.5 1798.8L693.9 1749.3L703.3 1749.3L712.7 1749.3L722.1 1746.3L731.5 1746.3L740.9 1746.3L750.3 1746.3L759.7 1746.3L769.1 1746.3L778.5 1739.4L787.9 1685.8L797.3 1676.2L806.7 1670.6L816.1 1667.3L825.5 1667.3L834.9 1637.7L844.3 1621.1L853.7 1621.1L863.1 1621.1L872.5 1621.1L881.9 1621.1L891.3 1618.9L900.7 1617.7L910.1 1615.8L919.5 1614.3L928.9 1611.2L938.3 1611.2L947.7 1611.2L957.1 1611.2L966.5 1611.2L975.9 1611.2L985.3 1611.2L994.7 1611.0L1004.1 1609.6L1013.5 1605.4L1022.9 1603.5L1032.3 1603.5L1041.7 1603.0L1051.1 1587.1L1060.5 1587.1L1069.9 1587.1L1079.3 1587.1L1088.7 1586.9L1098.1 1586.7L1107.5 1582.8L1116.9 1582.8L1126.3 1578.6L1135.7 1576.0L1145.1 1576.0L1154.5 1576.0L1163.9 1576.0L1173.3 1576.0L1182.7 1565.0L1192.1 1554.6L1201.5 1542.1L1210.9 1541.2L1220.3 1541.2L1229.7 1541.2L1239.1 1541.2L1248.5 1540.1L1257.9 1539.2L1267.3 1521.8L1276.7 1521.6L1286.1 1517.5L1295.5 1493.9L1304.9 1493.9L1314.3 1493.9L1323.7 1493.9L1333.1 1493.9L1342.5 1493.9L1351.9 1493.9L1361.3 1493.9L1370.7 1493.9L1380.1 1493.9L1389.5 1493.9L1398.9 1493.9L1408.3 1493.9L1417.7 1482.5L1427.1 1459.1L1436.5 1443.6L1445.9 1440.1L1455.3 1435.9L1464.7 1429.4L1474.1 1395.6L1483.5 1395.6L1492.8 1395.6L1502.2 1395.6L1511.6 1395.6L1521.0 1395.6L1530.4 1395.6L1539.8 1395.6L1549.2 1389.2L1558.6 1376.6L1568.0 1376.6L1577.4 1376.6L1586.8 1376.6L1596.2 1376.6L1605.6 1376.6L1615.0 1376.6L1624.4 1376.6L1633.8 1376.6L1643.2 1376.6L1652.6 1376.6L1662.0 1376.6L1671.4 1376.6L1680.8 1353.7L1690.2 1351.8L1699.6 1351.8L1709.0 1351.8L1718.4 1351.8L1727.8 1351.8L1737.2 1326.7L1746.6 1300.5L1756.0 1300.5L1765.4 1300.5L1774.8 1300.1L1784.2 1298.3L1793.6 1298.3L1803.0 1298.3L1812.4 1298.3L1821.8 1298.3L1831.2 1298.3L1840.6 1298.3L1850.0 1291.3L1859.4 1287.9L1868.8 1270.2L1878.2 1268.5L1887.6 1260.2L1897.0 1259.0L1906.4 1237.5L1915.8 1229.7L1925.2 1229.7L1934.6 1229.7L1944.0 1229.7L1953.4 1229.7L1962.8 1229.7L1972.2 1229.7L1981.6 1229.7L1991.0 1229.7L2000.4 1226.4L2009.8 1225.7L2019.2 1225.7L2028.6 1225.7L2038.0 1225.7L2047.4 1225.7L2056.8 1215.4L2066.2 1215.4L2075.6 1215.4L2085.0 1215.4L2094.4 1215.4L2103.8 1190.0L2113.2 1189.5L2122.6 1189.5L2132.0 1189.2L2141.4 1189.2L2150.8 1189.2L2160.2 1189.2L2169.6 1189.2L2179.0 1189.2L2188.4 1189.2L2197.8 1189.2L2207.2 1189.2L2216.6 1189.2L2226.0 1189.2L2235.4 1189.2L2244.8 1189.2L2254.2 1189.2L2263.6 1189.2L2273.0 1189.2L2282.4 1189.2L2291.8 1189.2L2301.2 1189.2L2310.6 1189.2L2320.0 1189.2L2329.4 1189.2L2338.8 1189.2L2348.2 1189.2L2357.5 1189.2L2366.9 1189.2L2376.3 1189.2L2385.7 1189.2L2395.1 1189.2L2404.5 1189.2L2413.9 1189.2L2423.3 1180.4L2432.7 1179.8L2442.1 1179.5L2451.5 1179.5L2460.9 1179.5L2470.3 1179.5L2479.7 1179.5L2489.1 1179.5L2498.5 1179.5L2507.9 1179.5L2517.3 1179.5L2526.7 1179.5L2536.1 1179.5L2545.5 1179.5L2554.9 1179.5L2564.3 1178.6L2573.7 1178.6L2583.1 1178.6L2592.5 1178.6L2601.9 1178.6L2611.3 1178.6L2620.7 1178.6L2630.1 1178.6L2639.5 1178.6L2648.9 1178.6L2658.3 1178.6L2667.7 1178.6L2677.1 1176.4L2686.5 1176.4L2695.9 1176.4L2705.3 1176.4L2714.7 1176.4L2724.1 1176.4L2733.5 1176.4L2742.9 1176.4L2752.3 1176.4L2761.7 1176.4L2771.1 1176.4L2780.5 1176.4L2789.9 1176.4L2799.3 1176.4L2808.7 1176.4L2818.1 1176.4L2827.5 1171.5L2836.9 1170.9L2846.3 1158.0L2855.7 1158.0L2865.1 1158.0L2874.5 1158.0L2883.9 1158.0L2893.3 1155.1L2902.7 1155.1L2912.1 1155.1L2921.5 1155.1L2930.9 1155.1L2940.3 1155.1L2949.7 1145.0L2959.1 1145.0L2968.5 1142.3L2977.9 1138.1L2987.3 1131.3L2996.7 1131.3L3006.1 1129.1L3015.5 1129.0L3024.9 1129.0L3034.3 1129.0L3043.7 1126.0L3053.1 1118.7L3062.5 1118.3L3071.9 1118.3L3081.3 1117.9L3090.7 1113.6L3100.1 1113.6L3109.5 1113.6L3118.9 1113.6L3128.3 1113.6L3137.7 1086.4L3147.1 1085.5L3156.5 1085.5L3165.9 1076.5L3175.3 1062.7L3184.7 1058.3L3194.1 1058.3L3203.5 1058.3L3212.9 1058.3L3222.3 1057.1L3231.6 1045.7L3241.0 1038.3L3250.4 1032.6L3259.8 1032.3L3269.2 1027.5L3278.6 1026.7L3288.0 1021.5L3297.4 1003.0L3306.8 1003.0L3316.2 1003.0L3325.6 1002.7L3335.0 987.0L3344.4 987.0L3353.8 987.0L3363.2 987.0L3372.6 987.0L3382.0 987.0L3391.4 986.5L3400.8 986.3L3410.2 982.2L3419.6 962.8L3429.0 962.8L3438.4 948.7L3447.8 948.7L3457.2 948.7L3466.6 948.7L3476.0 947.6L3485.4 947.6L3494.8 947.6L3504.2 947.6L3513.6 947.6L3523.0 947.6L3532.4 947.6L3541.8 947.6L3551.2 947.6L3560.6 914.8L3570.0 903.7L3579.4 903.7L3588.8 903.7L3598.2 903.7L3607.6 903.5L3617.0 903.5L3626.4 903.5L3635.8 901.9L3645.2 899.0"/>
<path stroke="#085a9d" d="M224.0 2115.5L233.4 2115.5L242.8 2083.2L252.2 2078.1L261.6 2058.8L271.0 2035.7L280.4 2033.4L289.8 2032.1L299.2 2004.3L308.6 1977.9L318.0 1968.2L327.4 1958.0L336.8 1957.9L346.2 1957.9L355.6 1957.9L365.0 1957.9L374.4 1957.9L383.8 1957.9L393.2 1948.6L402.6 1941.4L412.0 1928.8L421.4 1925.5L430.8 1925.5L440.2 1925.5L449.6 1925.5L459.0 1909.2L468.4 1903.3L477.8 1903.3L487.2 1903.3L496.6 1903.3L506.0 1903.3L515.4 1900.8L524.8 1847.2L534.2 1839.3L543.6 1839.3L553.0 1839.3L562.4 1839.3L571.8 1839.3L581.2 1839.3L590.6 1839.3L600.0 1839.3L609.4 1798.6L618.7 1798.6L628.1 1798.6L637.5 1798.6L646.9 1798.6L656.3 1798.6L665.7 1798.6L675.1 1798.6L684.5 1798.6L693.9 1798.6L703.3 1798.6L712.7 1798.6L722.1 1798.6L731.5 1798.6L740.9 1745.0L750.3 1706.1L759.7 1665.6L769.1 1665.6L778.5 1665.6L787.9 1665.6L797.3 1665.6L806.7 1665.6L816.1 1664.3L825.5 1654.5L834.9 1649.9L844.3 1649.9L853.7 1649.9L863.1 1635.6L872.5 1635.6L881.9 1635.6L891.3 1635.6L900.7 1633.4L910.1 1632.1L919.5 1632.1L928.9 1632.1L938.3 1625.6L947.7 1625.6L957.1 1625.6L966.5 1625.4L975.9 1625.4L985.3 1625.0L994.7 1625.0L1004.1 1619.5L1013.5 1609.8L1022.9 1609.7L1032.3 1602.7L1041.7 1596.6L1051.1 1586.6L1060.5 1585.1L1069.9 1580.1L1079.3 1578.7L1088.7 1578.7L1098.1 1578.7L1107.5 1578.7L1116.9 1578.7L1126.3 1563.7L1135.7 1563.7L1145.1 1562.7L1154.5 1558.3L1163.9 1558.3L1173.3 1558.3L1182.7 1558.3L1192.1 1558.2L1201.5 1557.5L1210.9 1556.0L1220.3 1556.0L1229.7 1546.9L1239.1 1546.9L1248.5 1546.7L1257.9 1546.0L1267.3 1546.0L1276.7 1546.0L1286.1 1529.2L1295.5 1526.9L1304.9 1525.4L1314.3 1519.9L1323.7 1516.7L1333.1 1514.0L1342.5 1514.0L1351.9 1513.7L1361.3 1513.7L1370.7 1513.7L1380.1 1513.7L1389.5 1513.7L1398.9 1513.7L1408.3 1513.7L1417.7 1513.7L1427.1 1492.2L1436.5 1492.2L1445.9 1492.2L1455.3 1492.2L1464.7 1480.6L1474.1 1480.6L1483.5 1480.6L1492.8 1427.0L1502.2 1427.0L1511.6 1420.7L1521.0 1391.4L1530.4 1375.1L1539.8 1375.1L1549.2 1375.1L1558.6 1375.1L1568.0 1375.1L1577.4 1375.1L1586.8 1374.5L1596.2 1374.5L1605.6 1371.2L1615.0 1371.2L1624.4 1371.2L1633.8 1371.2L1643.2 1367.3L1652.6 1366.9L1662.0 1349.5L1671.4 1349.5L1680.8 1349.5L1690.2 1349.5L1699.6 1344.5L1709.0 1339.8L1718.4 1339.8L1727.8 1339.8L1737.2 1339.8L1746.6 1339.8L1756.0 1339.8L1765.4 1339.8L1774.8 1339.8L1784.2 1339.8L1793.6 1339.8L1803.0 1339.8L1812.4 1339.8L1821.8 1339.8L1831.2 1339.8L1840.6 1339.8L1850.0 1334.9L1859.4 1327.6L1868.8 1313.0L1878.2 1309.2L1887.6 1308.9L1897.0 1301.7L1906.4 1297.4L1915.8 1284.0L1925.2 1280.9L1934.6 1280.9L1944.0 1267.5L1953.4 1267.3L1962.8 1267.3L1972.2 1267.3L1981.6 1267.3L1991.0 1267.3L2000.4 1267.3L2009.8 1267.3L2019.2 1266.9L2028.6 1266.9L2038.0 1266.9L2047.4 1266.9L2056.8 1266.9L2066.2 1266.9L2075.6 1266.9L2085.0 1266.9L2094.4 1266.9L2103.8 1266.9L2113.2 1266.9L2122.6 1266.9L2132.0 1266.9L2141.4 1266.9L2150.8 1266.9L2160.2 1266.9L2169.6 1266.9L2179.0 1262.6L2188.4 1262.6L2197.8 1258.3L2207.2 1258.3L2216.6 1258.3L2226.0 1258.3L2235.4 1244.3L2244.8 1244.3L2254.2 1244.3L2263.6 1244.3L2273.0 1244.3L2282.4 1244.3L2291.8 1244.3L2301.2 1244.3L2310.6 1244.3L2320.0 1244.3L2329.4 1244.3L2338.8 1238.7L2348.2 1238.7L2357.5 1238.7L2366.9 1238.7L2376.3 1238.7L2385.7 1228.8L2395.1 1225.0L2404.5 1225.0L2413.9 1225.0L2423.3 1212.8L2432.7 1212.8L2442.1 1212.8L2451.5 1199.8L2460.9 1199.8L2470.3 1199.8L2479.7 1199.1L2489.1 1192.6L2498.5 1192.6L2507.9 1192.6L2517.3 1192.6L2526.7 1192.6L2536.1 1192.6L2545.5 1192.0L2554.9 1191.3L2564.3 1191.3L2573.7 1191.3L2583.1 1191.3L2592.5 1191.3L2601.9 1191.3L2611.3 1191.3L2620.7 1190.8L2630.1 1189.6L2639.5 1189.5L2648.9 1189.5L2658.3 1189.5L2667.7 1189.5L2677.1 1189.5L2686.5 1189.5L2695.9 1189.5L2705.3 1189.5L2714.7 1189.5L2724.1 1189.5L2733.5 1189.5L2742.9 1189.5L2752.3 1189.5L2761.7 1189.5L2771.1 1161.3L2780.5 1161.3L2789.9 1157.3L2799.3 1157.3L2808.7 1122.6L2818.1 1122.6L2827.5 1122.6L2836.9 1122.6L2846.3 1122.6L2855.7 1122.6L2865.1 1122.6L2874.5 1122.6L2883.9 1122.6L2893.3 1122.6L2902.7 1122.6L2912.1 1122.6L2921.5 1122.6L2930.9 1122.6L2940.3 1122.6L2949.7 1122.6L2959.1 1122.6L2968.5 1122.6L2977.9 1122.6L2987.3 1122.6L2996.7 1122.6L3006.1 1122.6L3015.5 1122.6L3024.9 1122.6L3034.3 1122.6L3043.7 1090.9L3053.1 1088.1L3062.5 1088.1L3071.9 1088.1L3081.3 1088.1L3090.7 1088.1L3100.1 1088.1L3109.5 1082.6L3118.9 1082.6L3128.3 1071.6L3137.7 1071.6L3147.1 1071.6L3156.5 1071.6L3165.9 1071.6L3175.3 1071.6L3184.7 1071.6L3194.1 1071.6L3203.5 1071.6L3212.9 1071.6L3222.3 1071.6L3231.6 1065.5L3241.0 1065.5L3250.4 1064.1L3259.8 1064.1L3269.2 1064.1L3278.6 1064.1L3288.0 1064.1L3297.4 1056.0L3306.8 1054.1L3316.2 1039.4L3325.6 1030.3L3335.0 1028.1L3344.4 1020.6L3353.8 1010.7L3363.2 1003.9L3372.6 1003.3L3382.0 997.6L3391.4 996.1L3400.8 973.3L3410.2 973.3L3419.6 973.3L3429.0 951.5L3438.4 927.4L3447.8 927.4L3457.2 927.4L3466.6 927.4L3476.0 927.4L3485.4 927.4L3494.8 927.4L3504.2 925.3L3513.6 925.3L3523.0 925.3L3532.4 925.3L3541.8 925.3L3551.2 925.3L3560.6 925.3L3570.0 925.3L3579.4 925.3L3588.8 925.3L3598.2 925.2L3607.6 918.8L3617.0 912.1L3626.4 908.7L3635.8 908.1L3645.2 901.2L3654.6 896.0"/>
<path stroke="#085699" d="M224.0 2087.2L233.4 2087.2L242.8 2087.2L252.2 2087.2L261.6 2082.4L271.0 2080.9L280.4 2073.5L289.8 2068.0L299.2 2068.0L308.6 2068.0L318.0 2068.0L327.4 2068.0L336.8 2068.0L346.2 2068.0L355.6 2049.7L365.0 2020.6L374.4 2017.9L383.8 2017.9L393.2 1983.4L402.6 1983.4L412.0 1983.4L421.4 1983.4L430.8 1983.4L440.2 1983.4L449.6 1983.4L459.0 1981.2L468.4 1979.5L477.8 1963.4L487.2 1958.3L496.6 1952.4L506.0 1946.2L515.4 1943.0L524.8 1889.4L534.2 1850.1L543.6 1847.8L553.0 1847.8L562.4 1845.6L571.8 1843.6L581.2 1843.6L590.6 1843.6L600.0 1843.6L609.4 1811.6L618.7 1811.6L628.1 1811.6L637.5 1811.6L646.9 1811.6L656.3 1811.6L665.7 1811.6L675.1 1811.6L684.5 1811.6L693.9 1811.6L703.3 1808.6L712.7 1802.5L722.1 1802.5L731.5 1802.5L740.9 1802.5L750.3 1802.5L759.7 1799.9L769.1 1798.6L778.5 1798.6L787.9 1798.6L797.3 1788.9L806.7 1787.5L816.1 1783.2L825.5 1774.3L834.9 1768.2L844.3 1768.2L853.7 1768.2L863.1 1752.7L872.5 1752.0L881.9 1736.0L891.3 1735.8L900.7 1735.8L910.1 1734.7L919.5 1733.1L928.9 1733.0L938.3 1720.8L947.7 1720.3L957.1 1705.7L966.5 1696.3L975.9 1696.1L985.3 1696.1L994.7 1682.2L1004.1 1682.2L1013.5 1682.2L1022.9 1682.2L1032.3 1682.2L1041.7 1682.2L1051.1 1682.2L1060.5 1682.2L1069.9 1682.2L1079.3 1682.2L1088.7 1680.0L1098.1 1677.4L1107.5 1677.4L1116.9 1669.2L1126.3 1662.8L1135.7 1655.6L1145.1 1652.3L1154.5 1637.5L1163.9 1637.5L1173.3 1637.5L1182.7 1637.5L1192.1 1637.5L1201.5 1637.5L1210.9 1637.5L1220.3 1636.7L1229.7 1629.8L1239.1 1624.0L1248.5 1618.7L1257.9 1612.9L1267.3 1608.5L1276.7 1607.9L1286.1 1583.7L1295.5 1583.7L1304.9 1583.7L1314.3 1583.7L1323.7 1570.2L1333.1 1557.2L1342.5 1557.2L1351.9 1557.2L1361.3 1557.2L1370.7 1557.2L1380.1 1557.2L1389.5 1557.2L1398.9 1557.2L1408.3 1557.2L1417.7 1557.2L1427.1 1557.2L1436.5 1557.2L1445.9 1557.2L1455.3 1551.9L1464.7 1551.9L1474.1 1546.9L1483.5 1545.3L1492.8 1529.3L1502.2 1482.9L1511.6 1447.2L1521.0 1447.2L1530.4 1447.2L1539.8 1447.2L1549.2 1447.2L1558.6 1447.2L1568.0 1447.2L1577.4 1447.2L1586.8 1445.8L1596.2 1445.8L1605.6 1445.8L1615.0 1445.8L1624.4 1445.8L1633.8 1445.8L1643.2 1430.0L1652.6 1430.0L1662.0 1430.0L1671.4 1430.0L1680.8 1430.0L1690.2 1430.0L1699.6 1430.0L1709.0 1430.0L1718.4 1429.8L1727.8 1428.0L1737.2 1415.2L1746.6 1415.2L1756.0 1412.4L1765.4 1412.4L1774.8 1412.4L1784.2 1412.4L1793.6 1408.6L1803.0 1378.2L1812.4 1378.0L1821.8 1365.1L1831.2 1365.1L1840.6 1361.5L1850.0 1356.7L1859.4 1356.7L1868.8 1356.7L1878.2 1356.7L1887.6 1356.7L1897.0 1356.7L1906.4 1356.7L1915.8 1356.7L1925.2 1356.7L1934.6 1356.7L1944.0 1356.7L1953.4 1354.3L1962.8 1354.3L1972.2 1354.3L1981.6 1354.3L1991.0 1354.3L2000.4 1354.3L2009.8 1354.3L2019.2 1354.3L2028.6 1354.3L2038.0 1354.3L2047.4 1352.0L2056.8 1344.8L2066.2 1343.4L2075.6 1317.9L2085.0 1316.7L2094.4 1316.7L2103.8 1316.7L2113.2 1316.7L2122.6 1316.7L2132.0 1316.7L2141.4 1316.7L2150.8 1316.5L2160.2 1316.5L2169.6 1316.5L2179.0 1316.5L2188.4 1316.5L2197.8 1316.5L2207.2 1316.5L2216.6 1316.5L2226.0 1316.5L2235.4 1316.5L2244.8 1316.5L2254.2 1316.5L2263.6 1313.3L2273.0 1313.3L2282.4 1304.2L2291.8 1301.4L2301.2 1300.7L2310.6 1294.1L2320.0 1293.5L2329.4 1291.9L2338.8 1291.9L2348.2 1285.6L2357.5 1268.1L2366.9 1263.9L2376.3 1233.1L2385.7 1229.8L2395.1 1229.8L2404.5 1229.8L2413.9 1229.8L2423.3 1229.8L2432.7 1217.0L2442.1 1217.0L2451.5 1216.6L2460.9 1204.9L2470.3 1204.9L2479.7 1204.9L2489.1 1204.9L2498.5 1204.9L2507.9 1204.9L2517.3 1196.5L2526.7 1195.9L2536.1 1191.0L2545.5 1191.0L2554.9 1191.0L2564.3 1191.0L2573.7 1191.0L2583.1 1191.0L2592.5 1191.0L2601.9 1185.7L2611.3 1174.9L2620.7 1170.3L2630.1 1170.3L2639.5 1170.2L2648.9 1166.9L2658.3 1166.9L2667.7 1166.9L2677.1 1166.9L2686.5 1166.9L2695.9 1166.0L2705.3 1165.3L2714.7 1165.3L2724.1 1159.5L2733.5 1159.5L2742.9 1159.5L2752.3 1159.5L2761.7 1159.5L2771.1 1159.5L2780.5 1159.0L2789.9 1157.3L2799.3 1148.2L2808.7 1137.9L2818.1 1137.9L2827.5 1130.9L2836.9 1130.9L2846.3 1118.4L2855.7 1116.5L2865.1 1115.3L2874.5 1113.0L2883.9 1113.0L2893.3 1113.0L2902.7 1113.0L2912.1 1113.0L2921.5 1113.0L2930.9 1113.0L2940.3 1113.0L2949.7 1113.0L2959.1 1113.0L2968.5 1113.0L2977.9 1113.0L2987.3 1113.0L2996.7 1113.0L3006.1 1113.0L3015.5 1113.0L3024.9 1113.0L3034.3 1113.0L3043.7 1110.6L3053.1 1100.1L3062.5 1081.1L3071.9 1073.1L3081.3 1073.1L3090.7 1073.1L3100.1 1051.3L3109.5 1051.3L3118.9 1051.3L3128.3 1051.3L3137.7 1051.3L3147.1 1008.6L3156.5 1008.5L3165.9 1003.7L3175.3 1003.7L3184.7 1003.7L3194.1 1003.7L3203.5 1000.6L3212.9 1000.6L3222.3 991.3L3231.6 991.3L3241.0 990.7L3250.4 990.2L3259.8 990.2L3269.2 990.2L3278.6 985.9L3288.0 985.9L3297.4 985.9L3306.8 985.9L3316.2 985.9L3325.6 980.4L3335.0 979.5L3344.4 969.0L3353.8 969.0L3363.2 969.0L3372.6 969.0L3382.0 969.0L3391.4 966.3L3400.8 966.3L3410.2 966.3L3419.6 963.5L3429.0 945.5L3438.4 944.4L3447.8 944.4L3457.2 944.4L3466.6 944.4L3476.0 944.4L3485.4 939.1L3494.8 939.1L3504.2 939.1L3513.6 935.9L3523.0 924.6L3532.4 923.9L3541.8 923.9L3551.2 917.9L3560.6 908.1L3570.0 908.1L3579.4 908.1L3588.8 908.1L3598.2 908.1L3607.6 908.1L3617.0 908.1L3626.4 908.1L3635.8 869.5L3645.2 848.0"/>
<path stroke="#085395" d="M224.0 2114.6L233.4 2114.6L242.8 2114.6L252.2 2114.6L261.6 2114.6L271.0 2098.9L280.4 2098.9L289.8 2098.9L299.2 2098.9L308.6 2098.9L318.0 2091.8L327.4 2091.8L336.8 2091.8L346.2 2091.8L355.6 2079.6L365.0 2079.6L374.4 2079.6L383.8 2038.2L393.2 2028.1L402.6 2022.6L412.0 2014.1L421.4 2011.2L430.8 2007.5L440.2 2003.5L449.6 2002.9L459.0 1989.8L468.4 1973.5L477.8 1966.8L487.2 1913.2L496.6 1908.3L506.0 1878.6L515.4 1878.6L524.8 1878.6L534.2 1878.6L543.6 1869.6L553.0 1850.2L562.4 1831.8L571.8 1822.4L581.2 1820.8L590.6 1799.8L600.0 1799.8L609.4 1799.8L618.7 1799.8L628.1 1799.8L637.5 1799.8L646.9 1799.8L656.3 1799.8L665.7 1799.8L675.1 1789.1L684.5 1780.7L693.9 1778.8L703.3 1778.1L712.7 1778.1L722.1 1778.1L731.5 1778.1L740.9 1778.1L750.3 1778.1L759.7 1776.4L769.1 1775.4L778.5 1773.9L787.9 1773.3L797.3 1769.0L806.7 1769.0L816.1 1769.0L825.5 1766.5L834.9 1766.5L844.3 1766.5L853.7 1763.8L863.1 1763.8L872.5 1763.8L881.9 1763.8L891.3 1763.8L900.7 1756.7L910.1 1738.1L919.5 1738.1L928.9 1738.1L938.3 1732.2L947.7 1730.8L957.1 1730.8L966.5 1730.8L975.9 1713.1L985.3 1712.4L994.7 1707.9L1004.1 1695.0L1013.5 1690.3L1022.9 1686.1L1032.3 1634.3L1041.7 1634.3L1051.1 1634.3L1060.5 1626.3L1069.9 1624.8L1079.3 1612.4L1088.7 1611.8L1098.1 1589.0L1107.5 1588.1L1116.9 1583.9L1126.3 1577.8L1135.7 1577.6L1145.1 1568.9L1154.5 1561.8L1163.9 1561.8L1173.3 1561.8L1182.7 1561.8L1192.1 1544.5L1201.5 1544.5L1210.9 1544.5L1220.3 1542.9L1229.7 1535.4L1239.1 1527.5L1248.5 1508.6L1257.9 1508.6L1267.3 1508.6L1276.7 1497.8L1286.1 1497.8L1295.5 1497.8L1304.9 1497.8L1314.3 1497.8L1323.7 1497.8L1333.1 1497.8L1342.5 1497.8L1351.9 1497.8L1361.3 1497.8L1370.7 1497.8L1380.1 1497.8L1389.5 1497.7L1398.9 1473.4L1408.3 1473.4L1417.7 1473.4L1427.1 1473.4L1436.5 1469.1L1445.9 1443.4L1455.3 1439.1L1464.7 1439.1L1474.1 1439.1L1483.5 1439.1L1492.8 1439.1L1502.2 1439.1L1511.6 1439.1L1521.0 1439.1L1530.4 1432.5L1539.8 1428.9L1549.2 1401.1L1558.6 1370.6L1568.0 1370.6L1577.4 1370.5L1586.8 1367.6L1596.2 1367.6L1605.6 1367.6L1615.0 1367.6L1624.4 1367.6L1633.8 1367.6L1643.2 1367.6L1652.6 1359.6L1662.0 1359.0L1671.4 1359.0L1680.8 1359.0L1690.2 1359.0L1699.6 1359.0L1709.0 1359.0L1718.4 1359.0L1727.8 1359.0L1737.2 1359.0L1746.6 1359.0L1756.0 1359.0L1765.4 1359.0L1774.8 1359.0L1784.2 1359.0L1793.6 1359.0L1803.0 1359.0L1812.4 1359.0L1821.8 1359.0L1831.2 1359.0L1840.6 1359.0L1850.0 1356.2L1859.4 1338.8L1868.8 1334.0L1878.2 1334.0L1887.6 1299.0L1897.0 1290.9L1906.4 1273.1L1915.8 1273.1L1925.2 1273.1L1934.6 1273.1L1944.0 1273.1L1953.4 1273.1L1962.8 1273.1L1972.2 1273.1L1981.6 1273.1L1991.0 1273.1L2000.4 1273.1L2009.8 1254.1L2019.2 1232.9L2028.6 1229.6L2038.0 1229.6L2047.4 1229.6L2056.8 1229.6L2066.2 1226.5L2075.6 1219.7L2085.0 1219.7L2094.4 1219.7L2103.8 1219.7L2113.2 1219.7L2122.6 1219.7L2132.0 1219.7L2141.4 1219.7L2150.8 1219.7L2160.2 1219.7L2169.6 1219.7L2179.0 1219.7L2188.4 1219.7L2197.8 1219.7L2207.2 1219.7L2216.6 1219.7L2226.0 1219.7L2235.4 1219.7L2244.8 1216.7L2254.2 1216.0L2263.6 1209.9L2273.0 1209.9L2282.4 1209.9L2291.8 1209.9L2301.2 1209.9L2310.6 1209.9L2320.0 1209.9L2329.4 1209.9L2338.8 1209.9L2348.2 1209.9L2357.5 1209.9L2366.9 1209.9L2376.3 1209.9L2385.7 1209.9L2395.1 1209.9L2404.5 1209.9L2413.9 1209.9L2423.3 1208.7L2432.7 1207.9L2442.1 1197.2L2451.5 1197.2L2460.9 1197.2L2470.3 1197.2L2479.7 1197.2L2489.1 1197.2L2498.5 1197.2L2507.9 1187.6L2517.3 1183.4L2526.7 1180.0L2536.1 1172.7L2545.5 1172.7L2554.9 1172.7L2564.3 1172.7L2573.7 1172.7L2583.1 1172.7L2592.5 1172.7L2601.9 1172.7L2611.3 1172.7L2620.7 1172.7L2630.1 1172.7L2639.5 1172.7L2648.9 1172.7L2658.3 1172.7L2667.7 1172.7L2677.1 1172.7L2686.5 1162.1L2695.9 1158.5L2705.3 1146.7L2714.7 1144.1L2724.1 1123.0L2733.5 1123.0L2742.9 1123.0L2752.3 1123.0L2761.7 1123.0L2771.1 1123.0L2780.5 1123.0L2789.9 1123.0L2799.3 1123.0L2808.7 1123.0L2818.1 1123.0L2827.5 1123.0L2836.9 1123.0L2846.3 1123.0L2855.7 1123.0L2865.1 1123.0L2874.5 1123.0L2883.9 1104.9L2893.3 1100.4L2902.7 1082.3L2912.1 1082.3L2921.5 1066.8L2930.9 1066.8L2940.3 1066.8L2949.7 1066.8L2959.1 1066.8L2968.5 1066.8L2977.9 1066.8L2987.3 1066.8L2996.7 1066.8L3006.1 1066.8L3015.5 1066.8L3024.9 1066.8L3034.3 1066.8L3043.7 1066.8L3053.1 1066.8L3062.5 1055.6L3071.9 1054.0L3081.3 1054.0L3090.7 1054.0L3100.1 1054.0L3109.5 1053.8L3118.9 1053.8L3128.3 1053.8L3137.7 1053.8L3147.1 1053.8L3156.5 1053.8L3165.9 1040.4L3175.3 1035.2L3184.7 1034.0L3194.1 1029.9L3203.5 1013.1L3212.9 1009.1L3222.3 1009.1L3231.6 980.7L3241.0 979.2L3250.4 979.2L3259.8 979.2L3269.2 979.2L3278.6 979.2L3288.0 979.2L3297.4 979.2L3306.8 979.2L3316.2 979.2L3325.6 959.9L3335.0 959.9L3344.4 950.9L3353.8 947.9L3363.2 947.9L3372.6 947.2L3382.0 910.8L3391.4 901.9L3400.8 897.3L3410.2 897.3L3419.6 895.3L3429.0 894.8L3438.4 894.8L3447.8 894.8L3457.2 889.2L3466.6 881.0L3476.0 870.2L3485.4 870.2L3494.8 870.2L3504.2 870.2L3513.6 870.2L3523.0 870.2L3532.4 870.2L3541.8 870.2L3551.2 870.2L3560.6 870.2L3570.0 870.2L3579.4 857.8L3588.8 856.6L3598.2 856.6L3607.6 856.6L3617.0 856.6L3626.4 842.3L3635.8 841.0L3645.2 841.0"/>
<path stroke="#084f91" d="M224.0 2064.4L233.4 2064.0L242.8 2045.9L252.2 2034.8L261.6 2034.8L271.0 2034.8L280.4 2034.8L289.8 2030.4L299.2 2021.0L308.6 2017.4L318.0 2017.4L327.4 2017.4L336.8 1966.7L346.2 1956.5L355.6 1948.1L365.0 1948.1L374.4 1948.1L383.8 1948.1L393.2 1948.1L402.6 1934.8L412.0 1932.0L421.4 1930.5L430.8 1929.8L440.2 1916.2L449.6 1907.2L459.0 1884.8L468.4 1884.6L477.8 1884.6L487.2 1884.6L496.6 1884.6L506.0 1884.6L515.4 1884.6L524.8 1884.6L534.2 1884.6L543.6 1868.2L553.0 1866.2L562.4 1858.3L571.8 1857.8L581.2 1857.8L590.6 1851.8L600.0 1846.8L609.4 1846.8L618.7 1846.8L628.1 1846.8L637.5 1846.8L646.9 1846.8L656.3 1846.8L665.7 1846.8L675.1 1846.8L684.5 1846.8L693.9 1831.3L703.3 1827.9L712.7 1825.8L722.1 1815.0L731.5 1815.0L740.9 1815.0L750.3 1810.0L759.7 1792.1L769.1 1779.8L778.5 1779.8L787.9 1777.7L797.3 1777.7L806.7 1777.7L816.1 1772.8L825.5 1772.8L834.9 1772.8L844.3 1770.9L853.7 1770.9L863.1 1768.0L872.5 1744.1L881.9 1731.9L891.3 1730.7L900.7 1712.3L910.1 1698.3L919.5 1695.8L928.9 1693.7L938.3 1692.6L947.7 1692.6L957.1 1692.6L966.5 1690.2L975.9 1690.2L985.3 1690.2L994.7 1690.2L1004.1 1690.2L1013.5 1690.2L1022.9 1690.2L1032.3 1690.2L1041.7 1690.2L1051.1 1690.2L1060.5 1690.2L1069.9 1690.2L1079.3 1690.2L1088.7 1690.2L1098.1 1687.6L1107.5 1679.7L1116.9 1673.0L1126.3 1663.2L1135.7 1663.2L1145.1 1663.2L1154.5 1659.8L1163.9 1659.7L1173.3 1659.0L1182.7 1659.0L1192.1 1659.0L1201.5 1659.0L1210.9 1659.0L1220.3 1659.0L1229.7 1659.0L1239.1 1648.1L1248.5 1648.1L1257.9 1648.1L1267.3 1648.1L1276.7 1648.1L1286.1 1648.1L1295.5 1636.3L1304.9 1634.4L1314.3 1633.2L1323.7 1630.3L1333.1 1625.6L1342.5 1615.5L1351.9 1612.0L1361.3 1600.8L1370.7 1599.4L1380.1 1598.7L1389.5 1593.4L1398.9 1583.2L1408.3 1583.2L1417.7 1583.2L1427.1 1583.2L1436.5 1575.6L1445.9 1575.6L1455.3 1575.6L1464.7 1575.6L1474.1 1566.4L1483.5 1533.9L1492.8 1517.6L1502.2 1515.6L1511.6 1514.6L1521.0 1503.5L1530.4 1503.5L1539.8 1503.5L1549.2 1496.9L1558.6 1490.7L1568.0 1490.7L1577.4 1490.7L1586.8 1490.7L1596.2 1490.7L1605.6 1490.7L1615.0 1490.7L1624.4 1490.7L1633.8 1490.7L1643.2 1490.7L1652.6 1490.7L1662.0 1490.7L1671.4 1490.7L1680.8 1474.8L1690.2 1465.3L1699.6 1465.3L1709.0 1453.2L1718.4 1453.2L1727.8 1453.2L1737.2 1453.2L1746.6 1453.2L1756.0 1453.2L1765.4 1453.2L1774.8 1453.2L1784.2 1453.2L1793.6 1453.2L1803.0 1453.2L1812.4 1453.2L1821.8 1453.2L1831.2 1453.2L1840.6 1453.2L1850.0 1453.2L1859.4 1453.2L1868.8 1453.2L1878.2 1448.4L1887.6 1439.7L1897.0 1426.2L1906.4 1425.8L1915.8 1425.8L1925.2 1396.3L1934.6 1396.3L1944.0 1396.3L1953.4 1396.3L1962.8 1393.2L1972.2 1391.6L1981.6 1362.6L1991.0 1325.6L2000.4 1325.6L2009.8 1325.6L2019.2 1325.6L2028.6 1324.3L2038.0 1320.8L2047.4 1320.8L2056.8 1320.8L2066.2 1320.8L2075.6 1320.8L2085.0 1318.7L2094.4 1313.6L2103.8 1295.8L2113.2 1295.8L2122.6 1295.8L2132.0 1295.8L2141.4 1295.8L2150.8 1295.8L2160.2 1295.8L2169.6 1295.8L2179.0 1295.8L2188.4 1295.8L2197.8 1295.8L2207.2 1295.8L2216.6 1295.8L2226.0 1295.7L2235.4 1295.6L2244.8 1285.6L2254.2 1285.6L2263.6 1285.6L2273.0 1285.6L2282.4 1285.6L2291.8 1285.6L2301.2 1285.6L2310.6 1276.3L2320.0 1276.3L2329.4 1274.1L2338.8 1274.1L2348.2 1274.1L2357.5 1274.1L2366.9 1266.2L2376.3 1266.2L2385.7 1266.2L2395.1 1253.0L2404.5 1253.0L2413.9 1253.0L2423.3 1253.0L2432.7 1253.0L2442.1 1253.0L2451.5 1250.9L2460.9 1250.9L2470.3 1250.9L2479.7 1250.9L2489.1 1250.9L2498.5 1250.9L2507.9 1250.9L2517.3 1250.9L2526.7 1250.9L2536.1 1250.9L2545.5 1250.9L2554.9 1250.9L2564.3 1250.9L2573.7 1250.9L2583.1 1250.9L2592.5 1250.9L2601.9 1250.9L2611.3 1250.9L2620.7 1250.9L2630.1 1250.9L2639.5 1250.9L2648.9 1250.9L2658.3 1250.9L2667.7 1250.6L2677.1 1250.6L2686.5 1250.6L2695.9 1250.6L2705.3 1250.6L2714.7 1250.6L2724.1 1250.6L2733.5 1250.6L2742.9 1250.6L2752.3 1250.6L2761.7 1247.0L2771.1 1239.9L2780.5 1232.5L2789.9 1230.7L2799.3 1225.5L2808.7 1214.5L2818.1 1208.6L2827.5 1208.6L2836.9 1208.6L2846.3 1207.8L2855.7 1202.1L2865.1 1202.1L2874.5 1202.1L2883.9 1202.1L2893.3 1202.1L2902.7 1202.1L2912.1 1202.1L2921.5 1202.1L2930.9 1198.5L2940.3 1167.7L2949.7 1161.2L2959.1 1153.4L2968.5 1151.2L2977.9 1151.2L2987.3 1151.2L2996.7 1151.2L3006.1 1151.2L3015.5 1146.4L3024.9 1146.4L3034.3 1146.4L3043.7 1112.3L3053.1 1112.1L3062.5 1110.4L3071.9 1091.3L3081.3 1091.3L3090.7 1091.3L3100.1 1091.3L3109.5 1091.3L3118.9 1043.4L3128.3 1032.7L3137.7 1032.7L3147.1 1032.7L3156.5 1032.7L3165.9 1032.7L3175.3 1032.7L3184.7 1032.7L3194.1 1032.7L3203.5 1032.7L3212.9 1032.7L3222.3 1032.7L3231.6 1015.3L3241.0 1015.3L3250.4 1009.6L3259.8 991.4L3269.2 986.5L3278.6 982.0L3288.0 982.0L3297.4 982.0L3306.8 982.0L3316.2 982.0L3325.6 982.0L3335.0 982.0L3344.4 982.0L3353.8 981.1L3363.2 981.1L3372.6 981.1L3382.0 981.1L3391.4 978.5L3400.8 978.5L3410.2 978.5L3419.6 978.5L3429.0 978.5L3438.4 978.5L3447.8 978.5L3457.2 978.5L3466.6 978.5L3476.0 978.5L3485.4 978.5L3494.8 966.6L3504.2 966.0L3513.6 941.7L3523.0 941.7L3532.4 941.7L3541.8 900.7L3551.2 897.2L3560.6 873.0L3570.0 862.5L3579.4 859.5L3588.8 858.7L3598.2 844.7L3607.6 844.7L3617.0 844.7L3626.4 835.0L3635.8 830.0L3645.2 830.0"/>
<path stroke="#084b8d" d="M224.0 2111.8L233.4 2096.4L242.8 2092.6L252.2 2078.1L261.6 2071.0L271.0 2067.2L280.4 2051.6L289.8 2051.6L299.2 2049.9L308.6 2047.9L318.0 2045.4L327.4 2042.6L336.8 2036.9L346.2 2036.9L355.6 1997.4L365.0 1997.4L374.4 1997.4L383.8 1993.5L393.2 1991.6L402.6 1989.9L412.0 1984.9L421.4 1984.9L430.8 1981.4L440.2 1927.9L449.6 1925.7L459.0 1925.4L468.4 1908.9L477.8 1908.9L487.2 1908.9L496.6 1908.9L506.0 1908.9L515.4 1908.9L524.8 1908.9L534.2 1908.3L543.6 1903.7L553.0 1899.9L562.4 1890.6L571.8 1890.6L581.2 1889.4L590.6 1888.0L600.0 1888.0L609.4 1888.0L618.7 1886.5L628.1 1886.3L637.5 1880.2L646.9 1880.2L656.3 1880.2L665.7 1880.2L675.1 1880.2L684.5 1880.2L693.9 1880.2L703.3 1880.2L712.7 1880.2L722.1 1869.4L731.5 1867.5L740.9 1861.2L750.3 1855.2L759.7 1821.0L769.1 1815.4L778.5 1815.4L787.9 1815.4L797.3 1809.7L806.7 1809.7L816.1 1809.7L825.5 1809.7L834.9 1809.7L844.3 1809.7L853.7 1809.7L863.1 1791.6L872.5 1791.6L881.9 1791.6L891.3 1791.6L900.7 1788.0L910.1 1777.0L919.5 1777.0L928.9 1777.0L938.3 1777.0L947.7 1777.0L957.1 1777.0L966.5 1745.7L975.9 1720.4L985.3 1718.8L994.7 1718.8L1004.1 1718.8L1013.5 1718.8L1022.9 1718.8L1032.3 1718.8L1041.7 1718.8L1051.1 1707.7L1060.5 1707.7L1069.9 1707.7L1079.3 1677.8L1088.7 1624.2L1098.1 1624.2L1107.5 1624.2L1116.9 1621.3L1126.3 1604.4L1135.7 1604.4L1145.1 1604.4L1154.5 1602.8L1163.9 1576.9L1173.3 1576.9L1182.7 1576.9L1192.1 1576.9L1201.5 1576.2L1210.9 1562.4L1220.3 1562.4L1229.7 1562.4L1239.1 1562.4L1248.5 1562.2L1257.9 1562.2L1267.3 1562.2L1276.7 1562.2L1286.1 1562.2L1295.5 1562.2L1304.9 1562.2L1314.3 1562.2L1323.7 1562.2L1333.1 1562.2L1342.5 1562.2L1351.9 1562.2L1361.3 1562.2L1370.7 1562.2L1380.1 1562.2L1389.5 1562.2L1398.9 1536.8L1408.3 1536.8L1417.7 1536.8L1427.1 1536.8L1436.5 1525.5L1445.9 1512.8L1455.3 1512.8L1464.7 1512.8L1474.1 1512.8L1483.5 1512.8L1492.8 1512.8L1502.2 1512.8L1511.6 1512.8L1521.0 1512.8L1530.4 1512.8L1539.8 1504.3L1549.2 1479.6L1558.6 1479.6L1568.0 1479.6L1577.4 1479.6L1586.8 1479.6L1596.2 1478.5L1605.6 1478.5L1615.0 1478.5L1624.4 1478.5L1633.8 1478.5L1643.2 1478.5L1652.6 1478.5L1662.0 1478.5L1671.4 1435.5L1680.8 1427.3L1690.2 1427.3L1699.6 1427.3L1709.0 1427.3L1718.4 1427.3L1727.8 1427.3L1737.2 1427.3L1746.6 1427.3L1756.0 1427.3L1765.4 1426.5L1774.8 1414.9L1784.2 1414.9L1793.6 1414.9L1803.0 1414.9L1812.4 1414.9L1821.8 1412.7L1831.2 1381.9L1840.6 1381.9L1850.0 1379.0L1859.4 1357.9L1868.8 1357.9L1878.2 1357.9L1887.6 1357.9L1897.0 1357.9L1906.4 1354.9L1915.8 1354.5L1925.2 1354.5L1934.6 1354.5L1944.0 1354.5L1953.4 1354.5L1962.8 1348.6L1972.2 1348.6L1981.6 1348.6L1991.0 1348.6L2000.4 1339.2L2009.8 1339.2L2019.2 1339.2L2028.6 1339.2L2038.0 1334.9L2047.4 1331.4L2056.8 1328.8L2066.2 1324.3L2075.6 1324.3L2085.0 1323.2L2094.4 1321.3L2103.8 1320.1L2113.2 1319.5L2122.6 1318.1L2132.0 1311.3L2141.4 1309.8L2150.8 1309.8L2160.2 1309.8L2169.6 1309.8L2179.0 1309.8L2188.4 1309.8L2197.8 1309.8L2207.2 1309.8L2216.6 1309.8L2226.0 1309.8L2235.4 1309.8L2244.8 1308.8L2254.2 1304.0L2263.6 1289.9L2273.0 1269.6L2282.4 1269.6L2291.8 1269.6L2301.2 1269.6L2310.6 1269.6L2320.0 1269.6L2329.4 1266.6L2338.8 1235.9L2348.2 1228.5L2357.5 1228.5L2366.9 1228.5L2376.3 1228.5L2385.7 1228.5L2395.1 1228.5L2404.5 1228.5L2413.9 1228.5L2423.3 1227.2L2432.7 1227.0L2442.1 1227.0L2451.5 1226.6L2460.9 1226.6L2470.3 1226.6L2479.7 1225.6L2489.1 1225.6L2498.5 1225.6L2507.9 1225.6L2517.3 1225.6L2526.7 1225.6L2536.1 1225.6L2545.5 1225.6L2554.9 1225.6L2564.3 1217.5L2573.7 1217.5L2583.1 1217.5L2592.5 1217.5L2601.9 1217.5L2611.3 1217.5L2620.7 1217.5L2630.1 1217.5L2639.5 1217.5L2648.9 1217.5L2658.3 1217.5L2667.7 1215.8L2677.1 1214.6L2686.5 1213.9L2695.9 1213.9L2705.3 1213.9L2714.7 1213.9L2724.1 1213.9L2733.5 1183.1L2742.9 1153.3L2752.3 1151.8L2761.7 1141.2L2771.1 1141.2L2780.5 1141.2L2789.9 1141.2L2799.3 1141.2L2808.7 1133.9L2818.1 1133.9L2827.5 1133.4L2836.9 1104.9L2846.3 1104.9L2855.7 1104.9L2865.1 1104.9L2874.5 1104.9L2883.9 1104.9L2893.3 1104.9L2902.7 1104.9L2912.1 1101.7L2921.5 1101.5L2930.9 1087.2L2940.3 1087.2L2949.7 1087.2L2959.1 1087.2L2968.5 1087.2L2977.9 1087.2L2987.3 1087.2L2996.7 1087.2L3006.1 1087.2L3015.5 1087.2L3024.9 1087.2L3034.3 1087.2L3043.7 1083.2L3053.1 1078.0L3062.5 1078.0L3071.9 1071.7L3081.3 1071.7L3090.7 1071.7L3100.1 1070.4L3109.5 1070.4L3118.9 1070.4L3128.3 1065.3L3137.7 1065.3L3147.1 1065.3L3156.5 1065.3L3165.9 1065.3L3175.3 1065.3L3184.7 1065.3L3194.1 1065.3L3203.5 1065.3L3212.9 1057.8L3222.3 1057.8L3231.6 1057.8L3241.0 1057.8L3250.4 1057.8L3259.8 1053.4L3269.2 1053.4L3278.6 1053.4L3288.0 1053.3L3297.4 1053.1L3306.8 1053.1L3316.2 1053.1L3325.6 1052.6L3335.0 1052.6L3344.4 1038.6L3353.8 1038.6L3363.2 1038.4L3372.6 1011.1L3382.0 1010.7L3391.4 1010.7L3400.8 1006.2L3410.2 1006.1L3419.6 998.9L3429.0 969.7L3438.4 967.9L3447.8 948.6L3457.2 948.6L3466.6 912.2L3476.0 905.4L3485.4 905.4L3494.8 905.4L3504.2 905.4L3513.6 905.4L3523.0 905.4L3532.4 905.4L3541.8 899.8L3551.2 899.5L3560.6 878.7L3570.0 875.8L3579.4 875.8L3588.8 858.2L3598.2 858.2L3607.6 858.2L3617.0 858.2L3626.4 858.2L3635.8 846.6L3645.2 822.3L3654.6 812.0"/>
<path stroke="#084485" d="M224.0 2114.8L233.4 2114.8L242.8 2114.8L252.2 2114.8L261.6 2114.8L271.0 2114.8L280.4 2114.8L289.8 2114.8L299.2 2114.8L308.6 2070.4L318.0 2068.1L327.4 2056.4L336.8 2033.3L346.2 2033.3L355.6 2033.3L365.0 2033.3L374.4 2011.5L383.8 2011.5L393.2 2011.5L402.6 2011.5L412.0 2011.5L421.4 2011.5L430.8 2011.5L440.2 2001.8L449.6 1997.2L459.0 1997.2L468.4 1996.2L477.8 1967.4L487.2 1962.5L496.6 1930.5L506.0 1930.5L515.4 1927.0L524.8 1921.2L534.2 1901.1L543.6 1901.1L553.0 1901.1L562.4 1901.1L571.8 1897.5L581.2 1893.9L590.6 1893.7L600.0 1892.0L609.4 1886.9L618.7 1854.0L628.1 1841.1L637.5 1814.3L646.9 1814.3L656.3 1814.3L665.7 1814.3L675.1 1814.3L684.5 1814.3L693.9 1814.3L703.3 1814.3L712.7 1814.3L722.1 1813.7L731.5 1813.7L740.9 1810.0L750.3 1807.9L759.7 1783.4L769.1 1783.4L778.5 1783.4L787.9 1783.4L797.3 1783.4L806.7 1774.4L816.1 1766.7L825.5 1766.1L834.9 1765.7L844.3 1765.7L853.7 1765.7L863.1 1765.7L872.5 1752.8L881.9 1750.5L891.3 1750.2L900.7 1742.8L910.1 1742.5L919.5 1735.5L928.9 1735.3L938.3 1733.1L947.7 1726.7L957.1 1726.7L966.5 1726.7L975.9 1720.8L985.3 1714.1L994.7 1704.8L1004.1 1699.5L1013.5 1697.9L1022.9 1687.5L1032.3 1685.0L1041.7 1676.8L1051.1 1675.0L1060.5 1675.0L1069.9 1675.0L1079.3 1675.0L1088.7 1675.0L1098.1 1675.0L1107.5 1667.3L1116.9 1667.3L1126.3 1667.3L1135.7 1667.3L1145.1 1667.3L1154.5 1667.3L1163.9 1666.6L1173.3 1656.0L1182.7 1654.9L1192.1 1621.6L1201.5 1621.6L1210.9 1621.6L1220.3 1621.6L1229.7 1621.6L1239.1 1606.2L1248.5 1606.2L1257.9 1603.9L1267.3 1589.2L1276.7 1589.2L1286.1 1589.2L1295.5 1589.2L1304.9 1589.2L1314.3 1589.2L1323.7 1589.2L1333.1 1587.4L1342.5 1560.3L1351.9 1550.6L1361.3 1550.6L1370.7 1548.5L1380.1 1548.5L1389.5 1537.1L1398.9 1519.4L1408.3 1519.4L1417.7 1501.5L1427.1 1499.3L1436.5 1485.5L1445.9 1473.5L1455.3 1472.9L1464.7 1472.9L1474.1 1472.9L1483.5 1472.9L1492.8 1472.9L1502.2 1472.9L1511.6 1472.9L1521.0 1472.9L1530.4 1472.9L1539.8 1472.9L1549.2 1472.9L1558.6 1472.9L1568.0 1465.1L1577.4 1458.6L1586.8 1458.6L1596.2 1458.6L1605.6 1458.6L1615.0 1458.6L1624.4 1458.6L1633.8 1454.3L1643.2 1454.3L1652.6 1454.3L1662.0 1454.3L1671.4 1454.3L1680.8 1454.3L1690.2 1454.3L1699.6 1454.3L1709.0 1454.3L1718.4 1454.3L1727.8 1454.3L1737.2 1454.3L1746.6 1454.3L1756.0 1454.3L1765.4 1454.3L1774.8 1454.3L1784.2 1454.3L1793.6 1453.0L1803.0 1446.9L1812.4 1445.0L1821.8 1445.0L1831.2 1445.0L1840.6 1436.8L1850.0 1436.8L1859.4 1436.8L1868.8 1435.7L1878.2 1435.7L1887.6 1435.7L1897.0 1435.7L1906.4 1435.7L1915.8 1435.7L1925.2 1435.7L1934.6 1435.7L1944.0 1435.7L1953.4 1435.7L1962.8 1435.7L1972.2 1435.7L1981.6 1435.7L1991.0 1435.7L2000.4 1435.7L2009.8 1435.7L2019.2 1435.7L2028.6 1435.7L2038.0 1435.7L2047.4 1435.7L2056.8 1435.7L2066.2 1435.7L2075.6 1435.7L2085.0 1435.7L2094.4 1435.7L2103.8 1435.7L2113.2 1435.7L2122.6 1435.7L2132.0 1435.7L2141.4 1435.7L2150.8 1435.7L2160.2 1435.7L2169.6 1433.1L2179.0 1433.1L2188.4 1433.1L2197.8 1433.1L2207.2 1433.1L2216.6 1433.1L2226.0 1433.1L2235.4 1433.1L2244.8 1433.1L2254.2 1429.8L2263.6 1418.0L2273.0 1404.5L2282.4 1404.3L2291.8 1393.6L2301.2 1387.7L2310.6 1386.1L2320.0 1386.1L2329.4 1386.1L2338.8 1386.1L2348.2 1386.1L2357.5 1386.1L2366.9 1386.1L2376.3 1386.1L2385.7 1386.1L2395.1 1369.4L2404.5 1318.9L2413.9 1317.6L2423.3 1316.2L2432.7 1288.0L2442.1 1288.0L2451.5 1288.0L2460.9 1288.0L2470.3 1288.0L2479.7 1286.9L2489.1 1263.7L2498.5 1257.2L2507.9 1257.2L2517.3 1257.2L2583.5 1257.2L2593.5 1238.5L2600.0 1238.5L2687.2 1212.7L2704.6 1183.8L2781.9 1183.8L2785.7 1154.6L2789.4 1129.7L2806.9 1107.2L2818.1 1087.3L2846.8 1087.3L2855.5 1083.5L2865.5 1053.6L2874.2 1046.1L2894.1 1046.1L2901.6 1036.2L2949.0 1035.7L2959.0 1029.9L2988.9 1028.7L2997.6 1017.5L3071.2 1017.0L3081.2 1013.7L3091.1 1000.0L3127.4 970.1L3137.4 966.1L3156.1 966.1L3166.0 958.6L3176.0 931.7L3184.7 921.7L3212.2 921.7L3222.1 914.2L3232.1 891.8L3240.8 891.8L3250.8 881.0L3279.5 881.0L3288.2 876.8L3298.2 847.6L3306.9 843.9L3325.6 843.9L3334.4 840.6L3344.3 840.6L3354.3 836.9L3363.8 829.4L3373.0 828.9L3382.5 810.7L3391.7 810.7L3401.7 799.5L3410.4 785.0L3420.4 773.8L3429.1 773.8L3439.1 755.1L3448.6 740.9L3457.8 707.2L3467.3 696.0L3476.5 692.8L3513.9 692.8L3523.4 688.5L3580.0 688.5L3598.7 681.5L3617.4 681.5L3626.9 674.3L3636.1 659.4L3646.1 655.4"/>
<path stroke="#7bccc4" d="M2845.9 2102.7L2855.3 2091.5L2864.7 2091.5L2874.1 2069.0L2883.9 2032.1L2893.3 2032.1L2902.7 2028.8L3034.5 2028.8L3043.9 2025.2L3053.3 2018.0L3184.7 2018.0L3194.2 1995.5L3203.6 1983.9L3213.0 1977.1L3222.4 1977.1L3231.8 1966.2L3250.6 1966.2L3260.1 1958.6L3269.5 1921.7L3288.3 1906.8L3297.7 1884.7L3307.1 1881.1L3316.5 1881.1L3335.4 1873.9L3354.2 1873.9L3372.6 1852.1L3447.9 1852.1L3466.8 1837.3L3476.2 1833.7L3485.6 1822.5L3495.0 1807.6L3504.4 1804.0L3523.2 1804.0L3532.7 1767.1L3542.1 1752.2L3551.5 1748.2L3570.3 1748.2L3579.7 1737.4L3589.1 1733.4L3598.6 1722.5L3617.4 1722.5L3626.8 1704.1L3636.2 1689.2L3645.6 1681.6"/>
</g>
<g stroke-width="12.5">
<path stroke="#084081" d="M224.0 2114.2L233.4 2102.0L242.8 2092.5L252.2 2091.2L299.4 2089.0L308.8 2075.7L346.2 2075.7L355.6 2056.6L365.0 2043.4L398.0 2043.4L405.3 2030.0L412.4 2000.8L424.1 1999.7L439.3 1979.5L457.8 1978.7L462.8 1957.6L469.6 1934.0L478.0 1922.2L501.6 1921.9L515.1 1918.9L538.7 1918.5L550.5 1902.0L570.7 1891.9L600.0 1891.6L614.3 1891.9L664.4 1891.5L677.0 1885.2L689.5 1873.8L706.2 1864.4L722.9 1858.1L737.5 1843.5L743.8 1839.3L777.2 1838.3L787.7 1820.5L791.8 1817.4L802.3 1816.3L810.6 1803.8L816.9 1791.3L831.5 1779.8L839.9 1777.7L1019.5 1777.7L1029.9 1770.4L1036.2 1757.8L1042.5 1737.0L1050.8 1725.5L1060.0 1721.3L1064.7 1720.2L1077.3 1719.1L1087.7 1711.8L1106.5 1710.8L1117.0 1707.7L1162.9 1706.6L1171.3 1697.2L1181.7 1684.7L1198.4 1683.6L1210.9 1679.5L1229.7 1672.1L1240.2 1662.7L1252.7 1661.7L1261.1 1652.3L1269.4 1651.3L1277.8 1642.9L1286.1 1634.6L1325.8 1633.5L1355.1 1629.3L1378.0 1628.9L1388.5 1622.0L1426.1 1621.6L1436.5 1618.9L1474.1 1618.5L1484.5 1605.3L1492.9 1592.8L1497.1 1574.0L1500.0 1546.8L1509.9 1546.7L1517.3 1524.3L1524.8 1511.8L1532.3 1506.8L1542.3 1505.6L1557.2 1499.3L1567.2 1490.6L1585.9 1489.4L1594.6 1479.4L1604.6 1478.1L1614.6 1461.9L1624.6 1448.2L1634.5 1444.0L1649.5 1443.2L1662.0 1440.0L1766.7 1439.5L1776.7 1433.2L1824.1 1432.7L1839.0 1427.0L1849.0 1414.5L1859.0 1410.8L1888.9 1410.0L1906.4 1404.1L1943.8 1403.3L1953.7 1400.1L2050.0 1399.6L2066.1 1401.3L2074.8 1388.1L2189.5 1386.9L2197.0 1359.4L2207.0 1350.0L2291.8 1349.5L2301.7 1345.7L2339.2 1345.2L2349.1 1339.0L2461.3 1338.5L2471.3 1327.8L2583.5 1327.0L2593.5 1322.5L2600.0 1322.0L2629.8 1323.2L2639.8 1319.2L2648.5 1309.2L2657.2 1291.8L2667.2 1290.5L2685.9 1276.3L2959.0 1275.8L2969.0 1268.8L2996.4 1268.3L3006.4 1264.3L3010.1 1239.4L3013.8 1219.5L3023.8 1202.0L3051.2 1201.5L3061.2 1194.5L3106.1 1194.0L3118.6 1190.8L3131.0 1189.5L3143.5 1186.5L3150.0 1185.8L3194.7 1187.1L3207.2 1181.6L3219.7 1169.2L3232.1 1161.7L3242.1 1144.2L3252.1 1121.8L3260.8 1109.3L3279.5 1108.8L3287.0 1069.4L3297.0 1064.4L3306.9 1050.7L3324.4 1050.0L3336.9 1044.5L3344.3 1040.0L3356.8 1039.0L3366.8 1029.5L3373.0 1017.0L3383.0 1013.3L3390.5 994.6L3401.7 985.9L3411.7 977.1L3421.6 975.9L3431.6 959.7L3439.1 942.2L3449.1 922.3L3454.1 899.8L3456.6 889.9L3465.3 883.6L3476.5 879.9L3486.5 864.9L3496.5 864.4L3505.2 851.2L3533.9 850.4L3541.3 847.5L3551.3 825.7L3570.0 818.2L3580.0 807.0L3588.7 799.5L3598.7 772.1L3607.4 743.4L3616.2 722.2L3626.1 718.5L3631.1 698.5L3636.1 681.0L3646.1 677.3L3654.6 648.8"/>
<path stroke="#7bccc4" d="M272.3 2110.9L281.7 2103.4L291.0 2097.5L301.1 2087.4L309.5 2078.9L317.9 2073.0L328.1 2068.0L338.2 2065.5L402.2 2065.5L412.3 2061.2L430.8 2061.2L439.3 2055.3L446.0 2045.2L452.7 2031.8L459.5 2016.6L466.2 2006.5L473.0 2001.4L486.4 1998.1L503.3 1993.8L508.3 1993.0L600.0 1993.0L626.0 1989.2L639.6 1985.8L680.4 1985.8L697.4 1980.7L711.0 1972.2L719.6 1956.9L731.5 1948.4L748.5 1943.3L782.5 1933.1L809.7 1921.1L821.6 1916.0L826.7 1893.9L837.0 1892.2L942.4 1892.2L956.0 1882.0L970.0 1872.5L1015.3 1873.8L1027.8 1869.6L1060.0 1869.6L1097.3 1870.9L1117.2 1863.2L1127.2 1850.7L1139.7 1848.3L1154.6 1842.0L1219.5 1841.5L1229.4 1837.0L1239.4 1830.8L1501.2 1830.0L1511.2 1822.1L1521.2 1812.1L1576.1 1811.6L1588.5 1807.1L1600.0 1799.6L1677.2 1800.2L1687.2 1799.5L1821.8 1799.5L1831.8 1795.8L1840.5 1795.3L1849.3 1789.5L1859.2 1785.8L1962.7 1785.3L1972.7 1778.3L2008.9 1777.8L2018.8 1774.6L2150.0 1774.6L2187.3 1774.6L2198.5 1767.6L2394.3 1767.1L2405.5 1763.8L2545.1 1763.3L2556.4 1756.9L2573.8 1756.4L2583.8 1749.4L2592.5 1738.9L2610.0 1738.2L2621.2 1734.4L2638.7 1733.9L2648.6 1723.9L2658.6 1722.7L2667.3 1697.0L2677.3 1675.8L2687.3 1672.1L2700.0 1663.3L2761.0 1664.3L2772.2 1660.6L2779.7 1660.1L2797.1 1653.9L2809.6 1645.6L2837.0 1645.1L2847.0 1641.9L2893.1 1641.4L2903.1 1631.4L3044.0 1630.9L3061.5 1623.9L3071.4 1617.0L3081.4 1616.5L3091.4 1607.0L3100.1 1590.8L3108.9 1590.3L3127.6 1575.8L3137.5 1565.8L3183.7 1565.3L3193.6 1562.1L3203.6 1561.6L3213.6 1557.6L3221.1 1529.7L3231.0 1525.9L3243.5 1524.7L3250.0 1522.2L3254.6 1516.7L3259.6 1501.7L3267.0 1499.2L3297.0 1498.7L3306.9 1495.5L3344.3 1494.7L3354.3 1489.2L3364.3 1474.3L3373.0 1469.3L3399.2 1468.8L3411.7 1461.8L3427.9 1461.3L3439.1 1450.6L3457.8 1443.1L3532.6 1442.6L3542.6 1435.6L3551.3 1429.4L3560.0 1425.6L3570.0 1409.4L3616.2 1408.9L3627.4 1405.7L3645.1 1405.7"/>
<path stroke="#e5b900" d="M224.0 2110.3L233.4 2105.5L242.8 2100.7L252.2 2095.8L261.6 2091.0L271.0 2086.2L280.4 2081.5L289.8 2076.7L299.2 2072.0L308.6 2067.3L318.0 2062.6L327.4 2057.9L336.8 2053.3L346.2 2048.7L355.6 2044.2L365.0 2039.7L374.4 2035.2L383.8 2030.8L393.2 2026.4L402.6 2022.0L412.0 2017.7L421.4 2013.4L430.8 2009.2L440.2 2005.0L449.6 2000.8L459.0 1996.7L468.4 1992.6L477.8 1988.6L487.2 1984.6L496.6 1980.7L506.0 1976.8L515.4 1972.9L524.8 1969.1L534.2 1965.3L543.6 1961.5L553.0 1957.8L562.4 1954.1L571.8 1950.5L581.2 1946.9L590.6 1943.3L600.0 1939.7L609.4 1936.2L618.7 1932.6L628.1 1929.2L637.5 1925.7L646.9 1922.3L656.3 1918.9L665.7 1915.5L675.1 1912.1L684.5 1908.8L693.9 1905.4L703.3 1902.1L712.7 1898.9L722.1 1895.6L731.5 1892.4L740.9 1889.1L750.3 1885.9L759.7 1882.8L769.1 1879.6L778.5 1876.4L787.9 1873.3L797.3 1870.2L806.7 1867.1L816.1 1864.0L825.5 1860.9L834.9 1857.9L844.3 1854.8L853.7 1851.8L863.1 1848.7L872.5 1845.7L881.9 1842.7L891.3 1839.7L900.7 1836.6L910.1 1833.6L919.5 1830.6L928.9 1827.5L938.3 1824.5L947.7 1821.4L957.1 1818.4L966.5 1815.3L975.9 1812.2L985.3 1809.1L994.7 1806.0L1004.1 1802.8L1013.5 1799.7L1022.9 1796.5L1032.3 1793.3L1041.7 1790.2L1051.1 1787.0L1060.5 1783.8L1069.9 1780.6L1079.3 1777.4L1088.7 1774.2L1098.1 1771.0L1107.5 1767.9L1116.9 1764.7L1126.3 1761.6L1135.7 1758.5L1145.1 1755.4L1154.5 1752.3L1163.9 1749.2L1173.3 1746.2L1182.7 1743.2L1192.1 1740.2L1201.5 1737.2L1210.9 1734.2L1220.3 1731.3L1229.7 1728.3L1239.1 1725.4L1248.5 1722.5L1257.9 1719.6L1267.3 1716.7L1276.7 1713.8L1286.1 1711.0L1295.5 1708.1L1304.9 1705.2L1314.3 1702.4L1323.7 1699.5L1333.1 1696.6L1342.5 1693.7L1351.9 1690.8L1361.3 1687.9L1370.7 1685.0L1380.1 1682.1L1389.5 1679.1L1398.9 1676.2L1408.3 1673.1L1417.7 1670.1L1427.1 1667.0L1436.5 1663.9L1445.9 1660.7L1455.3 1657.5L1464.7 1654.3L1474.1 1651.0L1483.5 1647.6L1492.8 1644.2L1502.2 1640.8L1511.6 1637.3L1521.0 1633.7L1530.4 1630.1L1539.8 1626.5L1549.2 1622.9L1558.6 1619.2L1568.0 1615.6L1577.4 1611.9L1586.8 1608.2L1596.2 1604.6L1605.6 1600.9L1615.0 1597.3L1624.4 1593.7L1633.8 1590.1L1643.2 1586.6L1652.6 1583.1L1662.0 1579.7L1671.4 1576.3L1680.8 1573.0L1690.2 1569.8L1699.6 1566.6L1709.0 1563.5L1718.4 1560.4L1727.8 1557.4L1737.2 1554.5L1746.6 1551.6L1756.0 1548.9L1765.4 1546.1L1774.8 1543.5L1784.2 1540.9L1793.6 1538.4L1803.0 1535.9L1812.4 1533.5L1821.8 1531.2L1831.2 1528.9L1840.6 1526.7L1850.0 1524.5L1859.4 1522.4L1868.8 1520.3L1878.2 1518.3L1887.6 1516.4L1897.0 1514.5L1906.4 1512.6L1915.8 1510.8L1925.2 1509.0L1934.6 1507.3L1944.0 1505.6L1953.4 1503.9L1962.8 1502.3L1972.2 1500.7L1981.6 1499.2L1991.0 1497.6L2000.4 1496.1L2009.8 1494.7L2019.2 1493.2L2028.6 1491.8L2038.0 1490.3L2047.4 1488.9L2056.8 1487.5L2066.2 1486.2L2075.6 1484.8L2085.0 1483.4L2094.4 1482.1L2103.8 1480.8L2113.2 1479.4L2122.6 1478.1L2132.0 1476.8L2141.4 1475.5L2150.8 1474.2L2160.2 1472.8L2169.6 1471.5L2179.0 1470.2L2188.4 1468.9L2197.8 1467.6L2207.2 1466.3L2216.6 1465.0L2226.0 1463.7L2235.4 1462.4L2244.8 1461.0L2254.2 1459.7L2263.6 1458.4L2273.0 1457.1L2282.4 1455.7L2291.8 1454.4L2301.2 1453.1L2310.6 1451.7L2320.0 1450.4L2329.4 1449.0L2338.8 1447.7L2348.2 1446.3L2357.5 1445.0L2366.9 1443.6L2376.3 1442.3L2385.7 1440.9L2395.1 1439.5L2404.5 1438.1L2413.9 1436.8L2423.3 1435.4L2432.7 1434.0L2442.1 1432.6L2451.5 1431.2L2460.9 1429.7L2470.3 1428.3L2479.7 1426.9L2489.1 1425.4L2498.5 1424.0L2507.9 1422.5L2517.3 1421.0L2526.7 1419.5L2536.1 1417.9L2545.5 1416.4L2554.9 1414.8L2564.3 1413.2L2573.7 1411.6L2583.1 1409.9L2592.5 1408.2L2601.9 1406.5L2611.3 1404.8L2620.7 1403.1L2630.1 1401.3L2639.5 1399.5L2648.9 1397.7L2658.3 1395.8L2667.7 1394.0L2677.1 1392.1L2686.5 1390.2L2695.9 1388.3L2705.3 1386.3L2714.7 1384.4L2724.1 1382.4L2733.5 1380.4L2742.9 1378.4L2752.3 1376.3L2761.7 1374.3L2771.1 1372.2L2780.5 1370.1L2789.9 1368.0L2799.3 1365.9L2808.7 1363.8L2818.1 1361.7L2827.5 1359.5L2836.9 1357.3L2846.3 1355.1L2855.7 1352.9L2865.1 1350.7L2874.5 1348.5L2883.9 1346.2L2893.3 1343.9L2902.7 1341.6L2912.1 1339.3L2921.5 1336.9L2930.9 1334.6L2940.3 1332.2L2949.7 1329.8L2959.1 1327.3L2968.5 1324.9L2977.9 1322.4L2987.3 1319.9L2996.7 1317.4L3006.1 1314.9L3015.5 1312.3L3024.9 1309.7L3034.3 1307.1L3043.7 1304.5L3053.1 1301.8L3062.5 1299.1L3071.9 1296.4L3081.3 1293.7L3090.7 1290.9L3100.1 1288.1L3109.5 1285.3L3118.9 1282.5L3128.3 1279.6L3137.7 1276.6L3147.1 1273.7L3156.5 1270.6L3165.9 1267.6L3175.3 1264.5L3184.7 1261.3L3194.1 1258.2L3203.5 1254.9L3212.9 1251.6L3222.3 1248.3L3231.6 1244.9L3241.0 1241.5L3250.4 1238.0L3259.8 1234.4L3269.2 1230.8L3278.6 1227.1L3288.0 1223.4L3297.4 1219.7L3306.8 1215.8L3316.2 1212.0L3325.6 1208.0L3335.0 1204.0L3344.4 1200.0L3353.8 1195.8L3363.2 1191.7L3372.6 1187.5L3382.0 1183.2L3391.4 1178.9L3400.8 1174.5L3410.2 1170.1L3419.6 1165.6L3429.0 1161.2L3438.4 1156.6L3447.8 1152.1L3457.2 1147.5L3466.6 1142.9L3476.0 1138.2L3485.4 1133.6L3494.8 1128.9L3504.2 1124.2L3513.6 1119.5L3523.0 1114.7L3532.4 1110.0L3541.8 1105.2L3551.2 1100.4L3560.6 1095.6L3570.0 1090.8L3579.4 1085.9L3588.8 1081.1L3598.2 1076.2L3607.6 1071.3L3617.0 1066.4L3626.4 1061.5L3635.8 1056.6L3645.2 1051.7"/>
<path stroke="#000" d="M243.0 2102.5L250.5 2095.8L260.7 2095.4L269.1 2092.1L307.8 2091.7L317.9 2088.4L430.8 2088.0L439.3 2084.8L496.5 2084.5L505.0 2078.1L511.7 2068.0L515.2 2057.0L518.4 2048.6L523.5 2035.1L528.6 2026.7L534.5 2021.6L543.7 2021.3L552.1 2014.9L562.3 2014.1L570.7 2005.6L600.0 2004.8L627.7 2002.8L637.9 1994.3L646.4 1985.8L653.2 1968.8L658.3 1962.0L673.6 1951.8L683.8 1943.3L711.0 1943.3L721.3 1936.5L731.5 1924.6L814.8 1924.5L829.4 1918.7L848.2 1917.6L856.6 1914.1L881.6 1913.4L892.1 1902.0L902.5 1893.6L910.9 1885.2L917.1 1862.3L921.3 1853.9L927.6 1844.5L946.4 1843.9L956.8 1837.2L967.3 1833.0L975.6 1822.6L986.1 1821.5L1002.8 1814.2L1050.8 1813.8L1057.1 1797.5L1060.0 1793.4L1087.3 1785.9L1097.3 1784.7L1107.2 1780.9L1229.4 1780.4L1238.9 1774.2"/>
</g>
<circle cx="1239.5" cy="1774.3" r="22.6" fill="#000"/>
</g>
<rect x="177.5" y="270.5" width="3487.0" height="1848.0" fill="none" stroke="#fff" stroke-width="3"/>
<g stroke="#fff" stroke-width="3">
<path d="M3664.5 2118.5H3679.8"/>
<path d="M3664.5 1826.5H3679.8"/>
<path d="M3664.5 1535.5H3679.8"/>
<path d="M3664.5 1244.5H3679.8"/>
<path d="M3664.5 953.5H3679.8"/>
<path d="M3664.5 662.5H3679.8"/>
<path d="M3664.5 371.5H3679.8"/>
</g>
<g fill="#fff" font-family="'DejaVu Sans','Liberation Sans',sans-serif">
<text x="808.8" y="94.2" font-size="83.33" letter-spacing="0.06">2025 Accumulated Precipitation For Island Park, ID</text>
<text x="1920.5" y="245.5" font-size="50" text-anchor="middle">ID= USS0011E10S | LAT= 44.42 | LON= -111.39 | ELEV= 6290' | Period= 1981-2025</text>
<text x="243.4" y="329.2" font-size="29.17">Source: GHCND and xmACIS | Generated by Jared Rennie (@jjrennie) | Data up to 20250419</text>
<g font-size="41.67">
<text x="224.0" y="2178.6" text-anchor="middle">Jan 1</text>
<text x="515.4" y="2178.6" text-anchor="middle">Feb 1</text>
<text x="787.9" y="2178.6" text-anchor="middle">Mar 1</text>
<text x="1079.3" y="2178.6" text-anchor="middle">Apr 1</text>
<text x="1361.3" y="2178.6" text-anchor="middle">May 1</text>
<text x="1652.6" y="2178.6" text-anchor="middle">Jun 1</text>
<text x="1934.6" y="2178.6" text-anchor="middle">Jul 1</text>
<text x="2226.0" y="2178.6" text-anchor="middle">Aug 1</text>
<text x="2517.3" y="2178.6" text-anchor="middle">Sep 1</text>
<text x="2799.3" y="2178.6" text-anchor="middle">Oct 1</text>
<text x="3090.7" y="2178.6" text-anchor="middle">Nov 1</text>
<text x="3372.6" y="2178.6" text-anchor="middle">Dec 1</text>
<text x="147.3" y="2133.2" text-anchor="end">0</text>
<text x="147.3" y="1763.6" text-anchor="end">10</text>
<text x="147.3" y="1394.0" text-anchor="end">20</text>
<text x="147.3" y="1024.4" text-anchor="end">30</text>
<text x="147.3" y="654.8" text-anchor="end">40</text>
<text x="3693.6" y="2133.2">0</text>
<text x="3693.6" y="1842.2">200</text>
<text x="3693.6" y="1551.2">400</text>
<text x="3693.6" y="1260.1">600</text>
<text x="3693.6" y="969.1">800</text>
<text x="3693.6" y="678.1">1000</text>
<text x="3693.6" y="387.1">1200</text>
</g>
<text transform="translate(67 1194) rotate(-90)" font-size="50" text-anchor="middle">Accumulated Precip (inches)</text>
<text transform="translate(3846 1194) rotate(90)" font-size="50" text-anchor="middle">Accumulated Precip (mm)</text>
<rect x="177.0" y="2224.0" width="3486.6" height="81.8" rx="9.2" ry="9.2" fill="#808080" fill-opacity="0.8" stroke="#cccccc" stroke-opacity="0.8" stroke-width="4"/>
<g font-size="45.83" style="white-space:pre">
<path d="M195.25 2262.4H286.92" stroke="#084081" stroke-width="12.5" stroke-linecap="square"/>
<text x="323.6" y="2279" xml:space="preserve">Max (1996:  39.75")</text>
<path d="M1092.25 2262.4H1183.92" stroke="#7bccc4" stroke-width="12.5" stroke-linecap="square"/>
<text x="1220.6" y="2279" xml:space="preserve">Min (2013:  19.24")</text>
<path d="M1976.15 2262.4H2067.82" stroke="#e5b900" stroke-width="12.5" stroke-linecap="square"/>
<text x="2104.5" y="2279" xml:space="preserve">Avg (1991-2020:  28.96")</text>
<path d="M2996.15 2262.4H3087.82" stroke="#000" stroke-width="12.5" stroke-linecap="square"/>
<text x="3124.5" y="2279" xml:space="preserve">Current (2025:   9.29")</text>
</g>
</g>
</svg>
</body></html>
